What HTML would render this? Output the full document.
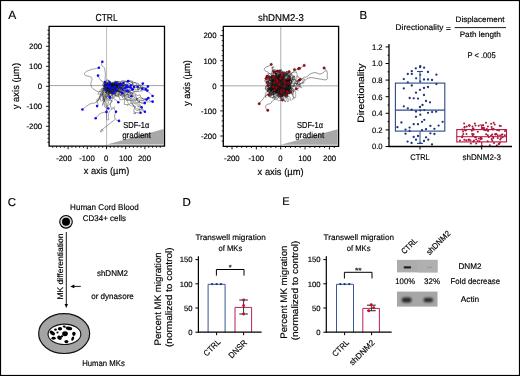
<!DOCTYPE html>
<html><head><meta charset="utf-8"><style>
html,body{margin:0;padding:0;background:#fff;}
svg{display:block;font-family:"Liberation Sans", sans-serif;will-change:transform;text-rendering:geometricPrecision;}
</style></head><body>
<svg width="520" height="376" viewBox="0 0 520 376">

<rect x="0.5" y="0.5" width="519" height="375" fill="#fff" stroke="#000" stroke-width="1.2"/>
<text x="8.3" y="18.8" font-size="12" text-anchor="start" fill="#000" stroke="#000" stroke-width="0.16" textLength="8.0" lengthAdjust="spacingAndGlyphs">A</text>
<text x="359.5" y="18.7" font-size="11.5" text-anchor="start" fill="#000" stroke="#000" stroke-width="0.16" textLength="7.67" lengthAdjust="spacingAndGlyphs">B</text>
<text x="7.8" y="205.7" font-size="11.5" text-anchor="start" fill="#000" stroke="#000" stroke-width="0.16" textLength="8.3" lengthAdjust="spacingAndGlyphs">C</text>
<text x="182.5" y="205.6" font-size="11.5" text-anchor="start" fill="#000" stroke="#000" stroke-width="0.16" textLength="8.3" lengthAdjust="spacingAndGlyphs">D</text>
<text x="282.3" y="205" font-size="11" text-anchor="start" fill="#000" stroke="#000" stroke-width="0.16" textLength="7.34" lengthAdjust="spacingAndGlyphs">E</text>
<line x1="106.60" y1="26.30" x2="106.60" y2="146.20" stroke="#b4b4b4" stroke-width="0.9"/>
<line x1="49.10" y1="85.60" x2="164.50" y2="85.60" stroke="#999" stroke-width="0.9"/>
<polygon points="106.89999999999999,144.5 163.6,144.5 163.6,129.1" fill="#a8a8a8"/>
<text x="136.3" y="127.9" font-size="8.6" text-anchor="middle" fill="#000" stroke="#000" stroke-width="0.16" textLength="26" lengthAdjust="spacingAndGlyphs">SDF-1α</text>
<text x="136.6" y="138.1" font-size="8.6" text-anchor="middle" fill="#000" stroke="#000" stroke-width="0.16" textLength="28.8" lengthAdjust="spacingAndGlyphs">gradient</text>
<path d="M106.6 85.6 L104.5 84.6 L104.3 82.8 L102.1 81.4 L101.5 81.0 L99.4 78.6 L98.9 77.7 L99.1 77.2 L98.0 75.6" fill="none" stroke="#222" stroke-width="0.42" stroke-opacity="1" stroke-linejoin="round"/>
<path d="M106.6 85.6 L108.1 85.0 L107.4 83.8 L107.2 83.4 L106.8 82.9 L106.8 82.9 L107.3 82.6 L106.0 82.6 L104.9 82.0" fill="none" stroke="#222" stroke-width="0.42" stroke-opacity="1" stroke-linejoin="round"/>
<path d="M106.6 85.6 L105.9 85.4 L105.6 85.4 L108.0 85.2 L108.8 84.1 L108.8 84.4 L109.0 84.4 L109.3 83.6 L109.9 82.9" fill="none" stroke="#222" stroke-width="0.42" stroke-opacity="1" stroke-linejoin="round"/>
<path d="M106.6 85.6 L108.3 85.0 L109.2 84.8 L110.2 84.1 L111.3 83.8 L112.6 84.1 L113.0 83.3 L113.9 83.4 L115.5 82.9" fill="none" stroke="#222" stroke-width="0.42" stroke-opacity="1" stroke-linejoin="round"/>
<path d="M106.6 85.6 L106.0 87.0 L105.0 88.1 L104.0 88.4 L101.7 88.8 L101.1 91.3 L100.9 93.3 L100.5 94.9 L99.4 96.6 L100.1 97.2 L98.1 100.1 L97.1 102.0 L96.8 101.7 L98.1 104.4 L97.1 106.1" fill="none" stroke="#222" stroke-width="0.42" stroke-opacity="1" stroke-linejoin="round"/>
<path d="M106.6 85.6 L106.4 86.1 L105.8 87.9 L106.7 90.2 L106.4 93.2 L105.2 95.5 L106.0 96.6 L103.6 97.0 L103.5 99.1 L104.9 99.4 L104.5 101.6 L103.9 100.4 L104.4 104.4 L105.2 104.8 L104.3 106.5 L106.8 108.7 L106.5 111.9" fill="none" stroke="#222" stroke-width="0.42" stroke-opacity="1" stroke-linejoin="round"/>
<path d="M106.6 85.6 L106.7 89.0 L106.2 90.0 L107.2 92.9 L108.1 94.7 L106.4 95.4 L106.0 96.2 L106.8 97.3 L107.8 98.9 L107.7 100.4 L108.4 102.8 L108.1 104.0 L106.8 107.1 L108.6 108.4 L108.3 108.5" fill="none" stroke="#222" stroke-width="0.42" stroke-opacity="1" stroke-linejoin="round"/>
<path d="M106.6 85.6 L107.1 87.2 L109.2 88.9 L108.9 88.3 L110.5 89.9 L109.5 91.5 L108.5 95.8 L109.8 97.7 L110.0 97.4" fill="none" stroke="#222" stroke-width="0.42" stroke-opacity="1" stroke-linejoin="round"/>
<path d="M106.6 85.6 L107.3 86.0 L108.7 85.8 L108.7 89.0 L111.1 89.8 L110.4 92.6 L112.1 93.6 L112.3 94.9 L111.9 96.2 L114.0 98.8 L116.9 100.7 L117.6 101.7 L118.3 102.3" fill="none" stroke="#222" stroke-width="0.42" stroke-opacity="1" stroke-linejoin="round"/>
<path d="M106.6 85.6 L105.2 87.9 L107.5 90.3 L109.8 92.0 L109.6 93.6 L109.8 93.7 L108.5 93.4 L109.2 95.1 L109.3 98.2 L110.2 100.3 L112.3 100.8 L110.7 103.1 L110.5 106.1 L111.6 108.7 L113.1 107.7 L114.6 108.4 L114.4 109.3 L116.0 111.8" fill="none" stroke="#222" stroke-width="0.42" stroke-opacity="1" stroke-linejoin="round"/>
<path d="M106.6 85.6 L109.1 84.9 L110.2 83.6 L111.7 85.0 L112.6 86.1 L114.4 88.0 L115.2 88.1 L116.1 90.6 L118.7 91.3 L120.5 92.3 L122.3 93.0" fill="none" stroke="#222" stroke-width="0.42" stroke-opacity="1" stroke-linejoin="round"/>
<path d="M106.6 85.6 L108.0 84.4 L109.0 86.1 L111.3 86.2 L112.8 86.4 L114.9 85.7 L116.8 86.1 L117.8 85.3 L118.5 84.2 L121.1 81.9 L122.6 81.3 L123.6 81.4 L126.5 81.6 L128.1 81.0" fill="none" stroke="#222" stroke-width="0.42" stroke-opacity="1" stroke-linejoin="round"/>
<path d="M106.6 85.6 L108.3 86.4 L109.8 85.3 L110.5 84.2 L111.1 85.2 L113.3 84.9 L116.5 84.3 L119.1 85.0 L119.5 83.5 L120.5 84.3 L123.6 83.1" fill="none" stroke="#222" stroke-width="0.42" stroke-opacity="1" stroke-linejoin="round"/>
<path d="M106.6 85.6 L109.4 85.3 L110.7 84.9 L112.1 83.2 L112.9 82.0 L115.1 84.2 L119.5 84.0 L119.5 83.7 L120.3 85.8 L122.6 85.2 L125.3 85.8 L125.4 85.4 L126.9 85.5" fill="none" stroke="#222" stroke-width="0.42" stroke-opacity="1" stroke-linejoin="round"/>
<path d="M106.6 85.6 L108.3 85.1 L110.0 84.4 L110.5 86.0 L112.4 86.4 L112.2 86.1 L114.6 84.6 L117.3 84.1 L119.2 83.9 L121.0 85.1 L122.1 86.7 L122.7 85.6 L125.0 84.4 L126.1 85.3 L128.9 83.2 L131.0 85.2" fill="none" stroke="#222" stroke-width="0.42" stroke-opacity="1" stroke-linejoin="round"/>
<path d="M106.6 85.6 L109.6 85.5 L110.4 85.3 L110.7 85.1 L112.1 85.1 L115.0 85.0 L114.9 86.3 L115.2 85.9 L116.7 85.7 L117.1 85.5 L121.2 85.0 L122.6 86.4 L125.0 87.4 L127.6 85.3 L128.2 85.6 L130.4 87.2 L132.5 87.1 L134.1 87.0" fill="none" stroke="#222" stroke-width="0.42" stroke-opacity="1" stroke-linejoin="round"/>
<path d="M106.6 85.6 L108.5 86.0 L109.7 84.6 L110.2 85.6 L113.4 86.4 L116.0 87.0 L117.6 87.4 L117.9 86.8 L118.6 87.3 L119.5 86.7 L121.6 88.0 L122.2 86.4 L124.8 84.7 L127.0 83.5 L128.4 81.0 L130.9 81.0 L131.4 82.0 L133.9 86.0 L136.0 85.1 L137.7 86.7" fill="none" stroke="#222" stroke-width="0.42" stroke-opacity="1" stroke-linejoin="round"/>
<path d="M106.6 85.6 L108.5 86.4 L111.1 85.3 L113.1 84.8 L113.4 86.1 L116.2 86.4 L116.9 83.9 L119.4 83.9 L119.1 84.0 L118.9 84.1 L121.0 84.7 L123.2 85.1 L123.6 84.8 L124.8 84.6 L127.1 85.6 L131.2 82.3 L133.6 82.2 L138.6 83.6 L138.3 84.4 L139.5 85.9 L140.0 85.9 L141.7 85.9 L142.8 83.6" fill="none" stroke="#222" stroke-width="0.42" stroke-opacity="1" stroke-linejoin="round"/>
<path d="M106.6 85.6 L108.9 87.7 L110.3 86.8 L112.2 88.3 L113.5 88.9 L117.2 87.9 L117.9 85.7 L118.5 85.3 L118.7 84.9 L122.9 85.2 L124.3 89.1 L125.8 87.2 L128.0 86.4 L131.9 85.2 L132.7 83.5 L134.4 82.7 L135.9 82.8 L136.6 84.8 L139.5 85.5 L139.8 84.5 L141.7 88.7 L142.7 88.1 L143.2 87.2 L143.4 87.5 L147.1 88.1 L147.9 86.4" fill="none" stroke="#222" stroke-width="0.42" stroke-opacity="1" stroke-linejoin="round"/>
<path d="M106.6 85.6 L108.5 85.5 L108.4 83.9 L109.9 85.2 L112.3 85.4 L113.5 85.7 L115.0 88.5 L115.1 87.9 L118.4 87.5 L121.8 87.3 L123.6 86.7 L123.3 85.3 L127.9 86.1 L130.3 87.3 L132.6 88.5 L133.8 88.2 L136.7 87.6 L136.5 87.2 L137.4 87.9 L138.0 86.4 L139.1 88.4 L140.6 88.5 L142.2 88.8" fill="none" stroke="#222" stroke-width="0.42" stroke-opacity="1" stroke-linejoin="round"/>
<path d="M106.6 85.6 L109.5 87.8 L108.7 89.9 L110.2 89.7 L115.1 89.7 L119.4 91.3 L119.5 92.2 L122.1 92.2 L120.3 92.0 L121.6 90.6 L125.7 90.5 L126.7 90.3 L127.2 89.4 L128.8 90.1 L129.7 90.2 L129.2 91.1 L129.7 91.6 L130.0 91.1 L131.8 89.6 L136.9 89.8 L138.3 89.0 L142.1 91.2 L144.1 89.5 L144.9 90.6 L145.7 89.1" fill="none" stroke="#222" stroke-width="0.42" stroke-opacity="1" stroke-linejoin="round"/>
<path d="M106.6 85.6 L106.6 84.9 L108.4 84.3 L110.2 88.8 L114.5 87.7 L116.7 88.2 L118.3 90.1 L119.6 90.0 L120.8 90.3 L124.4 91.8 L124.2 91.6 L124.8 93.2 L126.9 94.8 L128.5 92.5 L130.9 93.2 L133.4 91.7 L135.3 91.1 L136.0 92.0 L138.3 91.1 L137.5 87.9 L138.5 89.9 L140.1 87.1 L140.6 88.1 L144.8 90.2 L147.1 90.9 L147.3 90.6" fill="none" stroke="#222" stroke-width="0.42" stroke-opacity="1" stroke-linejoin="round"/>
<path d="M106.6 85.6 L107.6 85.0 L109.1 84.9 L110.9 86.8 L113.2 87.5 L114.3 86.1 L115.6 87.0 L115.9 88.7 L116.9 89.4 L118.0 88.3 L121.7 87.3 L124.2 86.9 L125.9 86.3 L126.9 87.6 L130.5 87.0 L131.9 88.3 L132.6 89.4" fill="none" stroke="#222" stroke-width="0.42" stroke-opacity="1" stroke-linejoin="round"/>
<path d="M106.6 85.6 L107.0 87.1 L108.8 89.2 L110.4 88.6 L112.5 88.1 L114.6 90.6 L116.6 90.8 L119.2 91.7 L119.1 92.1 L122.0 92.5 L123.4 92.9 L122.7 93.0 L124.4 94.1 L125.5 92.4 L128.2 94.0 L130.6 96.2 L131.4 96.3" fill="none" stroke="#222" stroke-width="0.42" stroke-opacity="1" stroke-linejoin="round"/>
<path d="M106.6 85.6 L108.5 88.7 L107.3 88.7 L107.6 90.0 L111.3 90.0 L110.8 90.5 L111.8 88.5 L114.6 88.1 L117.2 86.4 L120.3 84.5 L123.4 82.1 L127.1 81.9 L126.0 81.9 L128.0 81.0 L128.6 81.6 L129.8 81.0 L130.6 81.0 L132.5 81.0 L132.8 84.8 L135.5 85.7 L138.7 87.7 L140.3 87.1 L143.3 88.2 L141.8 86.9 L143.9 87.4 L145.8 88.9 L147.5 91.8 L148.0 91.6 L149.9 93.2 L152.6 96.0" fill="none" stroke="#222" stroke-width="0.42" stroke-opacity="1" stroke-linejoin="round"/>
<path d="M106.6 85.6 L107.3 87.8 L109.5 86.6 L110.8 90.1 L113.4 89.8 L111.3 89.1 L111.7 89.6 L116.6 91.1 L118.6 90.1 L118.2 90.2 L119.0 95.1 L119.8 94.6 L123.0 95.1 L122.6 97.4 L123.6 95.8 L125.6 96.9 L126.5 98.4 L129.2 97.4 L127.6 94.2 L128.8 96.5 L131.8 99.0 L136.1 99.4 L139.1 97.5 L141.6 98.4 L143.0 98.2 L142.7 98.8 L146.1 98.6 L148.4 98.0" fill="none" stroke="#222" stroke-width="0.42" stroke-opacity="1" stroke-linejoin="round"/>
<path d="M106.6 85.6 L108.6 84.6 L110.7 84.8 L112.8 84.4 L112.7 84.4 L115.8 87.2 L116.9 88.9 L119.6 90.0 L118.9 91.0 L119.1 93.2 L121.9 94.6 L119.7 96.0 L122.3 94.6 L125.4 95.2 L126.7 94.7 L126.8 94.5 L133.0 95.3 L134.9 94.9 L135.6 94.5 L135.8 96.3 L137.0 98.1 L136.9 100.0 L138.5 101.5 L139.9 100.6 L143.3 100.5 L144.7 99.7 L146.6 99.6" fill="none" stroke="#222" stroke-width="0.42" stroke-opacity="1" stroke-linejoin="round"/>
<path d="M106.6 85.6 L108.5 86.7 L108.8 84.9 L110.9 86.9 L113.4 85.5 L115.8 86.7 L117.7 87.9 L118.6 88.7 L121.5 88.4 L120.5 88.7 L122.3 86.3 L122.6 87.7 L123.8 88.4 L123.1 90.4 L127.4 90.5 L127.6 89.2 L130.5 89.8 L130.6 92.3 L133.2 93.8 L131.8 94.1 L134.2 92.7 L137.1 95.5 L140.2 94.8 L140.5 96.9 L143.5 99.4 L146.9 99.7 L147.6 97.2 L150.3 101.4 L150.9 101.1 L153.4 102.3 L152.6 101.6" fill="none" stroke="#222" stroke-width="0.42" stroke-opacity="1" stroke-linejoin="round"/>
<path d="M106.6 85.6 L106.3 88.9 L106.5 90.5 L110.7 93.7 L114.1 96.4 L113.6 96.3 L113.8 96.2 L119.0 94.0 L121.1 92.6 L124.4 94.8 L125.0 98.2 L126.4 100.5 L128.2 100.0 L128.9 100.2 L131.2 100.7 L136.0 100.8 L136.6 100.1 L136.7 98.3 L136.6 100.0 L138.0 100.1 L139.8 102.0 L142.1 103.5 L142.5 103.4 L142.7 103.7 L142.8 103.4 L143.9 103.5 L144.8 103.1" fill="none" stroke="#222" stroke-width="0.42" stroke-opacity="1" stroke-linejoin="round"/>
<path d="M106.6 85.6 L110.5 86.3 L111.0 87.9 L111.4 87.5 L113.5 86.3 L110.7 88.0 L114.2 86.8 L114.9 88.9 L114.0 88.8 L114.2 89.8 L113.3 92.3 L115.0 94.0 L116.5 92.1 L118.3 91.4 L120.3 91.4 L121.8 92.3 L124.9 94.7 L125.4 95.9 L129.5 97.8 L130.4 98.9 L131.8 101.5 L133.9 103.3 L139.1 102.5 L139.6 101.2 L139.2 103.7 L141.6 107.3" fill="none" stroke="#222" stroke-width="0.42" stroke-opacity="1" stroke-linejoin="round"/>
<path d="M106.6 85.6 L104.4 85.1 L107.5 87.6 L109.7 89.8 L110.6 90.7 L111.6 92.9 L112.2 94.3 L115.3 93.4 L115.0 95.2 L115.4 95.8 L119.6 97.3 L119.8 99.9 L124.6 99.1 L124.4 100.1 L124.3 104.4 L126.0 104.7 L127.6 104.3 L127.5 105.4 L132.1 102.7 L133.6 105.7 L135.7 109.6 L137.2 110.7 L137.9 110.2 L141.3 109.3 L142.0 109.3 L141.6 106.7 L141.9 107.8 L143.0 110.0 L143.6 109.9 L144.9 111.8" fill="none" stroke="#222" stroke-width="0.42" stroke-opacity="1" stroke-linejoin="round"/>
<path d="M106.6 85.6 L106.8 84.0 L106.9 86.3 L110.0 85.7 L111.8 87.7 L115.4 87.4 L116.6 90.2 L121.9 93.2 L121.7 94.6 L122.9 95.2 L123.5 95.2 L125.1 98.6 L127.7 100.0 L129.4 99.6 L130.6 102.1 L133.5 105.8 L135.5 106.5 L134.6 107.8 L133.6 110.8 L134.3 111.5 L133.9 111.5 L134.1 113.9 L136.0 112.8 L134.7 113.4 L135.6 112.4 L138.1 112.9 L139.9 112.7 L140.6 112.7" fill="none" stroke="#222" stroke-width="0.42" stroke-opacity="1" stroke-linejoin="round"/>
<path d="M106.6 85.6 L105.9 86.0 L106.4 85.0 L106.7 85.7 L107.0 86.4 L107.1 86.5 L106.6 86.0 L105.8 85.5 L106.2 85.8" fill="none" stroke="#222" stroke-width="0.42" stroke-opacity="1" stroke-linejoin="round"/>
<path d="M106.6 85.6 L107.6 85.6 L107.2 85.7 L107.3 86.7 L108.7 87.2 L108.3 86.8 L108.6 86.2 L109.2 86.6 L109.9 86.6" fill="none" stroke="#222" stroke-width="0.42" stroke-opacity="1" stroke-linejoin="round"/>
<path d="M106.6 85.6 L106.7 84.9 L107.3 85.7 L109.1 86.3 L110.1 86.7 L111.4 87.5 L112.7 86.3 L114.1 86.4 L114.5 86.7" fill="none" stroke="#222" stroke-width="0.42" stroke-opacity="1" stroke-linejoin="round"/>
<path d="M106.6 85.6 L108.7 85.6 L109.2 85.7 L111.5 85.7 L112.1 86.1 L114.6 86.3 L116.8 86.0 L118.1 86.5 L119.7 86.7" fill="none" stroke="#222" stroke-width="0.42" stroke-opacity="1" stroke-linejoin="round"/>
<path d="M106.6 85.6 L109.3 86.3 L109.9 85.4 L110.5 86.2 L110.5 86.3 L109.5 86.9 L109.6 87.6 L111.0 87.7 L112.2 88.1" fill="none" stroke="#222" stroke-width="0.42" stroke-opacity="1" stroke-linejoin="round"/>
<path d="M106.6 85.6 L106.5 85.6 L105.9 86.7 L106.5 86.3 L107.0 86.0 L106.1 87.0 L105.2 88.0 L105.4 88.8 L105.7 89.8" fill="none" stroke="#222" stroke-width="0.42" stroke-opacity="1" stroke-linejoin="round"/>
<path d="M106.6 85.6 L108.0 86.3 L109.2 87.5 L110.0 88.5 L112.3 88.7 L113.7 88.6 L114.5 89.1 L115.3 88.7 L116.4 89.1" fill="none" stroke="#222" stroke-width="0.42" stroke-opacity="1" stroke-linejoin="round"/>
<path d="M106.6 85.6 L108.5 86.3 L108.5 87.6 L109.9 87.0 L111.2 87.5 L113.6 87.2 L115.3 85.8 L117.1 85.8 L118.3 86.7 L121.5 87.7 L122.4 89.1" fill="none" stroke="#222" stroke-width="0.42" stroke-opacity="1" stroke-linejoin="round"/>
<path d="M106.6 85.6 L108.1 85.9 L109.4 86.7 L111.8 87.2 L113.4 87.4 L114.9 88.7 L116.2 88.9 L117.8 88.5 L119.4 87.4 L121.7 88.3 L123.2 90.2 L124.3 91.1 L126.6 90.9" fill="none" stroke="#222" stroke-width="0.42" stroke-opacity="1" stroke-linejoin="round"/>
<path d="M106.6 85.6 L108.1 86.7 L109.9 87.2 L113.2 87.6 L113.1 86.9 L115.8 86.9 L116.4 84.9 L118.5 86.7 L118.8 84.4 L121.2 84.0 L122.6 83.8 L123.3 84.4 L126.1 84.9 L127.3 86.2 L128.9 87.0 L129.6 87.9 L132.2 89.5" fill="none" stroke="#222" stroke-width="0.42" stroke-opacity="1" stroke-linejoin="round"/>
<path d="M106.6 85.6 L108.2 86.5 L109.2 87.8 L111.5 89.3 L112.7 88.7 L114.2 89.0 L115.1 90.0 L117.5 90.9 L120.1 91.7 L120.8 91.7 L122.0 92.8" fill="none" stroke="#222" stroke-width="0.42" stroke-opacity="1" stroke-linejoin="round"/>
<path d="M106.6 85.6 L108.1 86.7 L109.7 87.1 L110.4 89.2 L111.5 91.0 L110.9 90.8 L111.0 92.5 L113.1 93.1 L113.1 93.3" fill="none" stroke="#222" stroke-width="0.42" stroke-opacity="1" stroke-linejoin="round"/>
<path d="M106.6 85.6 L106.2 87.1 L106.2 89.7 L107.1 90.2 L107.6 91.1 L108.6 92.9 L108.6 94.6 L109.4 95.6 L109.9 97.2" fill="none" stroke="#222" stroke-width="0.42" stroke-opacity="1" stroke-linejoin="round"/>
<path d="M106.6 85.6 L108.6 84.9 L111.9 84.7 L113.6 84.9 L114.6 84.8 L115.7 84.2 L116.4 83.4 L119.4 83.1 L120.6 84.4" fill="none" stroke="#222" stroke-width="0.42" stroke-opacity="1" stroke-linejoin="round"/>
<path d="M106.6 85.6 L107.5 86.5 L108.6 84.4 L112.0 83.4 L114.3 84.0 L114.6 83.5 L115.5 83.5 L117.1 81.6 L118.7 81.8 L120.0 81.8 L121.0 81.1 L122.9 80.7 L125.8 81.1 L128.2 81.2" fill="none" stroke="#222" stroke-width="0.42" stroke-opacity="1" stroke-linejoin="round"/>
<path d="M106.3 88.9 L107.7 89.1 L108.8 91.2 L110.3 90.5 L111.2 90.1 L112.1 89.4 L112.1 91.9 L114.6 90.4 L114.4 90.3 L115.1 89.1 L117.4 87.6 L119.4 89.0 L120.0 88.7 L121.3 89.4 L119.7 88.4" fill="none" stroke="#111" stroke-width="0.45" stroke-opacity="1" stroke-linejoin="round"/>
<path d="M108.4 86.7 L108.4 85.8 L112.8 84.3 L115.6 84.9 L116.8 85.2 L117.2 87.4 L118.8 87.4 L119.5 87.7 L119.0 87.4 L119.1 88.2 L120.7 85.9 L121.3 87.2 L120.6 85.8 L122.8 85.7 L123.1 84.2" fill="none" stroke="#111" stroke-width="0.45" stroke-opacity="1" stroke-linejoin="round"/>
<path d="M106.3 85.1 L108.5 84.5 L109.1 84.3 L110.3 84.2 L110.9 83.7 L111.5 82.7 L113.0 83.9 L113.6 84.4 L115.4 84.3 L117.5 83.4 L119.6 83.5 L116.4 83.7 L118.5 86.0 L118.5 85.8 L120.2 84.4" fill="none" stroke="#111" stroke-width="0.45" stroke-opacity="1" stroke-linejoin="round"/>
<path d="M108.2 87.7 L107.8 90.8 L110.7 87.7 L108.6 88.7 L108.6 87.9 L109.5 88.1 L110.0 88.5 L108.8 90.3 L108.3 91.8 L109.3 91.9 L109.7 92.0 L107.5 91.6 L108.2 89.6 L106.4 91.1 L107.6 89.2" fill="none" stroke="#111" stroke-width="0.45" stroke-opacity="1" stroke-linejoin="round"/>
<path d="M109.4 86.6 L110.4 85.6 L111.9 85.4 L112.3 84.9 L112.7 85.7 L112.6 83.7 L112.7 85.0 L113.3 85.8 L115.5 85.1 L117.7 85.7 L119.0 84.8 L120.2 83.1 L121.1 82.3 L122.9 82.7 L123.4 83.8" fill="none" stroke="#111" stroke-width="0.45" stroke-opacity="1" stroke-linejoin="round"/>
<path d="M107.2 86.2 L104.4 85.1 L105.5 87.3 L104.8 89.0 L108.1 91.0 L105.4 92.1 L105.9 93.0 L106.0 91.9 L106.0 93.5 L107.4 92.8 L108.2 93.5 L109.3 93.1 L108.7 91.9 L108.5 90.8 L106.8 88.6" fill="none" stroke="#111" stroke-width="0.45" stroke-opacity="1" stroke-linejoin="round"/>
<path d="M107.6 87.4 L111.0 89.5 L111.9 88.6 L112.7 87.9 L113.5 89.0 L113.6 88.4 L114.8 88.8 L115.3 88.2 L115.3 87.7 L117.5 87.8 L115.0 89.1 L116.4 88.4 L117.6 84.9 L116.9 86.9 L121.2 90.1" fill="none" stroke="#111" stroke-width="0.45" stroke-opacity="1" stroke-linejoin="round"/>
<path d="M109.0 87.8 L111.4 86.9 L111.9 85.3 L112.6 85.2 L114.1 83.7 L114.2 86.0 L112.8 86.4 L113.5 85.7 L113.3 87.5 L114.9 88.2 L115.4 86.6 L115.7 88.9 L117.2 87.1 L114.6 86.2 L114.9 85.4" fill="none" stroke="#111" stroke-width="0.45" stroke-opacity="1" stroke-linejoin="round"/>
<path d="M105.7 86.3 L107.8 84.3 L108.9 84.6 L107.4 86.0 L105.7 83.9 L109.6 85.4 L110.6 86.9 L112.5 85.2 L113.6 86.8 L113.8 86.7 L113.6 87.4 L113.3 86.4 L112.2 85.0 L112.9 85.4 L112.8 83.8" fill="none" stroke="#111" stroke-width="0.45" stroke-opacity="1" stroke-linejoin="round"/>
<path d="M109.4 87.7 L109.2 87.3 L111.6 86.2 L111.9 84.0 L111.8 84.2 L113.3 84.7 L111.6 84.8 L110.7 84.5 L108.0 83.4 L107.3 84.1 L107.8 84.8 L107.7 86.3 L107.5 87.8 L107.2 85.5 L108.8 84.0" fill="none" stroke="#111" stroke-width="0.45" stroke-opacity="1" stroke-linejoin="round"/>
<path d="M107.4 84.9 L107.5 85.7 L105.5 87.2 L105.9 89.4 L106.5 88.9 L106.9 89.5 L108.7 89.2 L108.7 90.1 L110.8 88.1 L110.4 87.5 L113.7 89.4 L115.7 90.4 L115.3 92.2 L115.7 91.4 L119.2 89.8" fill="none" stroke="#111" stroke-width="0.45" stroke-opacity="1" stroke-linejoin="round"/>
<path d="M107.5 86.4 L106.1 87.0 L105.0 85.7 L108.2 85.4 L109.2 85.6 L109.8 84.3 L108.2 80.3 L109.2 81.2 L107.4 82.6 L107.9 86.8 L107.9 88.3 L108.5 89.7 L108.1 89.4 L108.8 91.4 L107.0 90.2" fill="none" stroke="#111" stroke-width="0.45" stroke-opacity="1" stroke-linejoin="round"/>
<path d="M108.5 88.5 L109.3 89.4 L111.6 89.6 L113.9 88.6 L114.8 88.7 L113.0 88.3 L114.4 89.7 L113.7 91.1 L114.6 92.2 L114.7 92.6 L113.3 92.4 L113.2 91.4 L112.5 91.6 L112.5 92.9 L110.9 92.3" fill="none" stroke="#111" stroke-width="0.45" stroke-opacity="1" stroke-linejoin="round"/>
<path d="M109.0 85.4 L111.0 84.6 L110.0 85.1 L112.6 82.2 L112.9 81.8 L114.7 83.3 L114.9 80.8 L116.3 81.7 L117.3 81.3 L116.7 84.1 L115.6 81.6 L117.3 81.6 L118.7 81.6 L121.3 83.0 L121.1 83.9" fill="none" stroke="#111" stroke-width="0.45" stroke-opacity="1" stroke-linejoin="round"/>
<path d="M109.4 87.4 L107.5 87.7 L107.6 88.6 L108.5 87.8 L108.5 89.1 L108.2 89.5 L107.9 90.3 L111.2 91.3 L113.6 92.1 L113.3 92.0 L114.3 92.8 L114.5 93.9 L114.5 94.2 L115.4 92.9 L117.7 93.2" fill="none" stroke="#111" stroke-width="0.45" stroke-opacity="1" stroke-linejoin="round"/>
<path d="M108.0 89.4 L108.0 89.9 L108.4 90.0 L108.3 88.1 L108.8 88.7 L107.8 87.7 L109.6 87.1 L110.7 87.3 L112.3 85.2 L114.3 83.4 L115.1 84.5 L119.5 85.7 L121.2 83.9 L121.4 85.3 L123.0 82.7" fill="none" stroke="#111" stroke-width="0.45" stroke-opacity="1" stroke-linejoin="round"/>
<path d="M105.8 87.7 L103.2 87.7 L103.3 88.4 L105.5 88.4 L105.6 89.3 L105.8 88.8 L104.4 86.4 L105.1 87.0 L105.6 86.6 L105.9 86.2 L104.8 87.6 L105.9 89.3 L106.1 89.7 L108.1 92.3 L107.6 91.8" fill="none" stroke="#111" stroke-width="0.45" stroke-opacity="1" stroke-linejoin="round"/>
<path d="M106.8 89.4 L104.7 87.5 L105.7 88.1 L103.9 86.8 L106.5 87.9 L106.8 87.2 L106.3 87.0 L105.5 83.6 L104.2 82.9 L103.1 83.6 L105.4 84.2 L107.0 84.9 L107.9 85.3 L109.2 85.6 L108.5 84.0" fill="none" stroke="#111" stroke-width="0.45" stroke-opacity="1" stroke-linejoin="round"/>
<path d="M109.0 86.4 L108.3 85.6 L110.1 85.5 L110.4 84.6 L110.8 86.7 L110.5 86.2 L113.4 87.2 L112.5 88.6 L111.5 89.3 L108.8 88.0 L110.6 87.2 L110.3 87.3 L110.9 86.7 L110.6 89.1 L113.2 89.5" fill="none" stroke="#111" stroke-width="0.45" stroke-opacity="1" stroke-linejoin="round"/>
<path d="M106.9 85.4 L109.4 85.2 L109.9 85.2 L110.5 84.9 L111.3 86.9 L111.1 87.1 L111.6 85.9 L114.4 84.7 L114.3 84.1 L116.6 84.0 L116.3 87.1 L116.5 86.6 L116.8 87.4 L116.2 87.7 L116.3 89.2" fill="none" stroke="#111" stroke-width="0.45" stroke-opacity="1" stroke-linejoin="round"/>
<path d="M106.7 86.0 L106.6 87.7 L107.3 87.2 L109.1 85.4 L108.0 84.5 L108.0 83.0 L106.6 80.6 L106.9 79.8 L109.9 80.9 L108.6 82.7 L108.9 84.3 L107.6 85.9 L109.3 85.5 L108.3 85.1 L108.8 88.4" fill="none" stroke="#111" stroke-width="0.45" stroke-opacity="1" stroke-linejoin="round"/>
<path d="M108.2 85.0 L108.6 85.6 L107.9 86.3 L108.9 87.2 L109.1 87.9 L108.8 88.4 L110.3 89.7 L112.2 90.5 L113.4 89.7 L112.8 90.6 L111.9 91.4 L110.6 92.2 L109.6 93.2 L109.1 92.9 L108.5 93.9" fill="none" stroke="#111" stroke-width="0.45" stroke-opacity="1" stroke-linejoin="round"/>
<path d="M109.5 87.4 L110.1 89.0 L108.9 91.5 L112.0 90.9 L114.7 90.7 L116.4 89.1 L117.8 90.1 L116.0 89.8 L114.4 89.3 L114.8 89.9 L111.4 90.2 L111.8 91.1 L113.9 89.5 L114.1 90.3 L114.9 89.3" fill="none" stroke="#111" stroke-width="0.45" stroke-opacity="1" stroke-linejoin="round"/>
<path d="M108.6 88.6 L109.4 88.4 L110.7 84.8 L111.6 83.4 L111.3 84.2 L113.8 84.2 L114.0 85.7 L113.2 85.3 L112.8 83.8 L113.4 86.2 L114.0 86.7 L114.3 87.9 L114.8 86.5 L115.2 88.2 L115.4 89.6" fill="none" stroke="#111" stroke-width="0.45" stroke-opacity="1" stroke-linejoin="round"/>
<path d="M106.3 85.8 L106.7 87.4 L107.1 85.9 L108.2 84.8 L110.8 86.4 L111.6 87.8 L108.9 90.3 L108.8 91.7 L112.8 90.1 L113.0 91.0 L114.3 89.3 L113.8 91.7 L113.7 93.0 L112.6 92.3 L110.9 93.1" fill="none" stroke="#111" stroke-width="0.45" stroke-opacity="1" stroke-linejoin="round"/>
<path d="M107.1 84.9 L107.1 84.1 L107.3 86.2 L109.6 85.0 L107.3 87.1 L108.0 88.3 L108.2 87.5 L108.9 88.6 L109.8 86.7 L110.6 85.8 L109.5 85.9 L108.4 88.4 L108.6 88.4 L107.7 88.3 L106.8 88.6" fill="none" stroke="#111" stroke-width="0.45" stroke-opacity="1" stroke-linejoin="round"/>
<path d="M107.8 87.4 L107.7 86.1 L108.1 86.1 L108.0 86.9 L107.0 89.1 L108.2 88.7 L108.7 89.9 L107.5 89.6 L108.3 86.5 L106.4 87.2 L107.1 86.2 L108.1 89.3 L108.2 89.5 L108.1 88.4 L108.7 88.9" fill="none" stroke="#111" stroke-width="0.45" stroke-opacity="1" stroke-linejoin="round"/>
<path d="M106.4 84.7 L107.2 87.4 L105.6 87.8 L105.1 88.3 L106.4 88.8 L107.7 89.5 L107.1 89.0 L105.6 89.7 L105.4 91.2 L106.9 90.4 L105.8 91.6 L105.0 92.3 L106.1 92.2 L108.7 91.6 L109.5 91.4" fill="none" stroke="#111" stroke-width="0.45" stroke-opacity="1" stroke-linejoin="round"/>
<path d="M106.8 85.5 L107.4 85.0 L107.6 85.1 L109.4 85.2 L111.9 86.8 L111.7 88.6 L109.6 89.1 L109.2 89.5 L111.5 90.0 L112.1 92.1 L112.0 91.5 L114.1 92.8 L113.1 93.5 L114.9 93.8 L115.3 94.4" fill="none" stroke="#111" stroke-width="0.45" stroke-opacity="1" stroke-linejoin="round"/>
<path d="M108.9 88.6 L109.9 91.2 L109.7 91.0 L107.8 89.8 L107.4 89.7 L107.9 91.9 L107.8 91.7 L109.2 92.4 L111.4 90.2 L115.4 89.6 L115.6 87.3 L116.1 84.8 L117.5 83.9 L119.0 82.7 L120.2 85.4" fill="none" stroke="#111" stroke-width="0.45" stroke-opacity="1" stroke-linejoin="round"/>
<path d="M107.0 88.6 L104.6 87.4 L106.1 87.3 L107.7 88.7 L110.3 91.7 L110.9 91.5 L111.5 94.0 L111.5 90.9 L110.8 91.1 L110.6 91.3 L111.9 90.4 L112.3 88.4 L109.3 87.8 L108.1 87.3 L107.0 88.7" fill="none" stroke="#111" stroke-width="0.45" stroke-opacity="1" stroke-linejoin="round"/>
<path d="M108.8 85.7 L107.4 84.0 L106.8 82.6 L106.2 83.7 L106.8 85.5 L105.5 82.7 L104.0 85.4 L104.8 85.0 L106.4 84.5 L108.5 84.1 L107.8 85.1 L106.3 85.0 L108.7 85.7 L107.1 85.4 L107.0 84.5" fill="none" stroke="#111" stroke-width="0.45" stroke-opacity="1" stroke-linejoin="round"/>
<path d="M106.6 86.2 L107.6 86.8 L107.3 88.3 L109.8 88.1 L109.3 89.1 L110.1 90.9 L111.5 91.1 L110.4 92.2 L111.2 90.9 L109.9 88.9 L111.4 88.6 L107.8 87.8 L107.6 88.0 L108.3 87.9 L110.0 89.6" fill="none" stroke="#111" stroke-width="0.45" stroke-opacity="1" stroke-linejoin="round"/>
<path d="M108.5 86.2 L109.2 84.9 L109.3 84.1 L109.3 85.0 L106.6 86.1 L107.4 86.4 L108.9 87.4 L108.9 86.7 L110.4 88.3 L109.0 87.9 L107.9 89.6 L107.7 88.5 L110.2 89.7 L111.0 90.6 L111.2 91.2" fill="none" stroke="#111" stroke-width="0.45" stroke-opacity="1" stroke-linejoin="round"/>
<path d="M107.5 85.1 L110.6 83.7 L109.5 83.2 L108.6 85.9 L110.1 86.0 L111.2 87.9 L110.5 87.2 L108.9 88.1 L109.5 89.7 L109.7 87.7 L109.5 88.1 L109.0 87.7 L108.7 86.1 L108.6 87.6 L107.8 87.3" fill="none" stroke="#111" stroke-width="0.45" stroke-opacity="1" stroke-linejoin="round"/>
<path d="M107.1 89.1 L111.0 88.5 L111.1 89.4 L112.7 88.0 L113.8 84.7 L114.4 82.8 L114.3 83.3 L116.3 85.3 L114.4 84.1 L114.9 85.6 L117.9 85.5 L119.7 84.2 L120.6 83.4 L119.0 85.6 L121.6 88.1" fill="none" stroke="#111" stroke-width="0.45" stroke-opacity="1" stroke-linejoin="round"/>
<path d="M108.9 88.8 L107.7 90.0 L107.3 88.0 L107.5 86.5 L107.6 88.7 L106.3 88.2 L107.1 88.3 L107.5 87.3 L107.2 84.3 L107.1 86.1 L105.8 86.0 L106.8 87.7 L108.5 86.7 L108.1 89.1 L107.6 89.6" fill="none" stroke="#111" stroke-width="0.45" stroke-opacity="1" stroke-linejoin="round"/>
<path d="M107.7 89.6 L105.6 88.1 L105.0 89.8 L106.8 90.2 L106.8 88.2 L108.2 87.0 L108.8 88.2 L109.3 88.0 L108.7 89.3 L110.1 90.1 L113.0 87.8 L113.7 88.6 L114.9 88.8 L116.3 86.7 L116.9 88.1" fill="none" stroke="#111" stroke-width="0.45" stroke-opacity="1" stroke-linejoin="round"/>
<path d="M108.9 88.9 L110.2 90.0 L110.6 88.0 L112.1 86.5 L111.8 85.8 L110.4 85.8 L109.6 84.1 L111.4 83.2 L112.5 84.1 L115.3 85.9 L115.3 86.2 L113.9 86.4 L116.5 84.5 L117.8 84.7 L118.4 82.9" fill="none" stroke="#111" stroke-width="0.45" stroke-opacity="1" stroke-linejoin="round"/>
<path d="M106.5 86.4 L107.9 88.3 L111.0 88.8 L114.5 89.6 L113.9 89.0 L115.4 89.1 L114.3 92.0 L113.4 90.4 L115.1 90.5 L118.2 90.6 L119.8 91.4 L120.0 89.5 L120.5 90.7 L121.2 92.2 L121.6 93.1" fill="none" stroke="#111" stroke-width="0.45" stroke-opacity="1" stroke-linejoin="round"/>
<path d="M106.6 84.7 L106.6 86.9 L107.1 88.1 L108.6 87.5 L108.1 88.0 L110.3 87.1 L109.6 86.4 L109.6 85.5 L109.1 86.8 L108.3 87.3 L107.3 87.6 L108.6 85.5 L109.2 86.4 L109.7 87.3 L110.8 86.1" fill="none" stroke="#111" stroke-width="0.45" stroke-opacity="1" stroke-linejoin="round"/>
<path d="M109.1 88.8 L108.2 87.3 L108.1 86.1 L106.7 87.4 L109.5 85.0 L111.6 84.0 L112.4 84.8 L113.9 84.8 L112.7 85.0 L113.6 84.1 L114.0 84.3 L114.2 84.6 L114.9 86.0 L114.4 85.8 L111.5 84.9" fill="none" stroke="#111" stroke-width="0.45" stroke-opacity="1" stroke-linejoin="round"/>
<path d="M108.0 87.5 L108.9 89.1 L110.7 88.2 L111.3 89.8 L110.4 89.7 L109.0 89.1 L110.2 89.5 L110.0 89.0 L112.2 90.2 L110.8 93.3 L110.5 93.4 L110.1 92.8 L111.2 91.2 L111.5 91.0 L114.0 91.7" fill="none" stroke="#111" stroke-width="0.45" stroke-opacity="1" stroke-linejoin="round"/>
<path d="M105.7 85.4 L103.1 86.1 L103.2 87.2 L104.2 86.7 L103.5 85.5 L104.5 85.6 L103.9 85.3 L104.9 84.6 L105.2 84.0 L102.4 84.3 L103.0 85.5 L105.3 84.7 L106.6 85.2 L107.3 86.5 L109.0 85.0" fill="none" stroke="#111" stroke-width="0.45" stroke-opacity="1" stroke-linejoin="round"/>
<path d="M108.1 86.5 L109.1 85.0 L111.7 85.6 L111.8 86.7 L113.3 86.8 L115.8 86.6 L116.7 87.3 L115.5 85.7 L117.4 87.1 L116.5 87.1 L116.8 86.8 L118.8 88.7 L122.4 89.9 L124.5 90.1 L123.3 90.6" fill="none" stroke="#111" stroke-width="0.45" stroke-opacity="1" stroke-linejoin="round"/>
<path d="M108.6 88.2 L111.1 88.9 L111.7 89.5 L112.2 89.6 L113.3 88.6 L113.8 88.8 L115.0 87.3 L115.5 87.1 L116.5 87.7 L116.9 88.3 L117.6 90.0 L118.1 90.7 L117.1 90.3 L118.3 91.7 L117.1 91.5" fill="none" stroke="#111" stroke-width="0.45" stroke-opacity="1" stroke-linejoin="round"/>
<path d="M108.1 85.6 L108.3 85.7 L110.0 84.6 L109.2 85.6 L110.2 85.3 L109.0 86.7 L108.0 88.2 L108.7 88.0 L108.9 89.0 L109.2 86.7 L108.7 83.9 L109.6 85.1 L111.3 83.3 L114.4 85.7 L114.7 83.1" fill="none" stroke="#111" stroke-width="0.45" stroke-opacity="1" stroke-linejoin="round"/>
<path d="M109.4 89.1 L107.3 88.2 L110.1 88.7 L108.6 86.3 L109.7 87.8 L109.4 88.0 L109.8 87.9 L109.4 87.6 L109.0 89.6 L109.8 91.4 L112.5 88.8 L112.7 90.5 L112.7 90.1 L113.5 89.8 L112.8 89.9" fill="none" stroke="#111" stroke-width="0.45" stroke-opacity="1" stroke-linejoin="round"/>
<path d="M105.6 86.2 L105.3 90.2 L105.3 89.7 L105.3 88.8 L103.6 89.0 L105.8 86.5 L105.1 87.0 L104.4 87.6 L104.7 86.1 L104.7 85.4 L105.7 82.0 L106.5 83.7 L106.9 84.0 L106.5 84.3 L106.6 82.6" fill="none" stroke="#111" stroke-width="0.45" stroke-opacity="1" stroke-linejoin="round"/>
<path d="M105.8 85.1 L108.6 86.8 L110.9 86.3 L109.8 86.9 L110.7 88.7 L111.9 89.8 L113.4 91.5 L115.0 93.3 L115.7 94.5 L115.1 94.3 L116.1 96.2 L116.5 95.7 L119.1 96.0 L118.2 96.0 L118.1 94.2" fill="none" stroke="#111" stroke-width="0.45" stroke-opacity="1" stroke-linejoin="round"/>
<path d="M108.1 86.9 L110.3 87.1 L110.9 89.0 L110.1 89.0 L111.4 89.3 L110.6 88.2 L113.6 88.1 L114.0 89.6 L112.3 89.6 L110.8 91.5 L110.2 91.7 L109.7 92.0 L110.8 92.1 L111.1 92.5 L111.5 91.9" fill="none" stroke="#111" stroke-width="0.45" stroke-opacity="1" stroke-linejoin="round"/>
<path d="M108.0 88.4 L106.6 88.6 L104.5 90.5 L104.1 90.5 L104.9 89.3 L105.1 89.7 L106.4 88.1 L107.8 88.7 L107.8 89.9 L107.1 89.5 L107.8 88.9 L108.9 90.5 L108.8 90.6 L107.6 89.2 L109.1 87.7" fill="none" stroke="#111" stroke-width="0.45" stroke-opacity="1" stroke-linejoin="round"/>
<path d="M108.0 87.0 L106.7 89.0 L106.7 90.1 L108.9 90.7 L110.2 89.4 L108.9 90.6 L110.3 88.6 L111.4 88.3 L112.0 88.8 L114.1 87.3 L113.6 88.3 L112.9 88.3 L112.4 85.4 L111.2 85.8 L110.1 83.1" fill="none" stroke="#111" stroke-width="0.45" stroke-opacity="1" stroke-linejoin="round"/>
<path d="M106.0 85.4 L107.3 84.4 L107.2 83.7 L107.3 84.6 L109.7 84.6 L111.7 86.4 L110.9 85.6 L111.8 84.2 L114.9 82.0 L114.0 83.4 L113.7 84.6 L113.1 86.3 L113.0 87.6 L115.0 86.0 L114.5 84.0" fill="none" stroke="#111" stroke-width="0.45" stroke-opacity="1" stroke-linejoin="round"/>
<path d="M106.6 86.2 L108.9 87.2 L110.2 86.3 L110.1 86.5 L111.7 87.6 L112.5 86.9 L112.8 88.7 L113.6 91.0 L113.1 91.9 L113.8 92.5 L113.2 92.7 L113.5 92.0 L112.4 89.9 L112.4 90.3 L113.2 90.3" fill="none" stroke="#111" stroke-width="0.45" stroke-opacity="1" stroke-linejoin="round"/>
<path d="M106.6 85.6 L106.2 86.3 L105.5 87.6 L104.6 89.0 L103.5 90.4 L102.7 91.5 L102.3 92.2 L102.2 92.8 L102.3 93.2 L102.4 94.2 L102.6 95.9 L102.8 97.5 L103.0 99.1 L103.2 100.6 L103.6 101.9 L103.4 103.4 L102.7 105.2 L102.4 105.5 L102.5 104.3 L103.0 103.0 L103.7 101.6 L104.6 99.9 L105.9 98.1 L107.2 96.7 L108.5 95.8 L110.0 95.2 L111.7 94.9 L113.0 94.4 L114.1 93.7 L115.0 92.4 L115.7 90.7 L116.2 89.1 L116.5 87.6 L116.6 86.9" fill="none" stroke="#333" stroke-width="0.42" stroke-opacity="1" stroke-linejoin="round"/>
<path d="M106.6 85.6 L106.3 85.9 L105.6 86.4 L105.1 87.3 L104.8 88.4 L104.0 89.2 L102.7 89.9 L102.7 90.6 L103.9 91.4 L104.4 92.0 L104.2 92.3 L104.1 93.3 L104.1 95.1 L104.1 96.3 L103.9 97.1 L103.6 97.3 L103.1 97.0 L103.3 96.4 L104.3 95.5 L105.2 94.8 L106.0 94.2 L106.8 94.2 L107.6 94.8 L108.5 94.4 L109.7 93.3 L110.7 92.6 L111.7 92.2 L112.5 92.1 L113.1 92.2 L113.6 91.3 L114.0 89.6 L114.2 88.4 L114.2 87.9 L114.1 87.7" fill="none" stroke="#333" stroke-width="0.42" stroke-opacity="1" stroke-linejoin="round"/>
<path d="M106.6 85.6 L106.3 85.8 L105.7 86.1 L104.9 86.7 L104.1 87.4 L103.8 88.3 L103.8 89.3 L103.6 90.3 L103.0 91.3 L102.7 92.4 L102.7 93.6 L103.0 94.4 L103.6 94.9 L103.9 95.6 L103.9 96.5 L103.5 97.6 L102.6 98.9 L102.7 99.5 L103.6 99.5 L104.5 99.0 L105.2 97.8 L105.9 97.1 L106.4 96.8 L107.5 96.3 L108.9 95.8 L109.9 95.7 L110.4 96.1 L111.0 95.8 L111.5 94.9 L112.0 94.4 L112.7 94.3 L113.2 93.5 L113.8 91.9 L114.1 91.1" fill="none" stroke="#333" stroke-width="0.42" stroke-opacity="1" stroke-linejoin="round"/>
<path d="M106.6 85.6 L106.4 86.1 L106.1 87.0 L105.9 87.5 L106.0 87.6 L105.2 87.8 L103.5 88.3 L102.6 89.1 L102.4 90.3 L102.4 91.6 L102.3 92.9 L102.1 94.1 L101.7 95.2 L101.2 96.7 L100.5 98.7 L100.2 100.0 L100.2 100.5 L100.7 100.9 L101.6 101.2 L102.6 100.5 L103.7 99.0 L104.7 97.8 L105.7 96.9 L106.4 96.3 L106.8 95.9 L107.7 95.1 L109.0 93.8 L110.0 92.5 L110.7 91.3 L111.3 90.7 L111.9 90.7 L112.4 90.3 L112.7 89.7 L112.9 89.4" fill="none" stroke="#333" stroke-width="0.42" stroke-opacity="1" stroke-linejoin="round"/>
<path d="M106.6 85.6 L106.1 86.0 L105.1 86.9 L104.4 87.7 L104.0 88.2 L103.5 88.5 L102.9 88.4 L102.1 88.6 L101.1 89.1 L100.5 89.6 L100.1 90.3 L99.6 91.1 L99.1 92.0 L98.7 92.7 L98.5 93.2 L98.1 93.7 L97.6 94.2 L98.0 94.3 L99.4 94.0 L100.2 94.1 L100.4 94.5 L101.1 94.7 L102.3 94.9 L103.5 94.7 L104.6 94.0 L105.3 93.8 L105.7 94.0 L106.3 93.7 L107.3 93.2 L108.3 92.4 L109.6 91.4 L111.0 90.7 L112.7 90.2 L113.5 90.0" fill="none" stroke="#333" stroke-width="0.42" stroke-opacity="1" stroke-linejoin="round"/>
<path d="M106.6 85.6 L106.1 85.9 L105.0 86.6 L104.6 87.3 L104.8 88.0 L104.9 88.4 L105.0 88.5 L104.5 88.5 L103.5 88.6 L103.3 89.2 L104.0 90.3 L103.9 91.8 L102.9 93.7 L102.7 95.4 L103.1 96.9 L103.7 98.5 L104.3 100.2 L104.5 100.7 L104.1 100.2 L104.0 100.2 L104.1 100.7 L104.7 100.7 L105.7 100.1 L106.5 98.9 L106.9 97.1 L107.5 95.6 L108.2 94.5 L109.2 93.9 L110.6 93.8 L111.6 93.3 L112.2 92.4 L113.1 91.6 L114.4 90.7 L115.0 90.2" fill="none" stroke="#333" stroke-width="0.42" stroke-opacity="1" stroke-linejoin="round"/>
<path d="M106.6 85.6 L106.7 85.6 L106.8 85.6 L106.6 86.3 L106.1 87.7 L105.3 89.3 L104.3 91.2 L103.5 92.7 L102.9 94.0 L101.9 95.3 L100.4 96.6 L98.8 97.9 L97.1 99.1 L96.5 100.0 L96.8 100.4 L97.0 100.8 L97.0 101.1 L97.5 100.9 L98.6 100.3 L99.2 99.5 L99.3 98.6 L99.7 97.4 L100.2 95.9 L101.2 94.6 L102.8 93.4 L104.1 92.3 L105.4 91.2 L106.6 90.6 L107.8 90.4 L109.0 89.7 L110.1 88.4 L111.1 87.4 L112.1 86.8 L112.7 86.4" fill="none" stroke="#333" stroke-width="0.42" stroke-opacity="1" stroke-linejoin="round"/>
<path d="M106.6 85.6 L107.3 86.1 L108.8 87.2 L109.3 88.0 L109.1 88.7 L108.9 89.2 L108.7 89.6 L108.3 90.4 L107.7 91.8 L106.9 93.0 L105.9 94.3 L105.2 95.9 L104.7 98.1 L104.8 100.4 L105.7 103.1 L106.1 105.3 L106.1 107.1 L106.8 107.3 L108.2 105.9 L109.5 104.5 L110.6 102.9 L111.5 101.2 L112.2 99.3 L112.4 97.8 L112.3 96.7 L112.1 95.1 L112.1 92.9 L112.1 91.3 L112.2 90.1 L112.8 89.2 L113.7 88.6 L113.6 87.8 L112.4 86.9 L111.8 86.4" fill="none" stroke="#333" stroke-width="0.42" stroke-opacity="1" stroke-linejoin="round"/>
<path d="M106.6 85.6 L106.5 85.9 L106.4 86.5 L106.4 87.3 L106.3 88.3 L106.7 89.1 L107.6 89.7 L108.2 90.2 L108.5 90.8 L108.8 91.9 L109.1 93.7 L109.1 94.8 L108.9 95.3 L108.8 96.1 L109.0 97.3 L108.9 98.6 L108.6 100.0 L108.8 100.7 L109.4 100.5 L109.6 100.4 L109.3 100.3 L109.8 99.7 L111.1 98.7 L112.6 98.0 L114.4 97.6 L115.1 96.8 L114.9 95.6 L114.8 94.5 L115.0 93.6 L115.2 93.0 L115.6 92.6 L116.1 92.0 L116.5 91.3 L116.7 90.9" fill="none" stroke="#333" stroke-width="0.42" stroke-opacity="1" stroke-linejoin="round"/>
<path d="M120.7 90.9 L120.7 91.0 L120.7 91.2 L120.6 91.4 L120.5 91.7 L120.8 92.1 L121.4 92.5 L122.3 93.0 L123.5 93.6 L124.6 94.2 L125.7 94.9 L126.7 95.6 L127.7 96.3 L128.7 97.1 L129.7 97.8 L130.7 98.6 L131.7 99.4 L132.5 100.1 L133.1 100.6 L133.3 100.9 L133.3 101.0 L133.4 101.3 L133.5 101.6 L133.6 102.0 L133.8 102.5 L134.3 103.1 L135.1 103.8 L136.1 104.5 L137.3 105.3 L138.2 105.8 L138.7 106.2 L138.7 106.3 L138.4 106.3 L138.1 106.3 L137.9 106.4 L137.7 106.7 L137.6 107.0 L137.6 107.1 L137.9 107.1 L138.4 106.8 L139.0 106.4 L139.5 106.3 L139.6 106.5 L139.6 107.1 L139.3 108.1 L139.1 109.0 L139.2 109.9 L139.5 110.7 L139.9 111.5 L140.3 112.1 L140.5 112.5 L140.6 112.7" fill="none" stroke="#444" stroke-width="0.4" stroke-opacity="1" stroke-linejoin="round"/>
<path d="M120.8 86.1 L120.8 86.2 L121.0 86.3 L121.1 86.6 L121.4 86.9 L121.9 87.4 L122.7 87.9 L123.7 88.6 L125.0 89.4 L126.0 90.1 L126.6 90.6 L126.9 90.9 L126.9 91.1 L127.0 91.3 L127.2 91.5 L127.7 91.8 L128.2 92.1 L128.7 92.4 L129.0 92.8 L129.3 93.2 L129.5 93.7 L129.9 94.2 L130.5 94.7 L131.4 95.3 L132.5 96.0 L133.4 96.4 L134.1 96.8 L134.6 96.9 L135.0 96.9 L135.3 97.1 L135.7 97.5 L136.1 98.1 L136.6 99.0 L137.0 99.7 L137.2 100.3 L137.5 100.8 L137.6 101.2 L137.8 101.6 L138.1 101.9 L138.5 102.1 L138.9 102.2 L139.4 102.3 L140.1 102.4 L140.8 102.5 L141.7 102.5 L142.5 102.6 L143.2 102.7 L143.7 102.8 L144.1 102.9 L144.5 103.0 L144.7 103.1 L144.8 103.1" fill="none" stroke="#444" stroke-width="0.4" stroke-opacity="1" stroke-linejoin="round"/>
<path d="M115.1 87.9 L115.2 87.8 L115.5 87.8 L116.0 87.7 L116.6 87.6 L117.1 87.5 L117.5 87.5 L117.8 87.4 L117.9 87.4 L118.3 87.5 L118.7 87.5 L119.4 87.5 L120.1 87.5 L120.8 87.7 L121.5 88.0 L122.1 88.4 L122.6 89.0 L123.1 89.4 L123.5 89.6 L123.9 89.5 L124.2 89.3 L124.7 89.2 L125.4 89.3 L126.2 89.6 L127.3 90.1 L128.2 90.7 L129.0 91.4 L129.7 92.2 L130.3 93.2 L130.8 93.9 L131.1 94.5 L131.2 94.8 L131.1 94.9 L131.3 95.4 L131.8 96.1 L132.6 97.1 L133.6 98.4 L134.4 99.5 L134.9 100.4 L135.2 101.1 L135.2 101.6 L135.4 102.1 L135.8 102.6 L136.3 103.0 L137.0 103.5 L137.8 104.1 L138.6 104.7 L139.4 105.4 L140.3 106.1 L140.9 106.7 L141.4 107.1 L141.6 107.3" fill="none" stroke="#444" stroke-width="0.4" stroke-opacity="1" stroke-linejoin="round"/>
<path d="M112.6 87.0 L112.7 87.2 L112.9 87.6 L113.3 88.2 L113.8 89.0 L114.5 89.5 L115.5 89.8 L116.7 89.8 L118.3 89.6 L119.5 89.6 L120.6 89.7 L121.5 90.1 L122.1 90.7 L122.8 91.1 L123.5 91.4 L124.3 91.6 L125.2 91.6 L126.2 91.8 L127.2 92.0 L128.3 92.4 L129.5 92.8 L130.5 93.2 L131.2 93.6 L131.7 93.9 L132.0 94.1 L132.3 94.5 L132.7 95.0 L133.1 95.6 L133.5 96.3 L134.0 97.0 L134.6 97.5 L135.3 98.0 L136.0 98.4 L136.8 98.8 L137.6 99.1 L138.4 99.3 L139.2 99.4 L140.0 99.7 L140.9 100.0 L141.8 100.4 L142.8 100.9 L143.9 101.3 L145.0 101.6 L146.2 101.8 L147.5 101.9 L148.6 101.9 L149.7 101.9 L150.6 101.9 L151.4 101.8 L152.0 101.7 L152.4 101.6 L152.6 101.6" fill="none" stroke="#444" stroke-width="0.4" stroke-opacity="1" stroke-linejoin="round"/>
<path d="M111.9 91.2 L112.1 91.4 L112.6 91.7 L113.3 92.1 L114.3 92.7 L115.2 93.3 L116.2 93.7 L117.2 94.0 L118.2 94.2 L119.2 94.6 L120.2 95.2 L121.2 96.0 L122.1 96.9 L123.0 97.6 L123.6 98.2 L124.1 98.5 L124.5 98.7 L124.9 98.8 L125.4 98.8 L125.9 98.9 L126.4 98.8 L126.9 99.0 L127.2 99.4 L127.4 99.9 L127.4 100.7 L127.6 101.4 L127.8 102.2 L128.2 103.0 L128.6 103.9 L129.1 104.5 L129.7 105.1 L130.4 105.5 L131.1 105.7 L131.8 106.0 L132.5 106.2 L133.1 106.3 L133.6 106.4 L134.1 106.6 L134.6 107.0 L135.1 107.4 L135.6 107.9 L136.3 108.4 L137.1 108.8 L138.0 109.2 L139.2 109.5 L140.3 109.9 L141.3 110.3 L142.4 110.7 L143.4 111.1 L144.1 111.5 L144.6 111.7 L144.9 111.8" fill="none" stroke="#444" stroke-width="0.4" stroke-opacity="1" stroke-linejoin="round"/>
<path d="M116.3 92.9 L116.5 92.7 L116.8 92.4 L117.3 92.0 L117.9 91.4 L118.3 91.1 L118.5 91.1 L118.5 91.4 L118.2 92.0 L118.2 92.5 L118.4 92.8 L118.8 92.9 L119.6 92.8 L120.5 92.7 L121.6 92.6 L122.9 92.5 L124.4 92.3 L125.8 92.2 L127.1 92.3 L128.2 92.4 L129.3 92.6 L130.1 92.8 L130.8 92.9 L131.3 92.9 L131.6 93.0 L132.1 92.9 L132.7 92.6 L133.5 92.3 L134.5 91.8 L135.5 91.5 L136.4 91.4 L137.4 91.4 L138.3 91.5 L139.0 91.6 L139.7 91.6 L140.2 91.5 L140.6 91.4 L140.9 91.1 L141.3 90.7 L141.7 90.3 L142.1 89.7 L142.6 89.3 L143.2 89.0 L143.8 88.8 L144.6 88.8 L145.2 88.9 L145.8 89.1 L146.3 89.4 L146.7 89.9 L147.0 90.3 L147.2 90.5 L147.3 90.6" fill="none" stroke="#444" stroke-width="0.4" stroke-opacity="1" stroke-linejoin="round"/>
<path d="M98.9 67.8 L98.2 68.0 L96.7 68.3 L94.8 68.8 L92.2 69.2 L89.8 70.0 L87.2 71.0 L85.6 71.9 L84.9 72.8 L84.5 73.7 L84.6 74.8 L85.2 75.5 L86.4 75.8 L87.9 76.1 L89.6 76.4 L91.0 77.0 L91.8 78.0 L92.1 79.1 L91.7 80.4 L91.2 81.8 L90.8 83.2 L90.9 85.0 L91.6 87.0 L93.0 88.8 L95.0 90.2 L97.0 91.2 L99.0 91.8 L101.0 91.5 L103.0 90.5 L104.0 90.0" fill="none" stroke="#444" stroke-width="0.5" stroke-opacity="1" stroke-linejoin="round"/>
<path d="M102.3 61.8 L102.0 62.6 L101.3 64.2 L101.8 65.5 L103.2 66.5 L104.2 67.8 L104.8 69.2 L105.1 71.2 L105.4 73.8 L105.4 76.0 L105.1 78.0 L105.2 80.2 L105.8 82.8 L106.0 84.0" fill="none" stroke="#444" stroke-width="0.5" stroke-opacity="1" stroke-linejoin="round"/>
<path d="M82.4 109.5 L83.8 108.4 L86.6 106.1 L89.0 104.5 L91.0 103.5 L92.5 103.1 L93.5 103.4 L95.0 102.9 L97.0 101.6 L98.5 100.0 L99.5 98.0 L100.2 96.0 L100.8 94.0 L101.8 92.2 L103.2 90.8 L104.0 90.0" fill="none" stroke="#444" stroke-width="0.5" stroke-opacity="1" stroke-linejoin="round"/>
<path d="M95.7 118.3 L96.2 117.7 L97.0 116.6 L98.1 115.4 L99.4 114.2 L100.8 113.3 L102.2 112.7 L103.9 112.3 L105.6 112.0 L106.5 111.9" fill="none" stroke="#444" stroke-width="0.5" stroke-opacity="1" stroke-linejoin="round"/>
<path d="M106.5 111.9 L106.5 116.0 L106.6 119.4 L107.6 119.8 L108.8 119.6" fill="none" stroke="#444" stroke-width="0.5" stroke-opacity="1" stroke-linejoin="round"/>
<path d="M108.8 119.6 L108.7 118.7 L108.4 116.9 L108.4 115.1 L108.7 113.4 L109.2 111.9 L110.1 110.6 L111.1 109.7 L112.4 109.1 L113.5 108.1 L114.5 106.7 L115.0 106.0" fill="none" stroke="#555" stroke-width="0.45" stroke-opacity="1" stroke-linejoin="round"/>
<path d="M116.0 111.8 L115.7 112.6 L114.9 114.2 L114.6 115.9 L114.8 117.7 L115.2 119.0 L116.1 119.9 L117.1 120.4 L118.4 120.8 L119.0 120.9" fill="none" stroke="#444" stroke-width="0.5" stroke-opacity="1" stroke-linejoin="round"/>
<path d="M115.0 119.6 L111.0 122.6 L107.0 125.8 L103.5 128.5 L100.8 130.8 L100.0 131.6 L101.5 132.0 L103.2 130.2 L101.8 129.4 L100.6 130.4" fill="none" stroke="#444" stroke-width="0.5" stroke-opacity="1" stroke-linejoin="round"/>
<circle cx="102.3" cy="61.8" r="1.3" fill="#0b0bf5"/>
<circle cx="98.9" cy="67.8" r="1.3" fill="#0b0bf5"/>
<circle cx="98.0" cy="75.6" r="1.3" fill="#0b0bf5"/>
<circle cx="104.9" cy="82.0" r="1.3" fill="#0b0bf5"/>
<circle cx="109.9" cy="82.9" r="1.3" fill="#0b0bf5"/>
<circle cx="115.5" cy="82.9" r="1.3" fill="#0b0bf5"/>
<circle cx="82.4" cy="109.5" r="1.3" fill="#0b0bf5"/>
<circle cx="97.1" cy="106.1" r="1.3" fill="#0b0bf5"/>
<circle cx="95.7" cy="118.3" r="1.3" fill="#0b0bf5"/>
<circle cx="106.5" cy="111.9" r="1.3" fill="#0b0bf5"/>
<circle cx="108.3" cy="108.5" r="1.3" fill="#0b0bf5"/>
<circle cx="110.0" cy="97.4" r="1.3" fill="#0b0bf5"/>
<circle cx="118.3" cy="102.3" r="1.3" fill="#0b0bf5"/>
<circle cx="116.0" cy="111.8" r="1.3" fill="#0b0bf5"/>
<circle cx="119.0" cy="120.9" r="1.3" fill="#0b0bf5"/>
<circle cx="122.3" cy="93.0" r="1.3" fill="#0b0bf5"/>
<circle cx="128.1" cy="81.0" r="1.3" fill="#0b0bf5"/>
<circle cx="123.6" cy="83.1" r="1.3" fill="#0b0bf5"/>
<circle cx="126.9" cy="85.5" r="1.3" fill="#0b0bf5"/>
<circle cx="131.0" cy="85.2" r="1.3" fill="#0b0bf5"/>
<circle cx="134.1" cy="87.0" r="1.3" fill="#0b0bf5"/>
<circle cx="137.7" cy="86.7" r="1.3" fill="#0b0bf5"/>
<circle cx="142.8" cy="83.6" r="1.3" fill="#0b0bf5"/>
<circle cx="147.9" cy="86.4" r="1.3" fill="#0b0bf5"/>
<circle cx="142.2" cy="88.8" r="1.3" fill="#0b0bf5"/>
<circle cx="145.7" cy="89.1" r="1.3" fill="#0b0bf5"/>
<circle cx="147.3" cy="90.6" r="1.3" fill="#0b0bf5"/>
<circle cx="132.6" cy="89.4" r="1.3" fill="#0b0bf5"/>
<circle cx="131.4" cy="96.3" r="1.3" fill="#0b0bf5"/>
<circle cx="152.6" cy="96.0" r="1.3" fill="#0b0bf5"/>
<circle cx="148.4" cy="98.0" r="1.3" fill="#0b0bf5"/>
<circle cx="146.6" cy="99.6" r="1.3" fill="#0b0bf5"/>
<circle cx="152.6" cy="101.6" r="1.3" fill="#0b0bf5"/>
<circle cx="144.8" cy="103.1" r="1.3" fill="#0b0bf5"/>
<circle cx="141.6" cy="107.3" r="1.3" fill="#0b0bf5"/>
<circle cx="144.9" cy="111.8" r="1.3" fill="#0b0bf5"/>
<circle cx="140.6" cy="112.7" r="1.3" fill="#0b0bf5"/>
<circle cx="106.2" cy="85.8" r="1.3" fill="#0b0bf5"/>
<circle cx="109.9" cy="86.6" r="1.3" fill="#0b0bf5"/>
<circle cx="114.5" cy="86.7" r="1.3" fill="#0b0bf5"/>
<circle cx="119.7" cy="86.7" r="1.3" fill="#0b0bf5"/>
<circle cx="112.2" cy="88.1" r="1.3" fill="#0b0bf5"/>
<circle cx="105.7" cy="89.8" r="1.3" fill="#0b0bf5"/>
<circle cx="116.4" cy="89.1" r="1.3" fill="#0b0bf5"/>
<circle cx="122.4" cy="89.1" r="1.3" fill="#0b0bf5"/>
<circle cx="126.6" cy="90.9" r="1.3" fill="#0b0bf5"/>
<circle cx="132.2" cy="89.5" r="1.3" fill="#0b0bf5"/>
<circle cx="122.0" cy="92.8" r="1.3" fill="#0b0bf5"/>
<circle cx="113.1" cy="93.3" r="1.3" fill="#0b0bf5"/>
<circle cx="109.9" cy="97.2" r="1.3" fill="#0b0bf5"/>
<circle cx="120.6" cy="84.4" r="1.3" fill="#0b0bf5"/>
<circle cx="128.2" cy="81.2" r="1.3" fill="#0b0bf5"/>
<circle cx="125.8" cy="87.6" r="1.3" fill="#0b0bf5"/>
<circle cx="107.9" cy="86.1" r="1.3" fill="#0b0bf5"/>
<circle cx="121.4" cy="84.8" r="1.3" fill="#0b0bf5"/>
<circle cx="108.4" cy="85.8" r="1.3" fill="#0b0bf5"/>
<circle cx="115.7" cy="91.3" r="1.3" fill="#0b0bf5"/>
<circle cx="115.9" cy="90.8" r="1.3" fill="#0b0bf5"/>
<circle cx="127.6" cy="87.3" r="1.3" fill="#0b0bf5"/>
<circle cx="110.5" cy="89.7" r="1.3" fill="#0b0bf5"/>
<circle cx="109.7" cy="87.2" r="1.3" fill="#0b0bf5"/>
<circle cx="109.8" cy="82.5" r="1.3" fill="#0b0bf5"/>
<circle cx="117.0" cy="83.2" r="1.3" fill="#0b0bf5"/>
<circle cx="130.4" cy="87.4" r="1.3" fill="#0b0bf5"/>
<circle cx="128.2" cy="91.2" r="1.3" fill="#0b0bf5"/>
<circle cx="125.0" cy="88.1" r="1.3" fill="#0b0bf5"/>
<path d="M49.1 26.3 H164.5 V146.2 H49.1 Z" fill="none" stroke="#000" stroke-width="1.3"/>
<line x1="47.50" y1="30.30" x2="49.10" y2="30.30" stroke="#000" stroke-width="0.9"/>
<line x1="47.50" y1="34.30" x2="49.10" y2="34.30" stroke="#000" stroke-width="0.9"/>
<line x1="47.50" y1="38.30" x2="49.10" y2="38.30" stroke="#000" stroke-width="0.9"/>
<line x1="47.50" y1="42.30" x2="49.10" y2="42.30" stroke="#000" stroke-width="0.9"/>
<line x1="46.10" y1="46.30" x2="49.10" y2="46.30" stroke="#000" stroke-width="0.9"/>
<line x1="47.50" y1="50.30" x2="49.10" y2="50.30" stroke="#000" stroke-width="0.9"/>
<line x1="47.50" y1="54.30" x2="49.10" y2="54.30" stroke="#000" stroke-width="0.9"/>
<line x1="47.50" y1="58.30" x2="49.10" y2="58.30" stroke="#000" stroke-width="0.9"/>
<line x1="47.50" y1="62.30" x2="49.10" y2="62.30" stroke="#000" stroke-width="0.9"/>
<line x1="46.10" y1="66.30" x2="49.10" y2="66.30" stroke="#000" stroke-width="0.9"/>
<line x1="47.50" y1="70.30" x2="49.10" y2="70.30" stroke="#000" stroke-width="0.9"/>
<line x1="47.50" y1="74.30" x2="49.10" y2="74.30" stroke="#000" stroke-width="0.9"/>
<line x1="47.50" y1="78.30" x2="49.10" y2="78.30" stroke="#000" stroke-width="0.9"/>
<line x1="47.50" y1="82.30" x2="49.10" y2="82.30" stroke="#000" stroke-width="0.9"/>
<line x1="46.10" y1="86.30" x2="49.10" y2="86.30" stroke="#000" stroke-width="0.9"/>
<line x1="47.50" y1="90.30" x2="49.10" y2="90.30" stroke="#000" stroke-width="0.9"/>
<line x1="47.50" y1="94.30" x2="49.10" y2="94.30" stroke="#000" stroke-width="0.9"/>
<line x1="47.50" y1="98.30" x2="49.10" y2="98.30" stroke="#000" stroke-width="0.9"/>
<line x1="47.50" y1="102.30" x2="49.10" y2="102.30" stroke="#000" stroke-width="0.9"/>
<line x1="46.10" y1="106.30" x2="49.10" y2="106.30" stroke="#000" stroke-width="0.9"/>
<line x1="47.50" y1="110.30" x2="49.10" y2="110.30" stroke="#000" stroke-width="0.9"/>
<line x1="47.50" y1="114.30" x2="49.10" y2="114.30" stroke="#000" stroke-width="0.9"/>
<line x1="47.50" y1="118.30" x2="49.10" y2="118.30" stroke="#000" stroke-width="0.9"/>
<line x1="47.50" y1="122.30" x2="49.10" y2="122.30" stroke="#000" stroke-width="0.9"/>
<line x1="46.10" y1="126.30" x2="49.10" y2="126.30" stroke="#000" stroke-width="0.9"/>
<line x1="47.50" y1="130.30" x2="49.10" y2="130.30" stroke="#000" stroke-width="0.9"/>
<line x1="47.50" y1="134.30" x2="49.10" y2="134.30" stroke="#000" stroke-width="0.9"/>
<line x1="47.50" y1="138.30" x2="49.10" y2="138.30" stroke="#000" stroke-width="0.9"/>
<line x1="47.50" y1="142.30" x2="49.10" y2="142.30" stroke="#000" stroke-width="0.9"/>
<line x1="52.74" y1="146.20" x2="52.74" y2="147.80" stroke="#000" stroke-width="0.9"/>
<line x1="56.58" y1="146.20" x2="56.58" y2="147.80" stroke="#000" stroke-width="0.9"/>
<line x1="60.42" y1="146.20" x2="60.42" y2="147.80" stroke="#000" stroke-width="0.9"/>
<line x1="64.26" y1="146.20" x2="64.26" y2="147.80" stroke="#000" stroke-width="0.9"/>
<line x1="68.10" y1="146.20" x2="68.10" y2="149.20" stroke="#000" stroke-width="0.9"/>
<line x1="71.94" y1="146.20" x2="71.94" y2="147.80" stroke="#000" stroke-width="0.9"/>
<line x1="75.78" y1="146.20" x2="75.78" y2="147.80" stroke="#000" stroke-width="0.9"/>
<line x1="79.62" y1="146.20" x2="79.62" y2="147.80" stroke="#000" stroke-width="0.9"/>
<line x1="83.46" y1="146.20" x2="83.46" y2="147.80" stroke="#000" stroke-width="0.9"/>
<line x1="87.30" y1="146.20" x2="87.30" y2="149.20" stroke="#000" stroke-width="0.9"/>
<line x1="91.14" y1="146.20" x2="91.14" y2="147.80" stroke="#000" stroke-width="0.9"/>
<line x1="94.98" y1="146.20" x2="94.98" y2="147.80" stroke="#000" stroke-width="0.9"/>
<line x1="98.82" y1="146.20" x2="98.82" y2="147.80" stroke="#000" stroke-width="0.9"/>
<line x1="102.66" y1="146.20" x2="102.66" y2="147.80" stroke="#000" stroke-width="0.9"/>
<line x1="106.50" y1="146.20" x2="106.50" y2="149.20" stroke="#000" stroke-width="0.9"/>
<line x1="110.34" y1="146.20" x2="110.34" y2="147.80" stroke="#000" stroke-width="0.9"/>
<line x1="114.18" y1="146.20" x2="114.18" y2="147.80" stroke="#000" stroke-width="0.9"/>
<line x1="118.02" y1="146.20" x2="118.02" y2="147.80" stroke="#000" stroke-width="0.9"/>
<line x1="121.86" y1="146.20" x2="121.86" y2="147.80" stroke="#000" stroke-width="0.9"/>
<line x1="125.70" y1="146.20" x2="125.70" y2="149.20" stroke="#000" stroke-width="0.9"/>
<line x1="129.54" y1="146.20" x2="129.54" y2="147.80" stroke="#000" stroke-width="0.9"/>
<line x1="133.38" y1="146.20" x2="133.38" y2="147.80" stroke="#000" stroke-width="0.9"/>
<line x1="137.22" y1="146.20" x2="137.22" y2="147.80" stroke="#000" stroke-width="0.9"/>
<line x1="141.06" y1="146.20" x2="141.06" y2="147.80" stroke="#000" stroke-width="0.9"/>
<line x1="144.90" y1="146.20" x2="144.90" y2="149.20" stroke="#000" stroke-width="0.9"/>
<line x1="148.74" y1="146.20" x2="148.74" y2="147.80" stroke="#000" stroke-width="0.9"/>
<line x1="152.58" y1="146.20" x2="152.58" y2="147.80" stroke="#000" stroke-width="0.9"/>
<line x1="156.42" y1="146.20" x2="156.42" y2="147.80" stroke="#000" stroke-width="0.9"/>
<line x1="160.26" y1="146.20" x2="160.26" y2="147.80" stroke="#000" stroke-width="0.9"/>
<text x="42.1" y="48.8" font-size="7.8" text-anchor="end" fill="#000" stroke="#000" stroke-width="0.16" textLength="13.01" lengthAdjust="spacingAndGlyphs">200</text>
<text x="42.1" y="68.8" font-size="7.8" text-anchor="end" fill="#000" stroke="#000" stroke-width="0.16" textLength="13.01" lengthAdjust="spacingAndGlyphs">100</text>
<text x="42.1" y="88.8" font-size="7.8" text-anchor="end" fill="#000" stroke="#000" stroke-width="0.16" textLength="4.34" lengthAdjust="spacingAndGlyphs">0</text>
<text x="42.1" y="108.8" font-size="7.8" text-anchor="end" fill="#000" stroke="#000" stroke-width="0.16" textLength="15.61" lengthAdjust="spacingAndGlyphs">-100</text>
<text x="42.1" y="128.8" font-size="7.8" text-anchor="end" fill="#000" stroke="#000" stroke-width="0.16" textLength="15.61" lengthAdjust="spacingAndGlyphs">-200</text>
<text x="64" y="160.7" font-size="7.8" text-anchor="middle" fill="#000" stroke="#000" stroke-width="0.16" textLength="15.61" lengthAdjust="spacingAndGlyphs">-200</text>
<text x="87" y="160.7" font-size="7.8" text-anchor="middle" fill="#000" stroke="#000" stroke-width="0.16" textLength="15.61" lengthAdjust="spacingAndGlyphs">-100</text>
<text x="106.2" y="160.7" font-size="7.8" text-anchor="middle" fill="#000" stroke="#000" stroke-width="0.16" textLength="4.34" lengthAdjust="spacingAndGlyphs">0</text>
<text x="125.5" y="160.7" font-size="7.8" text-anchor="middle" fill="#000" stroke="#000" stroke-width="0.16" textLength="13.01" lengthAdjust="spacingAndGlyphs">100</text>
<text x="144.5" y="160.7" font-size="7.8" text-anchor="middle" fill="#000" stroke="#000" stroke-width="0.16" textLength="13.01" lengthAdjust="spacingAndGlyphs">200</text>
<text x="106.5" y="174" font-size="9.6" text-anchor="middle" fill="#000" stroke="#000" stroke-width="0.16" textLength="45.5" lengthAdjust="spacingAndGlyphs">x axis (µm)</text>
<text transform="translate(18.6 86.1) rotate(-90)" font-size="9.6" text-anchor="middle" fill="#000" stroke="#000" stroke-width="0.16" textLength="46.3" lengthAdjust="spacingAndGlyphs">y axis (µm)</text>
<text x="106.6" y="20.6" font-size="10.2" text-anchor="middle" fill="#000" stroke="#000" stroke-width="0.16" textLength="22.2" lengthAdjust="spacingAndGlyphs">CTRL</text>
<line x1="280.70" y1="26.30" x2="280.70" y2="146.40" stroke="#c4c4c4" stroke-width="1.4"/>
<line x1="223.30" y1="85.80" x2="338.60" y2="85.80" stroke="#c4c4c4" stroke-width="1.4"/>
<polygon points="280.8,144.7 337.7,144.7 337.7,129.2" fill="#a8a8a8"/>
<text x="310" y="128.0" font-size="8.6" text-anchor="middle" fill="#000" stroke="#000" stroke-width="0.16" textLength="26" lengthAdjust="spacingAndGlyphs">SDF-1α</text>
<text x="309.7" y="138.3" font-size="8.6" text-anchor="middle" fill="#000" stroke="#000" stroke-width="0.16" textLength="28.8" lengthAdjust="spacingAndGlyphs">gradient</text>
<path d="M280.7 85.8 L278.4 83.5 L279.0 79.4 L278.3 75.4 L279.6 75.3 L281.3 74.0 L281.5 73.1 L279.8 72.9 L277.3 71.9 L278.0 71.6 L276.9 74.6 L276.5 73.3 L276.3 72.0 L275.2 71.0 L278.0 70.6 L277.8 71.2 L280.6 70.4 L279.1 74.0 L276.3 72.9 L276.9 76.1 L274.9 71.8 L275.5 70.6 L274.5 70.9 L274.3 70.9 L273.2 72.5 L275.1 72.1 L274.0 72.9 L274.3 70.8 L273.1 72.0 L272.4 71.0 L272.3 70.5 L271.9 67.0 L274.2 66.9 L272.3 68.0 L272.4 67.6 L273.6 70.8 L274.0 72.9 L277.0 70.8 L275.7 71.6 L272.5 70.8 L274.1 72.0" fill="none" stroke="#111" stroke-width="0.4" stroke-opacity="1" stroke-linejoin="round"/>
<path d="M280.7 85.8 L281.7 82.5 L285.5 83.1 L286.8 83.6 L284.2 81.0 L282.3 83.8 L281.0 83.1 L280.7 83.7 L281.6 83.8 L279.6 78.5 L280.0 78.7 L282.0 78.2 L281.1 78.6 L278.7 76.6 L277.2 76.8 L280.6 77.7 L282.5 77.8 L283.0 76.8 L282.6 72.6 L280.8 70.3 L282.2 71.0 L284.1 73.2 L283.7 74.6 L286.9 74.3 L288.7 73.8 L286.2 73.7 L285.0 73.6 L284.3 73.8 L281.0 76.8 L283.2 76.0 L281.8 75.7 L283.0 76.1 L283.7 72.6 L282.0 74.5 L282.4 71.8 L281.1 69.2 L279.5 70.8 L279.3 72.3 L279.6 69.6 L278.7 73.0 L277.5 71.0" fill="none" stroke="#111" stroke-width="0.4" stroke-opacity="1" stroke-linejoin="round"/>
<path d="M280.7 85.8 L283.0 85.7 L283.2 87.9 L280.6 88.3 L279.2 85.8 L278.1 87.4 L278.1 84.2 L276.6 86.4 L278.5 84.4 L282.7 83.6 L281.0 83.1 L282.8 85.5 L284.8 84.6 L284.1 82.0 L284.3 80.8 L284.9 78.4 L284.3 76.8 L282.6 74.6 L281.2 72.4 L282.4 72.3 L280.5 72.9 L281.2 75.1 L281.2 74.5 L280.3 74.5 L281.4 74.5 L281.2 75.2 L281.6 75.4 L280.4 75.5 L279.0 73.9 L279.5 77.1 L281.4 76.8 L281.4 78.2 L283.9 80.0 L283.9 80.1 L283.6 79.3 L282.4 78.7 L279.2 76.5 L280.1 74.7 L281.3 72.4 L280.9 72.8 L279.5 71.4" fill="none" stroke="#111" stroke-width="0.4" stroke-opacity="1" stroke-linejoin="round"/>
<path d="M280.7 85.8 L284.8 84.5 L283.8 83.3 L283.9 83.1 L285.6 84.2 L285.0 83.4 L282.8 80.7 L281.6 81.7 L281.9 82.8 L283.5 82.3 L287.1 81.2 L286.1 80.3 L288.1 79.9 L286.9 80.4 L288.9 80.0 L288.5 81.6 L290.2 82.9 L289.1 83.2 L289.7 80.0 L291.8 80.0 L291.3 83.4 L291.6 82.1 L291.6 82.8 L293.0 82.5 L291.7 81.1 L290.4 79.2 L290.5 78.2 L290.7 76.6 L289.3 76.1 L288.8 77.8 L287.4 77.9 L287.4 75.5 L288.7 75.6 L285.4 76.4 L287.0 74.9 L289.8 74.9 L288.0 75.6 L287.5 73.2 L284.1 73.4 L283.0 74.3 L283.7 73.2" fill="none" stroke="#111" stroke-width="0.4" stroke-opacity="1" stroke-linejoin="round"/>
<path d="M280.7 85.8 L280.0 88.1 L282.9 88.6 L282.4 86.4 L281.9 88.5 L282.8 87.4 L280.9 87.0 L279.6 86.4 L280.9 87.5 L281.3 86.3 L281.7 88.6 L282.5 85.7 L285.1 85.5 L290.9 84.1 L290.9 83.0 L291.6 81.4 L289.3 77.6 L289.3 76.2 L288.4 79.0 L289.9 80.1 L289.2 80.0 L288.9 79.0 L290.3 79.4 L290.9 79.0 L288.7 77.1 L289.4 75.9 L288.3 75.8 L286.9 74.1 L288.4 72.9 L290.9 73.1 L292.3 74.3 L288.9 73.6 L287.0 72.2 L286.9 73.5 L287.0 75.6 L286.2 74.9 L286.5 75.8 L286.5 74.1 L286.1 71.2 L288.3 71.8 L289.1 71.6" fill="none" stroke="#111" stroke-width="0.4" stroke-opacity="1" stroke-linejoin="round"/>
<path d="M280.7 85.8 L279.4 84.8 L280.3 83.2 L278.7 85.5 L280.8 85.7 L281.3 85.6 L283.3 84.6 L283.0 85.1 L285.0 84.4 L285.0 83.3 L283.6 81.9 L283.3 83.0 L281.9 81.7 L280.8 82.0 L281.6 79.7 L281.8 77.8 L282.6 75.9 L280.5 74.4 L280.0 72.5 L280.0 72.5 L279.8 72.6 L280.8 71.1 L280.4 70.7 L276.8 71.0 L275.2 69.6 L274.1 69.4 L274.2 69.9 L272.8 70.7 L273.1 69.8 L272.7 70.7 L273.0 71.6 L272.8 73.1 L276.0 73.5 L273.1 75.9 L271.8 73.4 L267.6 73.8 L269.0 75.1 L268.0 77.1 L267.5 75.8 L267.3 75.9 L267.0 76.2" fill="none" stroke="#111" stroke-width="0.4" stroke-opacity="1" stroke-linejoin="round"/>
<path d="M280.7 85.8 L276.9 88.0 L275.8 88.7 L274.2 88.6 L273.7 85.7 L274.0 86.4 L272.0 82.7 L270.7 81.0 L270.6 80.6 L273.0 81.3 L272.3 81.2 L267.4 79.4 L265.7 78.9 L265.9 78.9 L267.2 77.4 L267.4 76.9 L267.2 77.0 L266.5 77.0 L266.2 78.3 L265.7 78.4 L269.6 79.1 L270.2 80.5 L268.3 81.3 L269.2 81.6 L270.5 82.5 L272.2 81.1 L272.6 79.9 L274.3 79.8 L272.0 79.6 L270.2 80.8 L269.4 77.0 L268.5 78.3 L268.7 76.9 L269.5 77.5 L271.6 78.6 L271.9 77.0 L272.1 77.1 L271.9 77.4 L269.8 78.0 L269.5 78.2 L269.1 77.4" fill="none" stroke="#111" stroke-width="0.4" stroke-opacity="1" stroke-linejoin="round"/>
<path d="M280.7 85.8 L280.9 87.2 L280.2 87.9 L278.8 88.7 L278.6 86.8 L280.3 85.6 L280.2 83.6 L277.3 84.8 L274.8 81.7 L274.3 79.4 L273.8 82.4 L272.9 83.2 L273.6 83.7 L273.3 86.3 L272.9 87.0 L272.9 85.1 L273.2 85.3 L274.1 86.6 L276.3 83.7 L275.3 83.1 L273.7 83.9 L273.4 84.3 L270.6 83.0 L270.3 82.4 L269.1 82.4 L268.5 80.8 L270.9 79.9 L271.8 81.0 L273.1 80.3 L271.3 81.1 L271.5 77.6 L267.2 76.8 L266.4 76.6 L266.9 75.2 L270.8 76.8 L272.7 77.4 L269.2 77.9 L268.2 78.7 L267.8 80.0 L266.2 79.5 L266.0 78.5" fill="none" stroke="#111" stroke-width="0.4" stroke-opacity="1" stroke-linejoin="round"/>
<path d="M280.7 85.8 L279.8 87.2 L282.6 87.3 L283.7 85.9 L282.7 86.8 L283.4 85.7 L284.1 86.3 L286.0 88.2 L286.6 88.0 L286.8 87.1 L285.3 84.6 L283.0 83.0 L282.6 83.6 L280.3 83.8 L280.7 85.7 L280.3 86.5 L279.5 88.4 L276.8 89.2 L272.9 92.3 L274.2 89.4 L273.1 87.6 L270.1 87.3 L268.5 89.4 L267.4 88.1 L267.0 89.1 L268.1 90.3 L265.5 89.4 L265.0 88.5 L265.9 88.4 L265.6 88.2 L265.4 86.2 L268.5 85.8 L267.1 83.4 L266.7 81.6 L267.0 83.9 L267.7 83.6 L269.5 83.7 L269.1 84.2 L268.1 85.2 L266.0 82.9 L267.6 82.1" fill="none" stroke="#111" stroke-width="0.4" stroke-opacity="1" stroke-linejoin="round"/>
<path d="M280.7 85.8 L279.7 86.7 L278.5 85.2 L277.8 84.1 L278.2 83.8 L277.4 85.4 L274.5 83.4 L275.2 85.8 L274.9 85.1 L276.4 86.3 L277.6 83.8 L277.0 82.5 L274.8 83.8 L275.5 83.5 L274.7 86.0 L275.3 86.2 L275.7 86.8 L273.2 86.3 L273.3 87.7 L270.9 86.8 L269.6 84.8 L270.9 85.9 L272.5 82.8 L270.8 86.1 L268.1 83.6 L268.1 86.5 L268.6 85.3 L269.1 86.3 L269.0 87.3 L269.9 89.6 L271.6 91.6 L271.0 89.1 L271.4 87.1 L274.6 85.7 L271.2 83.1 L271.4 84.0 L272.0 84.8 L270.3 86.5 L268.8 84.5 L269.8 85.7 L267.9 85.7" fill="none" stroke="#111" stroke-width="0.4" stroke-opacity="1" stroke-linejoin="round"/>
<path d="M280.7 85.8 L282.2 86.7 L280.4 88.0 L276.3 87.6 L276.8 86.9 L276.9 83.8 L276.6 84.1 L275.0 83.7 L274.7 79.7 L273.6 80.1 L271.1 79.6 L271.5 77.0 L271.0 77.9 L272.1 75.8 L273.6 75.8 L273.7 77.7 L274.8 77.7 L276.2 78.3 L278.1 77.6 L275.2 79.5 L276.4 79.8 L276.4 79.2 L276.5 77.2 L277.6 76.8 L276.1 76.7 L275.5 76.1 L276.2 79.8 L274.5 80.0 L275.5 80.1 L277.8 78.9 L277.2 78.4 L275.0 79.6 L272.9 80.0 L274.7 78.1 L274.4 77.3 L277.0 77.2 L274.2 78.4 L275.7 74.7 L271.3 78.3 L271.4 74.5 L273.0 76.2" fill="none" stroke="#111" stroke-width="0.4" stroke-opacity="1" stroke-linejoin="round"/>
<path d="M280.7 85.8 L276.9 87.5 L278.1 87.0 L277.0 87.3 L275.7 87.2 L275.3 86.1 L276.2 87.3 L277.6 87.6 L280.3 85.3 L280.4 85.2 L282.3 81.2 L281.6 80.4 L281.9 83.6 L282.3 83.1 L283.0 84.3 L282.7 86.6 L280.8 88.2 L282.0 89.4 L284.4 88.7 L285.1 88.7 L284.1 87.1 L282.9 88.1 L279.3 85.7 L279.4 87.4 L279.3 89.1 L279.2 87.9 L276.7 87.8 L279.5 87.6 L277.9 88.1 L275.7 86.0 L277.5 86.2 L279.0 86.3 L278.8 86.2 L278.3 87.5 L276.3 84.1 L275.0 85.2 L274.1 81.2 L278.7 79.3 L278.4 79.9 L279.0 79.2 L276.5 79.7" fill="none" stroke="#111" stroke-width="0.4" stroke-opacity="1" stroke-linejoin="round"/>
<path d="M280.7 85.8 L279.0 85.4 L280.0 84.7 L277.0 83.7 L277.8 84.7 L275.5 84.7 L275.8 86.4 L276.3 86.5 L275.7 87.2 L276.7 86.9 L276.1 89.5 L275.9 88.2 L276.8 86.2 L274.9 87.5 L274.7 88.7 L275.8 87.4 L276.4 86.7 L276.6 87.0 L276.3 84.9 L276.6 84.9 L277.3 83.1 L277.4 82.7 L276.6 82.2 L276.0 80.0 L275.0 79.1 L275.5 78.8 L277.6 79.7 L277.9 79.9 L275.5 80.4 L277.3 78.7 L279.3 79.6 L279.5 78.9 L279.4 77.5 L279.2 77.6 L279.1 75.5 L280.4 74.4 L280.9 75.3 L280.4 79.1 L280.4 79.6 L279.9 80.1 L277.7 81.0" fill="none" stroke="#111" stroke-width="0.4" stroke-opacity="1" stroke-linejoin="round"/>
<path d="M280.7 85.8 L280.1 85.1 L281.2 86.6 L280.5 85.1 L277.3 83.6 L278.1 84.6 L276.1 84.8 L277.7 83.7 L276.8 82.3 L277.4 79.5 L277.1 80.3 L277.0 81.9 L277.9 81.1 L276.3 79.5 L277.1 79.4 L277.2 78.1 L279.0 79.5 L280.1 77.8 L284.1 79.2 L282.4 80.8 L282.2 79.7 L280.9 80.5 L281.4 80.9 L281.0 79.4 L281.4 79.1 L281.0 80.1 L283.6 79.2 L285.1 78.1 L286.4 79.2 L286.4 79.7 L285.1 79.2 L286.6 80.5 L290.1 79.0 L289.3 79.3 L289.4 78.5 L288.7 78.5 L290.7 78.4 L289.4 79.0 L285.3 77.7 L284.3 78.2 L280.7 78.0" fill="none" stroke="#111" stroke-width="0.4" stroke-opacity="1" stroke-linejoin="round"/>
<path d="M280.7 85.8 L279.0 87.3 L280.1 86.5 L280.8 84.7 L281.1 85.0 L282.7 84.3 L279.2 85.5 L277.5 84.6 L276.9 87.2 L276.7 88.9 L276.8 86.7 L277.4 87.5 L276.5 85.0 L280.8 88.3 L281.4 88.9 L282.8 89.8 L280.4 87.6 L281.7 89.7 L283.3 91.0 L283.2 92.4 L285.5 93.2 L287.4 95.0 L286.2 96.8 L285.0 95.4 L287.4 92.7 L287.1 94.1 L287.6 93.5 L286.1 94.2 L286.9 94.1 L285.3 91.8 L285.2 91.7 L286.4 91.1 L287.8 89.2 L285.0 90.6 L284.3 89.3 L284.0 87.3 L283.4 85.1 L283.6 84.2 L283.5 84.2 L284.1 81.5 L284.3 81.0" fill="none" stroke="#111" stroke-width="0.4" stroke-opacity="1" stroke-linejoin="round"/>
<path d="M280.7 85.8 L279.1 85.6 L280.2 86.6 L283.5 86.4 L283.9 89.6 L283.2 88.6 L282.7 87.9 L282.9 88.4 L282.0 86.8 L282.1 85.2 L281.1 86.0 L281.2 84.7 L279.2 83.4 L277.1 84.5 L278.5 85.2 L279.2 84.7 L279.7 85.0 L280.0 84.5 L278.6 85.2 L279.4 83.7 L279.3 83.9 L280.2 81.5 L278.3 79.6 L276.6 78.2 L278.2 76.7 L281.7 77.3 L283.0 77.5 L284.5 78.3 L286.0 79.5 L287.2 80.3 L289.1 80.6 L288.5 83.3 L288.0 84.2 L291.5 83.4 L291.3 82.6 L290.1 83.9 L290.0 84.3 L287.6 85.3 L286.7 82.6 L285.8 80.3 L288.5 78.0" fill="none" stroke="#111" stroke-width="0.4" stroke-opacity="1" stroke-linejoin="round"/>
<path d="M280.7 85.8 L281.0 84.3 L279.6 82.4 L281.4 80.9 L280.3 81.3 L279.6 82.5 L278.4 80.1 L278.9 82.1 L279.6 80.9 L281.3 82.2 L280.6 83.0 L280.5 83.3 L281.3 84.8 L281.4 85.0 L277.4 83.9 L278.0 82.7 L278.5 82.6 L278.5 82.8 L280.4 83.7 L280.3 82.0 L280.8 80.5 L282.6 79.5 L281.5 79.4 L279.8 80.3 L280.2 79.3 L279.3 82.3 L281.0 83.2 L281.3 85.7 L280.6 85.4 L280.3 83.9 L278.8 86.8 L278.9 85.6 L278.4 85.0 L277.6 85.0 L275.3 82.3 L274.8 82.1 L272.9 82.1 L272.0 82.5 L271.5 84.3 L273.6 85.5 L273.5 86.9" fill="none" stroke="#111" stroke-width="0.4" stroke-opacity="1" stroke-linejoin="round"/>
<path d="M280.7 85.8 L281.7 86.2 L282.8 85.4 L283.9 85.9 L284.4 85.4 L283.7 86.0 L282.8 84.1 L285.3 85.7 L284.0 87.5 L280.8 88.2 L281.7 88.3 L281.3 89.2 L282.0 87.2 L280.8 88.5 L281.9 86.5 L279.5 86.9 L278.2 85.5 L277.3 85.6 L274.1 86.5 L273.5 87.7 L271.6 86.1 L272.3 87.3 L272.1 86.6 L274.1 88.0 L274.5 87.3 L276.3 88.1 L275.7 90.1 L277.3 90.2 L277.9 91.1 L277.1 89.1 L278.9 86.3 L276.5 83.9 L277.1 85.2 L276.1 87.0 L278.5 88.8 L276.4 90.6 L279.9 88.9 L277.3 90.6 L278.0 90.3 L277.9 87.5 L276.5 87.5" fill="none" stroke="#111" stroke-width="0.4" stroke-opacity="1" stroke-linejoin="round"/>
<path d="M280.7 85.8 L280.9 87.1 L281.8 86.2 L281.2 88.3 L278.6 88.9 L276.8 89.1 L279.2 89.6 L278.0 88.4 L275.3 88.2 L271.3 87.9 L271.0 86.4 L269.3 88.1 L270.7 91.1 L271.9 91.4 L271.1 93.2 L271.7 93.3 L273.9 92.9 L273.7 94.5 L273.9 94.5 L275.0 98.6 L274.0 99.5 L274.2 99.6 L276.3 99.4 L278.4 97.7 L278.1 96.4 L278.2 97.3 L278.5 97.5 L277.6 95.5 L278.4 95.4 L279.7 92.7 L278.8 89.9 L280.0 88.6 L277.9 89.9 L277.3 90.1 L276.6 91.7 L276.5 91.9 L276.0 93.3 L277.2 92.6 L278.1 90.2 L276.3 89.2 L274.7 89.9" fill="none" stroke="#111" stroke-width="0.4" stroke-opacity="1" stroke-linejoin="round"/>
<path d="M280.7 85.8 L279.1 83.5 L279.9 82.2 L280.5 82.4 L280.0 81.8 L281.9 81.9 L282.5 83.0 L281.9 81.2 L281.9 83.8 L283.3 87.3 L285.4 88.7 L285.1 86.3 L282.4 86.6 L281.2 84.8 L282.6 85.3 L281.1 85.8 L283.7 87.3 L283.2 88.8 L280.6 88.4 L280.5 90.3 L279.1 88.9 L279.1 90.2 L277.4 90.6 L277.4 89.9 L276.0 90.6 L276.7 91.3 L277.5 91.2 L276.6 91.3 L278.3 91.5 L279.7 92.9 L280.7 92.6 L279.7 94.6 L280.0 94.4 L280.6 95.7 L282.5 94.7 L282.9 96.5 L282.5 96.6 L281.7 94.4 L280.2 94.7 L281.2 90.8 L281.3 90.5" fill="none" stroke="#111" stroke-width="0.4" stroke-opacity="1" stroke-linejoin="round"/>
<path d="M280.7 85.8 L279.0 86.1 L278.4 88.5 L277.5 90.5 L276.4 89.3 L279.2 88.5 L279.2 86.4 L280.1 89.0 L280.3 88.9 L280.9 88.1 L279.6 88.5 L279.8 86.2 L276.7 87.3 L275.4 88.4 L277.4 88.6 L277.1 85.1 L280.1 86.8 L279.6 85.5 L281.0 82.8 L282.7 84.6 L281.5 83.3 L284.9 82.9 L285.8 82.7 L283.3 84.7 L286.4 84.1 L285.7 86.8 L283.9 86.7 L282.5 84.6 L282.2 80.8 L280.9 81.2 L280.4 79.9 L284.9 81.4 L284.7 83.5 L286.3 84.1 L288.1 83.9 L287.9 87.0 L288.6 89.7 L286.1 88.6 L285.3 89.2 L285.9 91.1 L287.3 91.4" fill="none" stroke="#111" stroke-width="0.4" stroke-opacity="1" stroke-linejoin="round"/>
<path d="M280.7 85.8 L281.5 87.0 L282.0 83.3 L281.2 84.4 L280.7 86.6 L279.9 86.8 L278.6 86.7 L280.4 89.1 L281.7 90.2 L281.9 88.3 L282.9 87.4 L283.4 87.3 L284.7 86.4 L286.0 86.5 L288.5 86.4 L288.3 83.6 L289.7 83.8 L286.2 84.6 L287.0 84.2 L289.0 84.2 L288.8 84.9 L287.1 85.8 L285.8 86.3 L287.5 85.8 L286.5 88.5 L286.6 90.3 L287.6 91.1 L289.8 91.2 L287.4 90.9 L286.5 89.3 L285.9 90.1 L286.7 90.3 L286.6 90.5 L285.9 89.3 L286.0 90.8 L285.0 90.9 L286.1 89.6 L286.7 90.0 L288.3 88.7 L287.7 91.2 L290.9 92.3" fill="none" stroke="#111" stroke-width="0.4" stroke-opacity="1" stroke-linejoin="round"/>
<path d="M280.7 85.8 L282.7 85.0 L284.1 85.7 L285.0 84.0 L285.1 85.3 L286.7 86.2 L287.2 87.9 L289.7 85.9 L286.7 86.2 L289.1 89.3 L290.1 88.0 L290.9 87.3 L292.1 87.2 L294.6 86.0 L296.8 85.1 L297.7 85.8 L295.6 83.1 L295.2 82.8 L294.1 84.1 L294.5 85.3 L292.7 85.3 L292.3 87.0 L294.2 86.5 L294.0 82.9 L297.1 83.7 L297.7 84.4 L297.3 81.9 L295.8 80.8 L295.3 79.3 L295.5 80.5 L295.6 80.9 L299.1 79.9 L298.0 81.4 L297.3 84.3 L296.1 84.5 L298.6 82.2 L300.1 82.8 L300.3 85.2 L299.3 86.4 L298.4 88.6 L296.3 88.7" fill="none" stroke="#111" stroke-width="0.4" stroke-opacity="1" stroke-linejoin="round"/>
<path d="M280.7 85.8 L279.9 84.7 L281.5 84.7 L282.4 81.6 L280.8 80.7 L281.4 78.8 L282.0 80.9 L282.1 81.7 L281.5 80.9 L281.5 81.8 L283.8 82.7 L282.7 84.6 L281.1 82.0 L280.7 81.5 L281.7 81.9 L279.7 81.3 L278.9 85.1 L276.9 84.1 L278.8 86.9 L278.3 89.6 L278.1 88.8 L277.9 90.7 L280.2 90.9 L278.2 91.8 L277.4 91.3 L278.1 92.2 L276.2 91.7 L278.4 91.9 L281.2 88.7 L279.4 89.3 L277.9 90.1 L278.0 88.6 L280.8 91.9 L278.2 92.0 L276.1 91.9 L275.4 92.1 L277.1 94.5 L276.6 95.7 L277.6 93.8 L277.7 92.8 L279.5 95.3" fill="none" stroke="#111" stroke-width="0.4" stroke-opacity="1" stroke-linejoin="round"/>
<path d="M280.7 85.8 L281.5 88.4 L281.4 87.4 L283.8 87.7 L284.6 85.9 L286.0 86.0 L286.1 84.5 L285.2 84.1 L285.7 86.4 L283.3 84.4 L282.1 83.5 L281.0 81.9 L280.3 82.9 L279.9 81.7 L281.1 82.1 L279.9 84.3 L279.1 83.0 L280.0 81.9 L278.7 84.3 L278.2 83.0 L278.8 83.0 L276.0 82.6 L277.0 82.1 L278.0 80.5 L279.6 80.2 L278.7 78.4 L280.5 78.6 L280.1 79.4 L280.1 79.1 L281.0 78.6 L282.7 82.5 L280.3 82.7 L279.9 84.0 L277.1 87.6 L278.6 91.0 L280.7 89.7 L280.7 92.5 L282.7 91.5 L283.4 93.9 L285.8 93.6 L286.7 94.7" fill="none" stroke="#111" stroke-width="0.4" stroke-opacity="1" stroke-linejoin="round"/>
<path d="M280.7 85.8 L280.1 85.5 L281.3 85.6 L280.9 87.6 L282.5 88.6 L281.5 87.4 L279.5 86.5 L279.7 84.6 L278.1 83.1 L278.1 82.5 L280.3 84.7 L280.1 84.6 L281.5 83.3 L282.7 81.5 L281.9 82.1 L281.8 79.7 L280.3 80.0 L277.5 82.9 L276.1 83.2 L280.2 82.9 L280.4 84.0 L279.9 82.5 L277.2 83.0 L276.6 85.2 L276.6 86.3 L274.7 85.9 L275.1 85.5 L275.9 84.9 L275.2 85.6 L273.1 89.8 L270.8 92.2 L273.0 92.0 L273.3 93.6 L273.6 94.7 L272.9 95.6 L271.7 94.0 L271.1 95.2 L271.3 95.9 L270.4 96.3 L268.9 96.2 L268.8 95.0" fill="none" stroke="#111" stroke-width="0.4" stroke-opacity="1" stroke-linejoin="round"/>
<path d="M280.7 85.8 L283.1 83.4 L284.2 83.5 L285.9 83.4 L287.2 82.8 L286.1 83.1 L286.2 82.2 L288.1 81.2 L287.8 82.0 L287.6 84.2 L286.2 86.4 L288.0 87.1 L291.2 85.2 L290.3 83.6 L285.5 80.6 L285.9 79.5 L282.2 80.2 L280.2 80.2 L279.4 83.0 L275.6 83.9 L281.0 84.5 L281.4 85.0 L282.8 86.3 L283.8 85.1 L283.8 86.4 L283.8 87.9 L285.5 90.6 L285.9 92.1 L285.3 92.2 L286.5 90.8 L288.4 89.6 L288.3 89.0 L286.9 90.4 L284.2 93.2 L281.6 94.9 L281.2 95.1 L281.7 97.7 L282.1 97.2 L282.1 99.4 L280.5 100.5 L282.5 100.1" fill="none" stroke="#111" stroke-width="0.4" stroke-opacity="1" stroke-linejoin="round"/>
<path d="M280.7 85.8 L280.2 87.1 L279.0 86.9 L278.3 87.0 L276.2 84.2 L277.7 82.7 L275.9 83.9 L274.7 83.4 L272.6 82.8 L272.9 84.2 L273.9 82.1 L273.0 82.9 L271.4 81.3 L270.6 82.8 L268.5 83.9 L269.3 82.7 L267.1 82.0 L266.2 80.8 L266.0 84.2 L267.3 86.0 L266.9 87.6 L265.5 87.8 L267.0 91.2 L267.6 91.3 L267.3 89.6 L268.0 92.0 L268.8 91.7 L268.1 90.0 L270.0 89.8 L271.6 88.1 L272.5 89.2 L272.0 88.2 L275.9 90.6 L277.7 89.3 L279.8 90.1 L282.3 89.8 L281.7 87.9 L278.9 85.0 L278.0 84.9 L280.2 87.8 L279.0 84.0" fill="none" stroke="#111" stroke-width="0.4" stroke-opacity="1" stroke-linejoin="round"/>
<path d="M280.7 85.8 L281.7 86.7 L281.5 85.5 L281.0 86.1 L281.7 83.7 L282.0 82.3 L280.9 82.7 L280.1 83.4 L276.6 84.5 L277.4 84.0 L276.6 81.7 L275.2 84.9 L276.3 85.0 L275.8 84.2 L274.3 84.9 L276.3 83.5 L277.8 83.1 L278.8 81.9 L280.5 84.8 L280.0 84.6 L282.0 83.8 L280.4 80.0 L280.1 82.1 L279.3 82.1 L275.8 81.5 L275.9 80.6 L275.6 79.0 L274.5 81.0 L273.1 83.3 L271.3 85.6 L271.6 86.9 L271.7 87.9 L276.0 84.5 L275.5 85.4 L278.4 83.7 L279.0 85.4 L278.6 85.7 L279.6 87.6 L280.8 88.5 L280.2 88.0 L284.3 86.3" fill="none" stroke="#111" stroke-width="0.4" stroke-opacity="1" stroke-linejoin="round"/>
<path d="M280.7 85.8 L280.6 84.6 L281.4 83.7 L280.3 81.5 L279.4 79.3 L278.7 80.2 L275.9 83.2 L276.9 83.7 L276.1 85.3 L276.5 84.9 L276.5 85.2 L275.0 87.5 L272.7 88.3 L271.1 88.4 L270.5 88.8 L272.6 88.2 L273.2 89.0 L273.4 87.5 L273.1 85.1 L274.6 87.5 L274.7 88.5 L274.4 85.9 L273.7 87.5 L273.4 86.5 L268.7 88.2 L271.0 91.0 L274.6 87.9 L274.5 89.1 L273.4 89.6 L274.9 88.9 L275.6 87.7 L271.7 87.9 L272.2 88.8 L273.2 87.5 L274.0 82.9 L274.1 81.0 L273.9 79.3 L273.9 80.8 L275.3 80.2 L277.2 80.8 L279.1 80.9" fill="none" stroke="#000" stroke-width="0.42" stroke-opacity="1" stroke-linejoin="round"/>
<path d="M280.7 85.8 L278.9 84.5 L275.3 85.0 L276.9 83.5 L276.1 81.4 L276.3 83.3 L275.8 84.6 L276.4 84.5 L277.2 82.1 L276.5 82.6 L277.0 84.7 L276.3 83.6 L275.2 83.3 L273.4 81.4 L273.4 79.8 L272.9 80.0 L272.3 81.7 L272.5 82.2 L274.3 81.9 L271.8 81.2 L272.8 79.9 L271.1 80.8 L274.3 80.4 L275.6 82.9 L274.3 82.1 L273.5 81.2 L273.1 79.5 L272.2 79.5 L274.9 77.6 L274.6 76.6 L274.1 76.1 L272.4 75.9 L270.8 76.4 L271.8 77.3 L271.5 78.5 L270.7 79.4 L274.3 80.2 L276.9 81.6 L275.9 82.2 L273.9 83.2 L275.2 84.1" fill="none" stroke="#000" stroke-width="0.42" stroke-opacity="1" stroke-linejoin="round"/>
<path d="M280.7 85.8 L280.5 83.1 L281.6 84.7 L283.3 84.4 L284.6 85.3 L286.0 84.4 L284.7 81.5 L284.4 81.0 L283.6 81.3 L282.0 81.7 L284.7 81.5 L282.5 81.5 L282.0 81.6 L281.9 80.7 L282.7 82.3 L282.8 82.5 L280.8 85.6 L279.8 85.6 L278.1 86.4 L277.0 86.5 L276.4 86.1 L276.3 84.8 L276.4 83.6 L276.2 83.0 L274.9 83.3 L276.2 83.5 L274.2 84.3 L275.7 81.8 L277.5 78.2 L278.3 79.2 L280.5 81.4 L281.4 82.7 L284.0 85.4 L284.8 86.6 L283.3 85.5 L285.7 86.1 L284.3 85.9 L282.1 85.8 L283.9 83.2 L284.2 83.8 L284.3 84.0" fill="none" stroke="#000" stroke-width="0.42" stroke-opacity="1" stroke-linejoin="round"/>
<path d="M280.7 85.8 L280.8 83.0 L280.7 80.8 L279.7 83.0 L279.2 82.2 L280.5 81.0 L279.7 80.9 L280.6 79.5 L280.7 76.7 L278.8 76.5 L277.9 76.8 L279.1 73.7 L279.7 73.8 L279.2 74.0 L278.1 74.6 L278.4 77.2 L275.6 75.6 L276.3 77.1 L274.5 75.4 L273.8 75.9 L272.5 77.3 L274.8 76.9 L276.6 74.6 L275.1 75.4 L276.5 73.4 L275.9 74.0 L275.9 72.9 L275.9 74.1 L275.2 72.1 L277.3 71.4 L274.3 71.8 L275.8 73.4 L277.3 73.4 L277.9 74.0 L280.4 74.5 L278.2 76.0 L278.5 75.8 L278.3 77.0 L278.4 77.4 L278.5 78.8 L276.9 79.4" fill="none" stroke="#000" stroke-width="0.42" stroke-opacity="1" stroke-linejoin="round"/>
<path d="M280.7 85.8 L282.5 87.8 L281.7 89.1 L280.3 91.6 L281.7 90.4 L282.6 90.7 L281.7 88.4 L281.1 89.4 L282.1 89.5 L282.4 87.7 L281.2 87.4 L280.5 85.5 L278.2 86.7 L277.7 86.8 L275.8 84.4 L276.8 84.4 L277.8 82.8 L276.8 82.7 L275.9 84.2 L277.5 82.6 L278.6 81.8 L279.5 81.9 L278.9 81.9 L281.4 83.0 L281.7 82.1 L285.0 83.7 L285.3 84.3 L285.1 84.8 L286.4 84.7 L286.1 83.7 L285.0 83.2 L285.4 79.6 L286.4 77.8 L287.5 79.2 L289.5 79.8 L288.2 82.4 L287.3 84.3 L285.8 83.9 L283.9 83.5 L284.6 84.6 L282.0 83.7" fill="none" stroke="#000" stroke-width="0.42" stroke-opacity="1" stroke-linejoin="round"/>
<path d="M280.7 85.8 L281.2 87.6 L281.4 90.2 L281.8 91.4 L282.9 91.9 L281.8 91.7 L284.0 93.9 L283.6 94.9 L281.2 96.6 L281.1 93.4 L279.8 93.1 L279.2 93.1 L278.0 90.5 L280.4 89.1 L278.7 86.9 L278.1 88.8 L279.9 91.9 L279.0 91.8 L281.0 91.6 L281.6 94.5 L280.1 93.0 L281.0 92.1 L280.6 94.1 L281.2 96.3 L280.2 96.5 L280.8 97.1 L277.8 95.6 L278.6 92.9 L276.1 91.8 L275.3 93.1 L276.2 92.4 L274.8 91.1 L276.6 91.8 L277.5 88.8 L274.6 90.4 L277.8 91.2 L276.6 88.7 L274.6 89.4 L275.1 88.5 L276.0 90.8 L276.8 90.0" fill="none" stroke="#000" stroke-width="0.42" stroke-opacity="1" stroke-linejoin="round"/>
<path d="M280.7 85.8 L279.3 88.2 L278.5 90.6 L277.5 90.8 L278.0 90.4 L278.0 90.4 L277.5 90.4 L279.2 93.1 L278.9 95.3 L278.6 95.3 L279.1 95.1 L280.4 94.4 L280.1 94.6 L279.0 93.4 L279.3 94.6 L278.7 93.0 L277.5 92.5 L276.8 92.1 L279.6 90.2 L277.8 89.2 L275.5 90.5 L273.1 89.2 L271.4 89.5 L270.9 88.3 L270.0 89.0 L270.5 91.6 L269.3 93.7 L272.3 94.5 L269.5 94.7 L270.9 95.8 L271.0 94.4 L272.0 95.0 L272.0 92.2 L272.9 92.5 L273.7 91.7 L276.0 93.0 L276.4 91.3 L275.2 88.7 L275.4 87.6 L274.7 84.0 L274.9 82.0" fill="none" stroke="#000" stroke-width="0.42" stroke-opacity="1" stroke-linejoin="round"/>
<path d="M280.7 85.8 L282.9 85.8 L279.2 85.7 L280.0 84.5 L280.9 86.1 L281.2 87.2 L279.1 86.5 L276.9 84.4 L277.6 84.0 L278.4 83.7 L276.4 85.9 L277.7 85.7 L278.0 83.0 L276.6 85.0 L276.4 85.0 L278.1 87.2 L276.1 86.6 L276.0 85.1 L276.4 86.2 L276.1 84.2 L275.3 84.2 L275.4 84.3 L274.5 87.0 L276.1 86.2 L273.7 87.9 L272.3 86.3 L272.2 84.5 L270.5 84.3 L270.2 83.6 L271.4 84.9 L273.8 85.8 L273.9 87.5 L273.3 89.3 L272.0 88.7 L267.7 87.7 L267.8 88.6 L267.5 89.3 L270.8 89.7 L270.7 89.6 L271.1 88.0 L271.5 91.1" fill="none" stroke="#000" stroke-width="0.42" stroke-opacity="1" stroke-linejoin="round"/>
<path d="M280.7 85.8 L279.3 84.2 L279.0 85.6 L277.8 85.1 L275.6 84.1 L277.6 85.0 L278.8 85.3 L277.3 85.2 L277.7 84.9 L278.8 86.5 L276.7 87.6 L277.3 91.4 L275.5 91.5 L275.2 91.6 L277.4 90.7 L277.0 92.9 L279.2 94.0 L280.9 94.1 L282.2 94.4 L283.9 92.7 L285.0 92.4 L284.3 92.9 L284.6 93.2 L282.5 92.7 L282.8 94.4 L282.4 95.1 L280.9 96.4 L280.1 94.6 L282.6 94.1 L282.2 96.6 L281.0 94.6 L281.5 96.2 L280.2 95.8 L281.2 95.5 L280.7 95.4 L283.6 93.5 L284.6 93.7 L286.4 90.4 L286.6 91.3 L283.9 87.9 L286.4 88.9" fill="none" stroke="#000" stroke-width="0.42" stroke-opacity="1" stroke-linejoin="round"/>
<path d="M280.7 85.8 L281.8 87.0 L280.9 86.8 L282.9 85.2 L284.0 86.8 L281.1 84.6 L284.3 84.0 L285.8 84.4 L287.3 86.2 L289.7 87.4 L288.2 85.8 L291.0 84.6 L290.8 82.3 L289.1 81.6 L290.1 81.6 L289.6 80.0 L286.9 80.7 L285.1 82.1 L286.0 79.2 L286.3 81.1 L284.3 81.3 L285.2 81.6 L285.3 84.1 L285.6 82.4 L284.4 81.3 L283.3 80.8 L281.2 83.7 L281.8 83.0 L284.1 84.9 L282.1 85.5 L280.5 84.0 L281.2 83.4 L282.0 82.3 L283.2 82.7 L280.5 82.2 L277.1 80.1 L277.6 81.3 L275.9 80.2 L275.3 78.4 L277.5 79.7 L277.7 79.0" fill="none" stroke="#000" stroke-width="0.42" stroke-opacity="1" stroke-linejoin="round"/>
<path d="M280.7 85.8 L279.7 83.9 L279.4 84.5 L279.2 86.6 L276.3 86.1 L277.2 87.9 L276.9 88.3 L277.1 89.0 L277.2 89.4 L278.4 89.2 L278.4 87.6 L277.1 87.5 L277.9 87.2 L280.3 86.6 L280.6 86.1 L282.7 85.9 L280.8 85.0 L277.2 86.2 L280.7 85.8 L281.8 87.2 L281.3 86.3 L283.1 84.8 L283.9 85.6 L282.5 82.8 L283.6 82.8 L284.4 81.1 L283.6 82.0 L283.8 82.2 L283.0 82.6 L283.2 83.9 L283.7 84.6 L283.4 88.7 L281.5 89.7 L277.6 88.7 L279.1 85.7 L280.6 83.9 L281.5 83.0 L280.3 82.2 L281.2 81.6 L282.2 81.6 L280.7 83.7" fill="none" stroke="#000" stroke-width="0.42" stroke-opacity="1" stroke-linejoin="round"/>
<path d="M280.7 85.8 L282.8 88.1 L283.1 89.8 L284.0 88.4 L283.0 88.6 L284.8 87.9 L283.9 86.6 L283.5 85.3 L284.0 86.6 L284.2 83.7 L281.9 83.5 L283.8 82.7 L284.8 82.6 L286.5 80.9 L284.6 80.1 L284.6 80.4 L287.6 81.0 L285.9 82.3 L283.0 83.5 L282.8 82.1 L282.0 81.3 L282.7 81.1 L284.2 80.2 L286.7 83.7 L287.4 85.9 L287.2 86.7 L288.0 83.7 L289.6 82.4 L289.0 81.8 L290.2 81.8 L289.9 81.6 L289.1 83.3 L287.5 83.7 L287.2 83.9 L286.2 82.9 L287.2 83.9 L286.0 81.7 L285.2 82.2 L283.7 80.8 L279.7 81.3 L278.4 82.7" fill="none" stroke="#000" stroke-width="0.42" stroke-opacity="1" stroke-linejoin="round"/>
<path d="M280.7 85.8 L281.0 86.3 L281.4 86.6 L283.1 85.2 L281.2 85.0 L280.6 87.6 L280.4 85.6 L280.4 85.2 L282.8 85.4 L284.4 85.3 L283.0 84.8 L281.9 87.8 L284.3 86.7 L280.7 85.5 L280.4 84.1 L280.9 84.3 L282.1 84.9 L281.3 83.8 L282.5 84.1 L279.5 84.6 L281.7 82.4 L281.5 84.8 L281.1 86.4 L280.1 85.8 L278.9 85.1 L279.2 83.7 L279.4 82.4 L281.0 82.1 L282.6 80.3 L282.6 81.7 L281.5 83.2 L281.3 83.7 L281.7 83.3 L282.6 83.9 L281.6 85.2 L280.7 84.9 L281.9 82.4 L282.2 82.9 L283.6 83.7 L282.0 81.5 L282.3 84.1" fill="none" stroke="#000" stroke-width="0.42" stroke-opacity="1" stroke-linejoin="round"/>
<path d="M280.7 85.8 L281.5 86.2 L281.5 85.4 L279.9 83.4 L280.9 83.3 L281.1 84.6 L282.8 82.2 L282.7 82.1 L281.9 81.6 L281.1 84.7 L280.9 85.9 L279.4 82.6 L281.3 83.1 L281.0 82.1 L282.2 82.7 L281.1 84.4 L283.4 83.7 L278.9 85.6 L280.5 84.7 L278.8 84.8 L280.6 85.9 L280.4 84.0 L277.6 82.0 L276.1 80.2 L278.0 78.3 L274.5 79.0 L275.2 78.6 L276.2 78.3 L277.9 76.6 L278.3 75.0 L278.2 75.6 L278.8 75.9 L280.3 78.0 L277.5 77.1 L279.2 76.7 L280.8 79.3 L282.3 80.2 L282.8 79.3 L282.7 81.2 L285.2 82.7 L285.3 80.5" fill="none" stroke="#000" stroke-width="0.42" stroke-opacity="1" stroke-linejoin="round"/>
<path d="M280.7 85.8 L281.9 84.3 L280.0 86.3 L279.7 86.5 L279.8 86.1 L278.9 85.8 L277.8 86.7 L277.2 84.8 L276.7 85.7 L277.0 85.2 L275.0 84.1 L274.9 83.9 L277.0 85.1 L277.6 83.1 L280.1 82.9 L276.8 84.7 L277.1 85.5 L276.9 85.8 L275.4 85.1 L276.3 87.1 L274.2 87.6 L275.0 85.1 L274.9 84.5 L273.0 83.6 L273.7 85.0 L272.6 84.9 L273.9 85.6 L271.8 87.0 L274.8 86.9 L278.3 84.3 L276.4 84.2 L278.9 84.7 L279.8 83.6 L279.4 83.2 L281.0 82.7 L280.1 83.0 L282.8 80.4 L281.4 81.4 L281.0 83.8 L279.1 81.9 L281.0 82.2" fill="none" stroke="#000" stroke-width="0.42" stroke-opacity="1" stroke-linejoin="round"/>
<path d="M280.7 85.8 L279.2 84.6 L279.7 85.3 L280.3 84.9 L276.9 85.2 L276.7 85.3 L274.5 83.9 L276.9 84.4 L276.6 82.2 L276.3 85.4 L276.9 90.9 L273.4 89.7 L271.0 89.0 L272.0 88.2 L270.0 91.7 L270.4 91.5 L271.5 89.4 L271.4 90.3 L273.6 91.2 L275.6 92.4 L276.4 88.0 L278.0 89.6 L278.2 89.8 L278.2 89.0 L277.4 84.5 L275.4 84.5 L276.6 83.0 L278.5 82.6 L277.6 82.6 L279.1 80.9 L280.1 82.5 L279.5 84.0 L279.4 84.3 L276.6 84.6 L275.4 81.7 L277.1 80.2 L276.7 82.6 L276.1 81.7 L279.0 81.9 L280.0 84.4 L281.0 83.7" fill="none" stroke="#000" stroke-width="0.42" stroke-opacity="1" stroke-linejoin="round"/>
<path d="M280.7 85.8 L283.4 87.0 L282.8 86.0 L283.1 86.4 L283.4 85.0 L286.2 85.8 L286.0 86.4 L284.9 85.7 L283.4 85.2 L282.4 84.7 L278.8 84.5 L279.3 85.9 L277.9 86.1 L276.9 87.7 L277.8 87.1 L274.0 88.3 L276.5 88.2 L275.4 89.3 L275.4 88.0 L277.6 88.7 L279.4 88.4 L281.2 87.5 L280.4 85.3 L280.8 83.0 L280.0 80.6 L280.1 83.5 L278.9 82.2 L278.1 81.1 L278.5 84.2 L279.0 85.4 L277.7 84.3 L278.8 84.7 L279.1 83.7 L278.5 83.7 L282.4 85.4 L280.9 85.8 L281.9 86.1 L278.6 85.5 L280.2 84.8 L279.3 84.5 L279.8 83.6" fill="none" stroke="#000" stroke-width="0.42" stroke-opacity="1" stroke-linejoin="round"/>
<path d="M280.7 85.8 L280.4 83.1 L279.0 83.9 L279.5 83.8 L279.5 82.8 L280.3 82.5 L282.2 80.7 L281.7 81.9 L281.2 81.8 L279.9 81.5 L279.4 81.2 L278.9 80.4 L276.6 79.6 L277.1 81.0 L276.5 79.1 L276.7 79.1 L275.5 80.3 L276.7 79.5 L276.1 80.5 L274.7 81.3 L276.7 81.9 L277.7 81.2 L274.7 82.4 L278.2 81.7 L278.1 81.0 L277.1 82.3 L277.8 80.1 L278.0 79.7 L278.6 84.6 L277.4 86.6 L275.1 88.0 L277.7 88.4 L279.5 87.4 L278.0 89.6 L278.6 92.4 L279.0 90.8 L278.9 88.7 L279.2 85.8 L279.3 82.8 L279.0 82.5 L279.9 86.0" fill="none" stroke="#000" stroke-width="0.42" stroke-opacity="1" stroke-linejoin="round"/>
<path d="M280.7 85.8 L281.1 85.0 L283.5 83.5 L284.4 84.9 L284.1 83.0 L282.1 81.6 L281.5 84.3 L284.9 83.7 L284.5 84.1 L283.6 84.2 L283.8 83.6 L284.3 84.3 L285.8 85.2 L283.8 84.6 L282.2 86.8 L279.0 86.9 L278.9 88.1 L280.9 90.4 L278.5 88.4 L276.5 88.5 L278.9 91.5 L280.3 92.0 L281.5 92.0 L286.7 90.8 L288.7 91.4 L290.4 87.6 L287.8 86.8 L286.2 88.0 L288.8 88.9 L289.9 91.3 L290.5 91.6 L290.0 92.0 L290.4 92.0 L290.1 92.5 L289.3 94.1 L289.8 92.4 L289.3 93.0 L288.0 91.5 L288.6 92.3 L288.9 91.2 L289.5 89.3" fill="none" stroke="#000" stroke-width="0.42" stroke-opacity="1" stroke-linejoin="round"/>
<path d="M280.7 85.8 L283.3 85.2 L280.3 81.6 L282.9 82.1 L284.1 81.4 L285.0 81.2 L289.0 80.3 L290.5 77.4 L289.6 75.9 L291.4 78.0 L294.1 80.2 L295.1 77.9 L295.0 77.3 L293.6 76.8 L295.0 75.9 L292.9 77.8 L293.3 76.3 L291.7 78.4 L291.0 78.7 L290.9 80.1 L290.1 80.6 L290.3 79.2 L291.8 81.5 L291.8 81.7 L291.6 80.6 L294.2 79.1 L292.2 77.9 L293.2 80.7 L292.3 78.9 L291.3 79.8 L290.6 81.0 L289.3 79.6 L287.4 78.4 L286.9 80.9 L287.5 79.5 L288.0 81.1 L287.5 82.9 L286.8 82.1 L287.8 86.2 L284.9 85.2 L284.1 86.1" fill="none" stroke="#000" stroke-width="0.42" stroke-opacity="1" stroke-linejoin="round"/>
<path d="M280.7 85.8 L281.6 86.2 L280.7 85.6 L282.4 86.2 L281.9 86.0 L281.5 87.1 L278.7 87.2 L276.9 86.2 L277.3 86.2 L279.9 88.1 L278.7 88.5 L279.8 87.9 L277.5 88.5 L277.6 88.3 L277.8 91.5 L277.0 90.8 L278.8 90.0 L280.0 89.5 L279.2 88.8 L281.8 89.1 L280.8 89.3 L280.5 91.0 L278.2 88.3 L278.0 85.1 L278.3 85.7 L280.2 88.3 L282.6 90.1 L285.6 90.2 L284.9 90.6 L285.7 90.0 L287.8 90.4 L292.6 88.3 L292.5 88.5 L291.2 89.2 L290.7 88.2 L288.6 90.2 L289.3 89.3 L289.2 89.5 L289.3 89.8 L288.6 89.0 L290.6 88.5" fill="none" stroke="#000" stroke-width="0.42" stroke-opacity="1" stroke-linejoin="round"/>
<path d="M280.7 85.8 L279.1 87.7 L278.8 86.8 L278.3 87.4 L278.0 88.6 L276.2 89.3 L276.5 91.4 L280.0 92.2 L280.8 92.0 L283.2 92.5 L281.8 93.1 L280.9 91.0 L281.2 90.1 L281.9 90.0 L282.9 86.6 L283.7 87.5 L282.6 86.2 L282.7 87.1 L286.7 85.8 L287.1 86.1 L287.0 85.2 L286.0 86.8 L285.6 86.0 L285.7 87.0 L287.1 88.1 L286.7 86.8 L289.7 86.8 L291.1 86.3 L288.7 86.8 L288.0 86.7 L286.3 86.9 L284.5 87.6 L282.4 88.2 L282.0 89.6 L284.4 90.3 L283.8 93.7 L284.0 93.0 L283.7 94.7 L284.8 95.4 L288.1 94.0 L285.2 91.7" fill="none" stroke="#000" stroke-width="0.42" stroke-opacity="1" stroke-linejoin="round"/>
<path d="M280.7 85.8 L281.9 85.5 L285.4 85.9 L282.7 83.6 L285.2 85.0 L282.6 83.4 L282.5 83.6 L281.7 82.5 L282.2 83.2 L283.9 84.2 L284.1 83.5 L285.1 86.0 L285.2 87.9 L286.3 90.4 L285.8 90.0 L284.7 91.8 L284.8 92.6 L284.6 92.7 L285.3 92.9 L284.5 95.4 L285.7 94.4 L285.6 91.5 L286.7 91.3 L285.7 88.2 L285.8 87.6 L287.1 85.3 L286.8 85.0 L287.0 85.0 L285.1 84.3 L287.5 85.9 L286.8 86.3 L285.8 85.6 L286.1 86.5 L286.3 85.8 L286.4 86.5 L285.3 84.5 L284.6 84.8 L288.0 85.2 L287.7 84.8 L285.8 82.5 L286.9 85.9" fill="none" stroke="#000" stroke-width="0.42" stroke-opacity="1" stroke-linejoin="round"/>
<path d="M280.7 85.8 L277.1 87.4 L274.6 87.8 L274.3 86.7 L272.6 87.3 L272.0 88.3 L274.2 92.2 L275.0 92.0 L276.2 92.0 L276.3 90.5 L274.6 90.9 L276.3 91.3 L276.2 94.8 L275.3 94.1 L276.2 92.5 L274.5 90.8 L274.3 89.8 L275.9 88.1 L276.0 85.8 L276.3 90.1 L275.8 86.9 L275.4 88.3 L279.2 84.8 L278.9 84.2 L278.4 86.1 L279.6 86.3 L276.4 85.0 L275.2 82.2 L275.9 85.3 L276.1 86.5 L275.4 85.7 L277.6 86.0 L279.5 86.9 L280.9 88.1 L282.0 87.3 L282.9 90.5 L284.3 89.8 L284.1 88.8 L285.1 89.0 L282.9 87.6 L283.3 88.4" fill="none" stroke="#000" stroke-width="0.42" stroke-opacity="1" stroke-linejoin="round"/>
<path d="M280.7 85.8 L279.6 87.7 L278.4 89.4 L276.9 86.5 L273.9 84.2 L273.0 85.4 L273.7 86.2 L272.4 88.5 L274.2 87.4 L273.8 88.3 L272.7 87.5 L275.4 87.2 L274.5 88.6 L271.2 89.2 L272.7 91.6 L272.8 92.9 L274.3 93.0 L274.3 94.0 L274.2 93.2 L273.9 94.9 L272.4 94.3 L273.3 95.2 L274.3 90.5 L275.0 90.9 L279.3 87.2 L276.5 89.2 L274.2 87.3 L275.0 87.2 L276.3 85.6 L278.7 87.1 L280.1 87.0 L280.4 84.4 L278.7 84.0 L278.2 83.2 L277.3 84.8 L278.0 87.3 L280.3 86.1 L281.3 87.0 L280.3 86.0 L280.5 86.0 L279.8 86.8" fill="none" stroke="#000" stroke-width="0.42" stroke-opacity="1" stroke-linejoin="round"/>
<path d="M280.7 85.8 L281.9 82.1 L282.5 84.4 L282.9 83.5 L281.5 82.2 L280.6 81.3 L281.1 82.6 L281.0 84.3 L280.7 84.9 L285.6 86.6 L284.3 89.2 L285.6 88.8 L286.6 89.9 L288.3 90.0 L287.1 88.6 L288.6 90.3 L287.7 88.5 L287.3 86.3 L288.6 86.9 L288.9 85.4 L288.9 83.1 L289.8 80.9 L287.6 82.5 L287.3 81.1 L288.6 80.0 L288.0 81.8 L289.6 81.7 L290.0 82.5 L289.6 81.3 L288.8 81.6 L288.1 83.2 L289.7 84.7 L291.3 86.2 L290.4 86.4 L289.9 89.0 L290.7 90.9 L292.7 90.7 L291.3 91.9 L289.3 92.1 L290.7 91.5 L289.6 91.6" fill="none" stroke="#000" stroke-width="0.42" stroke-opacity="1" stroke-linejoin="round"/>
<path d="M280.7 85.8 L281.2 87.2 L281.4 89.0 L280.9 90.4 L283.0 90.0 L282.8 90.9 L281.5 89.6 L281.2 89.6 L279.2 88.2 L277.2 87.6 L276.4 89.0 L276.3 91.8 L276.4 90.2 L275.2 90.3 L275.7 90.5 L274.6 90.3 L276.0 86.8 L274.0 85.8 L275.3 90.4 L272.5 91.6 L273.9 92.0 L273.7 91.4 L275.1 91.7 L274.2 89.2 L275.1 91.3 L276.9 89.7 L275.8 88.6 L276.1 90.0 L275.0 89.8 L274.8 88.9 L274.1 88.5 L273.0 85.8 L274.3 85.1 L275.1 85.0 L274.2 86.0 L273.9 86.6 L272.7 88.4 L272.8 87.0 L274.9 86.2 L274.8 83.6 L273.3 85.8" fill="none" stroke="#000" stroke-width="0.42" stroke-opacity="1" stroke-linejoin="round"/>
<path d="M280.7 85.8 L279.4 83.9 L281.5 84.8 L281.7 84.8 L283.1 84.5 L284.3 84.0 L282.0 84.8 L281.5 86.0 L280.6 85.0 L281.7 85.4 L283.5 84.0 L284.6 85.5 L283.7 85.1 L285.3 81.7 L283.7 79.6 L282.6 80.4 L281.1 77.8 L280.9 77.1 L284.0 77.2 L283.4 76.4 L283.6 77.3 L283.9 75.6 L284.6 75.7 L283.7 76.8 L285.1 74.9 L284.7 73.3 L284.4 74.9 L286.0 76.7 L284.4 75.7 L284.8 75.3 L284.1 74.9 L283.9 77.2 L280.7 77.2 L280.8 78.7 L279.7 79.8 L279.0 78.7 L276.7 80.4 L278.5 81.6 L276.8 81.8 L275.8 82.3 L277.3 84.2" fill="none" stroke="#000" stroke-width="0.42" stroke-opacity="1" stroke-linejoin="round"/>
<path d="M280.7 85.8 L281.1 87.7 L280.3 85.6 L281.7 85.8 L280.7 86.1 L280.4 84.5 L281.2 82.9 L281.2 85.8 L282.3 86.2 L281.6 86.6 L280.6 85.6 L283.5 84.3 L284.3 84.4 L282.9 82.3 L282.9 83.5 L286.2 83.1 L284.4 84.7 L286.4 84.2 L283.1 85.8 L281.0 84.6 L281.2 84.2 L281.4 84.4 L280.5 88.2 L280.0 86.7 L278.5 85.6 L277.0 85.6 L279.0 84.4 L280.7 85.0 L281.9 84.3 L282.0 84.6 L280.4 84.1 L278.0 83.3 L276.0 84.0 L274.2 82.8 L272.9 82.6 L272.4 84.7 L272.9 84.3 L274.3 84.7 L276.9 83.5 L277.1 85.4 L279.4 86.5" fill="none" stroke="#000" stroke-width="0.42" stroke-opacity="1" stroke-linejoin="round"/>
<path d="M280.7 85.8 L279.8 86.8 L279.3 87.4 L278.5 88.2 L280.1 88.6 L281.3 86.4 L280.4 86.2 L279.2 86.5 L276.1 87.2 L276.6 88.9 L274.9 89.2 L277.9 90.6 L278.6 90.0 L279.6 88.7 L280.3 87.7 L284.3 89.3 L284.0 89.6 L284.1 90.9 L285.9 87.5 L285.7 88.3 L288.9 91.2 L288.0 91.3 L287.2 93.0 L285.8 91.7 L286.0 90.0 L287.1 88.1 L286.4 87.7 L285.8 88.8 L287.9 86.6 L287.1 84.4 L287.2 84.6 L288.5 85.4 L287.3 89.9 L288.9 91.0 L288.4 91.9 L289.4 89.4 L287.6 89.6 L289.0 90.9 L288.9 87.8 L289.9 85.3 L291.0 88.5" fill="none" stroke="#000" stroke-width="0.42" stroke-opacity="1" stroke-linejoin="round"/>
<path d="M280.7 85.8 L278.7 85.4 L277.6 84.0 L277.5 82.7 L278.9 83.3 L277.0 82.4 L275.7 83.7 L277.2 82.2 L275.9 82.7 L277.3 83.8 L279.3 83.7 L277.4 84.4 L277.9 86.3 L278.2 88.3 L275.7 88.4 L276.1 87.2 L278.2 87.3 L277.8 88.1 L279.4 88.5 L278.8 87.9 L280.2 89.4 L281.1 90.4 L279.0 90.6 L278.0 92.8 L277.9 93.8 L278.7 91.9 L277.6 90.1 L277.3 90.2 L278.6 92.0 L278.6 91.9 L278.5 88.8 L276.2 87.1 L274.0 87.5 L276.0 88.0 L276.2 85.6 L277.8 85.1 L280.4 86.1 L284.2 86.0 L284.7 86.0 L283.5 83.1 L283.1 85.3" fill="none" stroke="#000" stroke-width="0.42" stroke-opacity="1" stroke-linejoin="round"/>
<path d="M280.7 85.8 L280.9 85.5 L281.8 87.8 L281.6 86.1 L281.9 85.4 L281.6 85.9 L281.9 84.8 L280.3 83.8 L278.8 83.5 L280.4 85.4 L278.8 85.9 L278.0 85.9 L277.6 84.5 L276.7 85.6 L278.7 86.3 L277.1 84.0 L273.8 84.6 L271.9 85.7 L272.1 84.5 L270.4 84.8 L273.7 86.2 L274.8 84.1 L277.8 84.4 L279.7 86.8 L279.2 87.1 L278.9 86.8 L278.9 86.1 L278.8 85.7 L280.0 87.4 L277.9 85.9 L278.9 87.3 L280.2 85.2 L281.2 83.3 L281.6 81.7 L279.2 82.1 L279.3 81.3 L278.6 84.1 L278.3 84.9 L279.2 81.0 L279.2 81.3 L276.9 81.3" fill="none" stroke="#000" stroke-width="0.42" stroke-opacity="1" stroke-linejoin="round"/>
<path d="M280.7 85.8 L280.0 85.6 L279.0 86.6 L280.7 86.2 L279.4 84.2 L277.8 82.4 L278.6 82.8 L279.1 84.1 L278.1 86.8 L278.6 86.8 L278.6 86.0 L279.7 86.1 L278.4 86.9 L276.3 85.3 L277.3 84.5 L275.9 84.7 L276.7 86.2 L277.3 85.1 L277.7 85.3 L272.5 88.7 L272.1 87.9 L273.1 87.4 L271.2 87.8 L274.2 87.0 L272.1 89.8 L269.8 88.0 L269.1 89.7 L268.3 84.8 L269.5 82.8 L271.6 83.7 L274.1 85.9 L277.0 84.7 L278.6 85.7 L276.9 83.5 L277.4 82.6 L277.5 82.5 L279.2 82.0 L276.7 80.0 L277.3 81.0 L276.5 79.6 L276.4 77.8" fill="none" stroke="#000" stroke-width="0.42" stroke-opacity="1" stroke-linejoin="round"/>
<path d="M280.7 85.8 L278.0 88.7 L278.8 87.8 L277.2 87.2 L277.5 88.3 L276.1 89.4 L277.3 87.9 L275.9 88.0 L277.4 88.5 L278.0 86.5 L280.9 88.2 L283.3 86.3 L283.6 85.1 L283.8 86.7 L283.6 87.1 L284.7 89.4 L285.2 89.0 L286.0 90.2 L287.1 88.8 L286.8 90.9 L286.8 89.1 L284.9 87.8 L283.1 87.2 L280.7 88.8 L282.7 88.1 L280.6 86.2 L281.9 87.3 L281.1 89.1 L281.7 87.3 L279.6 86.4 L278.5 88.3 L278.9 86.7 L279.2 86.6 L277.7 85.1 L277.7 84.6 L275.8 84.5 L275.2 81.1 L276.3 81.9 L276.3 81.6 L276.1 82.0 L275.0 80.5" fill="none" stroke="#000" stroke-width="0.42" stroke-opacity="1" stroke-linejoin="round"/>
<path d="M280.7 85.8 L280.1 86.7 L278.2 86.7 L278.1 86.8 L280.9 87.7 L282.3 90.8 L281.5 91.1 L281.1 90.6 L281.2 92.5 L280.8 92.7 L280.3 91.6 L281.3 91.2 L282.0 92.1 L283.1 89.1 L283.5 87.9 L282.1 88.8 L278.7 88.0 L279.1 86.1 L282.3 89.9 L285.2 89.6 L285.3 86.9 L287.7 85.8 L286.1 84.7 L285.8 84.2 L285.4 83.6 L285.9 82.9 L285.5 85.1 L286.2 85.8 L282.7 85.8 L283.4 85.5 L284.4 85.4 L285.1 83.2 L286.1 81.5 L283.6 82.5 L281.8 84.4 L281.2 83.9 L283.0 84.0 L280.9 87.5 L282.6 87.9 L282.6 86.4 L282.1 84.9" fill="none" stroke="#000" stroke-width="0.42" stroke-opacity="1" stroke-linejoin="round"/>
<path d="M280.7 85.8 L278.9 84.8 L277.6 84.5 L278.4 85.3 L279.5 84.4 L278.8 84.0 L278.9 84.8 L280.2 84.9 L279.4 85.4 L275.7 87.1 L275.7 87.4 L274.0 88.7 L273.8 89.2 L273.2 88.0 L276.5 85.8 L274.6 84.3 L274.6 83.9 L272.6 82.6 L273.1 80.8 L273.0 78.3 L273.6 77.5 L276.7 77.4 L277.8 78.3 L279.5 79.5 L280.5 80.9 L279.4 82.7 L279.1 83.6 L282.4 83.8 L280.9 85.4 L281.5 85.8 L279.4 85.6 L280.5 85.2 L283.5 82.6 L282.2 84.2 L284.1 85.6 L285.0 83.0 L284.0 82.4 L285.0 83.8 L284.8 83.7 L283.5 86.5 L280.9 84.7" fill="none" stroke="#000" stroke-width="0.42" stroke-opacity="1" stroke-linejoin="round"/>
<path d="M280.7 85.8 L280.6 88.1 L282.4 87.8 L284.6 87.2 L285.1 90.1 L283.8 88.2 L284.3 88.0 L284.4 85.1 L286.1 85.3 L284.2 85.4 L283.7 86.1 L280.5 85.7 L280.3 85.5 L278.8 85.0 L280.7 83.4 L279.6 84.3 L280.9 84.7 L281.9 87.1 L279.9 87.1 L280.3 87.6 L280.4 88.6 L281.1 89.6 L279.2 89.3 L277.4 90.3 L278.6 90.9 L278.2 90.8 L276.2 88.1 L279.9 87.6 L279.1 88.9 L279.3 89.2 L278.2 87.9 L280.3 88.7 L281.2 87.0 L279.9 87.9 L280.7 88.4 L283.4 88.3 L284.6 91.0 L285.3 91.3 L284.4 92.1 L285.2 89.8 L285.3 87.8" fill="none" stroke="#000" stroke-width="0.42" stroke-opacity="1" stroke-linejoin="round"/>
<path d="M280.7 85.8 L281.5 83.7 L281.7 83.8 L280.0 84.5 L280.0 83.7 L278.3 84.3 L276.4 82.5 L272.6 83.3 L273.8 86.0 L271.6 84.8 L274.0 83.2 L275.0 82.1 L275.5 83.6 L273.7 83.8 L272.3 80.6 L273.1 80.8 L273.2 82.3 L273.0 82.5 L273.4 83.5 L272.2 83.1 L272.3 83.0 L272.0 81.7 L272.3 80.7 L273.2 80.3 L275.0 82.9 L274.0 80.6 L270.9 81.8 L273.2 80.3 L274.3 77.0 L276.0 79.4 L277.2 81.2 L277.0 82.8 L276.9 83.5 L273.9 83.0 L273.3 83.8 L273.7 82.7 L274.1 83.1 L273.0 79.5 L272.2 77.7 L271.6 75.3 L273.7 75.2" fill="none" stroke="#000" stroke-width="0.42" stroke-opacity="1" stroke-linejoin="round"/>
<path d="M280.7 85.8 L280.2 84.7 L282.9 83.1 L281.8 84.4 L284.0 87.8 L283.5 86.0 L284.1 88.8 L287.1 88.1 L286.6 88.6 L286.4 88.5 L285.1 89.5 L287.5 88.8 L289.0 90.4 L288.4 89.9 L288.1 89.9 L288.0 88.3 L291.0 87.0 L291.0 87.8 L289.9 86.2 L290.0 85.2 L287.8 87.0 L287.0 86.6 L288.9 88.5 L288.0 92.1 L288.9 91.1 L289.1 91.7 L286.9 91.5 L288.4 92.7 L287.3 94.2 L286.1 93.6 L285.8 92.9 L285.8 91.5 L284.1 90.8 L287.6 88.7 L290.1 89.3 L288.1 89.1 L288.4 91.1 L287.1 92.1 L288.4 91.8 L288.1 92.3 L287.6 93.6" fill="none" stroke="#000" stroke-width="0.42" stroke-opacity="1" stroke-linejoin="round"/>
<path d="M280.7 85.8 L280.4 87.3 L278.7 87.9 L277.4 86.5 L275.8 87.0 L273.7 87.0 L270.9 90.6 L272.0 88.1 L272.7 89.2 L270.4 87.3 L267.8 88.4 L267.7 88.5 L271.0 88.1 L269.0 90.2 L269.7 92.5 L268.7 91.6 L269.2 91.2 L270.1 93.1 L270.0 93.0 L269.6 92.3 L267.8 92.2 L267.7 90.9 L267.9 89.9 L269.3 89.6 L270.0 91.0 L272.1 90.4 L271.8 91.2 L270.9 89.2 L271.9 90.5 L272.7 88.8 L274.7 88.6 L275.6 90.3 L274.5 85.0 L274.2 86.0 L275.4 84.2 L276.6 85.6 L278.2 85.4 L277.5 85.4 L279.0 85.5 L277.8 85.3 L279.2 85.0" fill="none" stroke="#000" stroke-width="0.42" stroke-opacity="1" stroke-linejoin="round"/>
<path d="M280.7 85.8 L281.4 83.8 L282.5 81.5 L281.5 82.6 L279.7 81.6 L278.9 79.8 L280.3 76.8 L281.5 78.7 L282.2 79.6 L282.2 78.9 L283.2 78.4 L284.3 76.5 L280.9 75.3 L278.7 78.0 L278.6 75.9 L275.8 76.0 L276.8 76.0 L275.4 77.5 L277.3 76.2 L279.0 78.3 L281.6 77.6 L280.8 79.7 L282.2 80.7 L281.8 78.6 L280.9 79.9 L279.6 78.5 L279.3 79.1 L282.7 77.8 L283.3 78.1 L280.6 76.9 L276.8 74.3 L275.9 75.2 L277.1 77.1 L277.2 77.9 L278.0 77.1 L276.5 79.3 L276.4 80.0 L278.8 77.6 L277.4 79.0 L275.5 77.0 L275.0 75.9" fill="none" stroke="#000" stroke-width="0.42" stroke-opacity="1" stroke-linejoin="round"/>
<path d="M280.7 85.8 L280.9 85.1 L281.6 86.7 L282.2 85.3 L281.5 85.7 L281.0 84.4 L280.8 84.6 L280.8 85.4 L281.5 85.9 L282.4 84.3 L284.1 83.2 L282.1 83.2 L281.7 82.1 L281.6 84.1 L280.5 82.5 L277.9 83.6 L278.3 84.0 L276.9 81.6 L275.0 84.9 L274.7 85.9 L273.5 84.2 L274.1 84.2 L275.1 85.0 L277.6 85.2 L276.3 83.6 L276.2 84.4 L277.7 83.6 L277.2 85.1 L274.1 84.1 L272.9 83.8 L275.5 85.1 L276.3 82.8 L277.0 85.8 L274.6 85.8 L276.3 86.1 L276.9 83.3 L277.3 81.6 L277.3 84.5 L280.2 82.5 L276.9 81.9 L280.0 82.0" fill="none" stroke="#000" stroke-width="0.42" stroke-opacity="1" stroke-linejoin="round"/>
<path d="M280.7 85.8 L279.2 87.0 L279.6 88.2 L281.2 86.8 L279.3 88.0 L277.9 85.4 L277.7 86.2 L280.2 87.4 L280.4 88.0 L278.9 87.8 L280.5 87.4 L279.0 90.4 L279.1 89.8 L278.9 90.8 L278.9 88.8 L278.9 89.1 L278.3 89.3 L277.7 89.4 L281.0 91.0 L279.5 89.3 L279.7 89.3 L281.3 89.4 L283.0 89.9 L284.8 90.9 L284.6 89.5 L280.8 90.2 L277.7 91.0 L277.6 89.8 L278.7 89.2 L280.2 92.6 L279.6 94.1 L278.3 91.4 L275.2 90.4 L275.1 88.6 L274.8 88.0 L276.0 87.5 L278.6 86.5 L278.6 87.4 L279.6 85.5 L280.6 84.9 L281.6 86.0" fill="none" stroke="#000" stroke-width="0.42" stroke-opacity="1" stroke-linejoin="round"/>
<path d="M280.7 85.8 L279.7 86.7 L277.5 87.2 L278.9 83.4 L277.1 83.6 L276.6 84.1 L277.0 84.6 L276.5 86.4 L277.3 84.1 L278.0 82.7 L281.1 82.6 L280.3 84.4 L284.3 84.2 L283.1 85.5 L282.7 85.3 L283.1 85.5 L283.0 83.8 L279.5 84.8 L279.0 87.5 L278.7 90.4 L276.6 89.2 L276.5 87.9 L274.4 86.0 L275.6 85.2 L276.6 86.1 L277.9 85.0 L278.6 87.6 L278.0 87.2 L278.7 89.0 L278.1 89.7 L279.6 87.3 L280.1 87.3 L280.1 87.5 L279.7 86.5 L275.0 86.6 L274.2 85.5 L273.6 84.3 L272.5 84.6 L272.4 84.9 L273.0 85.3 L271.6 83.2" fill="none" stroke="#000" stroke-width="0.42" stroke-opacity="1" stroke-linejoin="round"/>
<path d="M280.7 85.8 L277.1 85.6 L277.0 86.5 L276.3 87.3 L279.3 86.3 L281.3 86.7 L280.6 87.3 L281.0 86.3 L281.9 86.5 L282.0 85.7 L283.8 85.7 L284.7 83.3 L284.6 81.0 L286.2 83.5 L287.2 84.2 L289.4 83.3 L288.7 87.3 L288.2 86.9 L286.7 86.5 L287.0 86.2 L285.7 86.1 L284.9 85.5 L286.0 88.0 L284.3 87.4 L284.6 87.6 L283.4 86.8 L283.9 86.1 L286.3 83.8 L287.8 84.1 L285.5 84.9 L285.7 84.8 L286.6 83.7 L284.8 85.4 L284.3 86.1 L284.5 86.3 L285.2 86.2 L284.6 84.7 L285.2 84.2 L285.6 85.1 L285.0 85.2 L283.4 86.1" fill="none" stroke="#000" stroke-width="0.42" stroke-opacity="1" stroke-linejoin="round"/>
<path d="M280.7 83.8 L280.4 83.9 L279.9 84.0 L279.8 84.2 L280.2 84.5 L279.8 84.5 L278.6 84.3 L277.3 84.1 L276.0 84.0 L275.1 84.6 L274.6 85.8 L275.2 86.3 L276.9 86.1 L277.8 85.9 L278.0 85.5 L279.0 85.3 L281.0 85.3 L282.0 85.4 L282.1 85.7 L282.1 86.8 L281.8 88.7 L281.1 89.9 L279.8 90.3 L279.1 90.9 L279.0 91.6 L278.2 91.5 L276.9 90.6 L275.8 89.6 L275.1 88.6 L275.1 88.2 L275.7 88.6 L276.8 88.7 L278.4 88.4 L278.7 88.4 L277.6 88.5 L277.1 88.4 L277.2 88.2 L277.9 88.2 L279.2 88.4 L279.5 88.3 L278.8 87.8 L277.7 87.0 L276.3 85.8 L275.0 85.4 L273.9 86.0 L272.8 87.1 L271.7 88.8 L270.7 89.9 L269.7 90.5 L269.2 91.9 L269.3 94.4 L270.0 95.6 L271.3 95.6 L271.6 95.9 L271.0 96.5 L270.8 97.0 L271.1 97.4 L270.8 97.3 L269.8 96.7 L269.4 96.4 L269.8 96.3 L270.0 96.3" fill="none" stroke="#222" stroke-width="0.38" stroke-opacity="1" stroke-linejoin="round"/>
<path d="M280.7 83.8 L280.9 83.2 L281.2 82.1 L281.3 82.1 L281.1 83.1 L281.2 83.2 L281.6 82.5 L282.1 81.4 L282.7 80.0 L283.0 79.0 L282.8 78.5 L282.6 78.2 L282.4 78.1 L282.3 78.2 L282.4 78.6 L282.6 79.2 L282.9 80.0 L283.0 80.9 L283.2 81.7 L282.9 82.2 L282.3 82.5 L282.5 83.8 L283.4 86.1 L284.3 88.3 L285.3 90.4 L285.2 91.8 L284.2 92.4 L283.8 92.6 L283.9 92.3 L284.3 91.9 L285.0 91.5 L285.7 91.5 L286.2 91.9 L286.5 91.8 L286.7 91.1 L287.3 90.1 L288.3 88.8 L289.2 87.7 L289.8 86.8 L290.1 85.7 L290.0 84.3 L290.6 82.9 L292.0 81.5 L293.8 81.1 L295.8 81.7 L297.3 82.0 L298.1 82.0 L297.9 81.4 L296.8 80.2 L296.2 79.4 L296.3 79.1 L296.5 78.7 L296.7 78.2 L296.7 77.6 L296.5 76.9 L296.6 76.3 L296.9 75.8 L297.4 75.9 L298.0 76.5 L298.2 77.0 L297.9 77.4 L297.7 77.6" fill="none" stroke="#222" stroke-width="0.38" stroke-opacity="1" stroke-linejoin="round"/>
<path d="M280.7 83.8 L280.6 83.2 L280.4 81.9 L280.3 81.0 L280.3 80.5 L280.2 80.3 L280.2 80.5 L281.3 80.8 L283.3 81.1 L284.1 81.1 L283.7 80.7 L283.0 80.8 L282.2 81.4 L282.2 81.1 L283.0 80.0 L283.8 78.7 L284.3 77.3 L285.3 75.8 L286.7 74.3 L287.4 73.6 L287.2 73.6 L287.5 73.3 L288.1 72.6 L288.8 72.4 L289.6 72.6 L290.4 72.8 L291.1 72.8 L292.2 72.6 L293.6 72.3 L294.9 72.1 L296.3 71.9 L296.7 71.9 L296.4 72.0 L296.5 72.7 L297.0 74.0 L297.3 75.1 L297.2 76.0 L298.0 76.9 L299.6 78.0 L301.4 78.7 L303.2 78.9 L304.4 79.2 L305.0 79.5 L304.6 79.8 L303.3 80.0 L302.8 80.1 L303.0 80.3 L302.9 80.9 L302.5 82.0 L302.7 82.5 L303.6 82.6 L304.1 82.7 L304.3 82.6 L303.9 83.0 L302.9 83.6 L302.2 83.6 L302.0 82.8 L301.6 82.9 L301.0 83.8 L300.6 83.9 L300.3 83.4 L300.1 83.1" fill="none" stroke="#222" stroke-width="0.38" stroke-opacity="1" stroke-linejoin="round"/>
<path d="M280.7 83.8 L280.7 84.1 L280.6 84.8 L279.9 85.7 L278.7 87.0 L278.1 87.7 L278.1 87.9 L278.9 87.6 L280.4 87.0 L281.7 86.2 L282.8 85.1 L283.6 84.5 L284.3 84.3 L284.8 84.1 L285.2 84.0 L285.8 83.8 L286.6 83.7 L287.5 84.1 L288.3 84.9 L288.4 84.7 L287.7 83.4 L286.5 82.8 L285.0 82.7 L284.3 82.8 L284.6 83.1 L284.7 83.6 L284.8 84.2 L284.1 84.1 L282.7 83.4 L282.3 82.6 L283.1 81.7 L284.1 81.5 L285.4 82.0 L285.9 81.7 L285.8 80.4 L286.1 79.9 L287.0 80.1 L287.0 80.0 L286.2 79.6 L286.8 79.1 L288.9 78.4 L290.0 77.7 L290.1 76.8 L290.3 75.9 L290.5 75.0 L291.0 75.1 L291.8 76.2 L292.1 76.6 L291.8 76.4 L292.0 76.6 L292.8 77.3 L293.0 77.1 L292.6 75.8 L292.5 75.2 L292.9 75.3 L293.5 75.7 L294.2 76.3 L294.4 76.8 L294.1 77.3 L294.2 78.2 L294.9 79.6 L295.2 80.2" fill="none" stroke="#222" stroke-width="0.38" stroke-opacity="1" stroke-linejoin="round"/>
<path d="M280.7 83.8 L280.2 83.9 L279.2 84.2 L278.2 84.7 L277.3 85.4 L276.8 85.8 L276.7 85.9 L276.7 86.0 L276.8 86.0 L277.1 85.5 L277.5 84.3 L277.5 83.5 L276.8 82.9 L276.0 82.5 L274.8 82.1 L274.2 82.1 L274.2 82.4 L274.5 82.8 L275.2 83.2 L275.3 82.9 L275.0 81.7 L275.1 81.4 L275.6 82.1 L276.3 82.6 L277.2 83.1 L278.1 83.3 L279.0 83.1 L278.9 82.7 L277.9 82.2 L277.3 82.4 L277.2 83.3 L276.8 83.8 L276.2 83.9 L275.3 84.2 L274.2 84.5 L273.2 85.2 L272.5 86.2 L272.5 86.3 L273.3 85.7 L273.9 84.3 L274.1 82.3 L274.6 80.7 L275.2 79.5 L275.9 78.8 L276.7 78.3 L277.2 78.2 L277.5 78.4 L278.0 78.4 L278.6 78.3 L278.9 78.5 L278.9 78.9 L279.0 79.2 L279.1 79.5 L278.6 79.4 L277.7 78.9 L277.3 77.7 L277.5 76.0 L277.2 75.3 L276.6 75.7 L275.9 76.2 L274.9 76.7 L274.5 77.0" fill="none" stroke="#222" stroke-width="0.38" stroke-opacity="1" stroke-linejoin="round"/>
<path d="M280.7 83.8 L280.1 83.6 L279.0 83.1 L278.6 82.5 L279.0 81.7 L278.7 81.2 L277.7 81.0 L276.7 81.2 L275.6 81.8 L275.2 81.5 L275.7 80.2 L276.0 79.5 L276.0 79.4 L275.7 79.7 L275.0 80.3 L274.4 81.4 L273.9 83.0 L273.6 83.6 L273.5 83.1 L273.4 83.0 L273.3 83.5 L273.0 83.8 L272.6 84.1 L273.1 84.5 L274.3 85.0 L274.3 85.6 L273.0 86.3 L272.9 85.9 L274.0 84.4 L274.3 83.1 L273.8 82.1 L273.1 81.5 L272.1 81.4 L270.8 82.3 L269.1 84.1 L269.1 85.3 L270.7 85.8 L271.5 86.7 L271.5 88.0 L270.5 89.3 L268.7 90.7 L267.1 91.7 L265.9 92.3 L265.3 93.0 L265.3 93.8 L265.5 94.7 L265.8 95.6 L265.6 96.0 L264.9 95.7 L265.1 96.1 L266.1 97.1 L266.2 97.4 L265.4 97.0 L265.1 96.9 L265.3 97.0 L265.5 96.9 L265.6 96.6 L265.9 95.8 L266.6 94.4 L267.2 93.9 L267.7 94.1 L268.0 94.2" fill="none" stroke="#222" stroke-width="0.38" stroke-opacity="1" stroke-linejoin="round"/>
<path d="M280.7 83.8 L281.0 83.5 L281.6 82.9 L282.1 82.7 L282.5 82.9 L282.3 83.8 L281.4 85.2 L281.1 85.6 L281.2 84.9 L281.0 85.0 L280.3 85.8 L279.6 86.5 L279.0 87.1 L278.5 87.5 L278.0 87.5 L277.7 87.4 L277.6 87.2 L278.0 87.2 L278.9 87.3 L278.9 87.4 L277.9 87.5 L277.4 87.9 L277.5 88.5 L277.8 89.0 L278.3 89.4 L278.9 90.0 L279.6 90.7 L280.0 91.0 L279.8 91.0 L279.8 90.6 L279.8 90.0 L280.2 89.7 L281.1 89.8 L281.4 90.0 L281.2 90.3 L281.2 90.2 L281.3 89.7 L281.3 89.5 L281.1 89.6 L280.9 89.5 L280.6 89.3 L280.5 89.3 L280.4 89.5 L280.1 90.3 L279.5 91.6 L279.1 92.5 L278.8 92.8 L279.3 93.0 L280.4 93.1 L281.1 92.6 L281.2 91.4 L281.6 91.8 L282.4 93.7 L283.1 94.2 L283.6 93.3 L283.4 93.1 L282.5 93.8 L282.4 94.0 L283.1 94.0 L284.0 94.0 L285.3 93.9 L285.9 93.9" fill="none" stroke="#222" stroke-width="0.38" stroke-opacity="1" stroke-linejoin="round"/>
<path d="M280.7 83.8 L280.5 83.1 L280.2 81.7 L279.7 81.1 L279.3 81.2 L278.5 81.5 L277.3 82.1 L277.2 82.1 L278.1 81.5 L278.0 80.9 L277.0 80.5 L276.6 79.9 L276.7 79.0 L277.0 78.7 L277.3 78.9 L277.3 79.7 L277.1 81.1 L276.2 81.3 L274.7 80.1 L274.3 79.5 L275.0 79.4 L275.7 78.9 L276.4 77.9 L277.1 76.9 L277.7 75.7 L277.3 75.1 L275.7 74.9 L275.0 74.7 L275.3 74.5 L276.1 74.2 L277.3 73.8 L278.0 73.7 L278.1 73.9 L277.7 74.6 L276.9 75.9 L275.6 77.4 L273.6 79.0 L273.3 80.0 L274.5 80.3 L274.5 80.5 L273.4 80.6 L272.6 80.5 L272.0 80.3 L271.7 80.5 L271.6 81.1 L271.1 81.8 L270.2 82.5 L270.5 83.5 L271.9 85.0 L272.5 85.6 L272.2 85.5 L272.1 85.7 L272.0 86.2 L271.7 86.1 L271.3 85.6 L270.7 85.5 L270.1 86.0 L270.3 87.0 L271.4 88.4 L272.1 89.3 L272.6 89.7 L272.8 90.0" fill="none" stroke="#222" stroke-width="0.38" stroke-opacity="1" stroke-linejoin="round"/>
<path d="M280.7 83.8 L281.1 84.0 L281.9 84.5 L282.0 84.1 L281.5 82.9 L281.1 81.8 L281.0 80.8 L281.4 80.1 L282.2 79.7 L282.4 80.2 L282.0 81.7 L282.0 82.8 L282.4 83.6 L282.5 84.1 L282.4 84.4 L281.7 84.0 L280.3 83.0 L279.4 82.7 L279.0 83.4 L278.4 83.2 L277.7 82.2 L276.6 81.4 L275.4 80.9 L275.1 80.8 L275.7 81.1 L276.3 81.2 L276.8 81.1 L277.2 80.9 L277.5 80.7 L277.6 80.9 L277.7 81.5 L276.8 81.9 L275.1 82.1 L274.1 81.5 L273.9 80.1 L272.9 78.8 L271.3 77.7 L270.6 76.9 L270.7 76.5 L270.8 76.4 L270.6 76.6 L270.3 77.0 L269.9 77.5 L269.2 77.8 L268.4 77.8 L267.7 77.7 L267.1 77.6 L266.8 78.0 L266.6 78.8 L266.6 78.7 L266.8 77.7 L267.4 77.0 L268.4 76.6 L269.2 76.3 L269.9 76.1 L270.2 76.3 L270.1 77.0 L270.5 77.2 L271.6 76.8 L271.3 76.5 L269.6 76.2 L268.8 76.0" fill="none" stroke="#222" stroke-width="0.38" stroke-opacity="1" stroke-linejoin="round"/>
<path d="M280.7 83.8 L280.8 83.8 L281.1 83.7 L281.1 83.7 L280.8 83.6 L280.6 83.0 L280.4 81.8 L280.4 80.5 L280.6 78.9 L280.3 78.8 L279.7 80.2 L279.3 80.7 L279.2 80.5 L279.0 80.3 L278.8 80.3 L278.6 80.8 L278.6 81.9 L279.5 82.4 L281.4 82.3 L282.7 81.8 L283.5 80.9 L283.7 79.7 L283.2 78.2 L282.7 77.3 L282.3 77.1 L282.5 76.3 L283.5 74.9 L283.4 75.2 L282.2 77.1 L281.7 77.8 L281.7 77.2 L282.2 77.5 L283.2 78.6 L283.7 78.7 L283.6 77.6 L283.7 77.4 L283.9 78.0 L283.9 78.6 L283.7 79.3 L283.7 79.7 L283.9 79.8 L284.7 79.9 L286.1 80.0 L286.6 79.9 L286.2 79.6 L285.8 79.5 L285.5 79.6 L285.0 80.1 L284.3 81.0 L283.6 81.9 L282.8 82.7 L281.8 82.9 L280.6 82.4 L280.5 81.9 L281.6 81.5 L282.5 81.1 L283.1 80.6 L283.2 79.7 L282.7 78.2 L283.2 77.4 L284.6 77.3 L285.3 77.2" fill="none" stroke="#222" stroke-width="0.38" stroke-opacity="1" stroke-linejoin="round"/>
<path d="M280.7 83.8 L280.1 83.3 L278.8 82.2 L278.5 81.9 L279.1 82.3 L279.8 82.3 L280.5 81.9 L280.4 81.9 L279.3 82.2 L278.5 82.6 L278.0 83.0 L278.9 83.9 L281.1 85.2 L282.4 86.5 L282.7 87.9 L282.8 89.2 L282.5 90.4 L282.0 91.7 L281.3 93.2 L281.6 93.9 L282.9 93.8 L283.5 93.4 L283.3 92.5 L282.6 91.7 L281.6 90.9 L280.6 91.4 L279.6 93.0 L279.1 94.3 L278.9 95.3 L279.0 96.5 L279.3 97.7 L279.9 98.7 L280.8 99.5 L280.4 100.2 L278.6 100.8 L277.4 100.2 L276.7 98.3 L276.1 97.3 L275.5 97.3 L275.0 96.9 L274.6 96.1 L274.5 95.9 L274.6 96.2 L273.9 96.8 L272.5 97.6 L272.0 97.9 L272.4 97.7 L273.2 97.5 L274.3 97.2 L274.4 97.5 L273.5 98.2 L273.1 98.6 L273.1 98.6 L273.0 98.6 L272.9 98.7 L273.0 98.4 L273.3 97.6 L273.5 96.5 L273.7 95.1 L273.0 93.9 L271.5 93.2 L270.7 92.8" fill="none" stroke="#222" stroke-width="0.38" stroke-opacity="1" stroke-linejoin="round"/>
<path d="M280.7 83.8 L280.8 83.4 L280.9 82.7 L280.6 82.6 L279.9 83.0 L278.8 83.0 L277.3 82.5 L276.5 82.2 L276.3 82.1 L276.7 82.4 L277.6 82.9 L277.9 83.1 L277.4 83.1 L277.3 83.3 L277.6 83.6 L277.6 84.1 L277.4 84.8 L277.1 84.7 L276.8 83.7 L276.8 83.5 L277.4 84.0 L277.0 84.4 L275.8 84.6 L274.8 84.9 L274.0 85.4 L273.8 85.7 L274.1 85.9 L274.1 85.3 L273.6 83.8 L273.4 82.6 L273.3 81.7 L273.2 81.1 L273.3 80.7 L273.3 80.4 L273.4 80.3 L273.0 79.9 L272.2 79.5 L271.2 79.7 L270.1 80.6 L269.6 80.5 L269.7 79.5 L269.6 79.0 L269.4 78.9 L269.3 79.0 L269.3 79.2 L269.1 79.5 L268.5 80.0 L268.3 80.6 L268.5 81.3 L268.8 81.8 L269.1 82.1 L268.3 82.3 L266.4 82.3 L265.1 81.8 L264.4 80.7 L264.5 80.3 L265.5 80.6 L266.8 80.6 L268.5 80.3 L269.6 80.3 L270.3 80.6 L270.6 80.8" fill="none" stroke="#222" stroke-width="0.38" stroke-opacity="1" stroke-linejoin="round"/>
<path d="M280.7 83.8 L280.8 84.0 L280.9 84.5 L281.1 85.0 L281.5 85.4 L282.4 85.4 L283.8 84.8 L284.6 83.7 L284.7 81.9 L284.6 81.5 L284.4 82.5 L284.1 83.3 L283.8 84.0 L284.2 84.5 L285.3 84.8 L285.5 85.1 L284.9 85.4 L284.0 85.4 L283.0 85.3 L282.7 86.3 L283.2 88.5 L283.2 89.4 L282.6 88.9 L282.7 89.3 L283.5 90.5 L284.1 91.1 L284.4 91.0 L284.0 90.8 L283.1 90.5 L282.8 90.9 L283.2 91.9 L283.1 92.9 L282.6 94.0 L281.8 94.1 L280.7 93.3 L279.9 92.9 L279.4 93.0 L279.2 93.0 L279.2 92.9 L279.4 93.1 L279.7 93.8 L280.2 93.8 L281.0 93.3 L281.1 93.1 L280.8 93.4 L280.5 94.1 L280.4 95.2 L281.3 95.6 L283.2 95.4 L285.0 94.8 L286.7 93.7 L287.4 93.2 L287.1 93.5 L286.9 93.5 L286.6 93.3 L285.5 93.1 L283.8 92.9 L282.7 93.1 L282.4 93.6 L282.3 94.4 L282.2 95.4 L282.1 95.9" fill="none" stroke="#222" stroke-width="0.38" stroke-opacity="1" stroke-linejoin="round"/>
<path d="M280.7 83.8 L280.8 83.2 L281.0 81.9 L281.0 81.1 L280.7 80.8 L280.1 80.6 L279.3 80.5 L279.2 80.9 L280.0 82.0 L280.5 82.2 L280.7 81.3 L281.0 81.4 L281.3 82.4 L280.5 82.7 L278.5 82.3 L278.0 81.7 L279.0 80.9 L279.2 80.7 L278.5 81.2 L277.5 80.9 L276.0 79.6 L275.0 79.2 L274.7 79.7 L273.9 80.4 L272.9 81.2 L272.1 81.8 L271.8 82.2 L272.4 82.4 L273.9 82.3 L275.2 83.1 L276.2 84.6 L276.7 85.2 L276.8 84.9 L276.5 84.9 L276.0 85.3 L276.5 84.7 L278.1 83.2 L279.2 82.6 L279.7 82.9 L279.8 83.5 L279.7 84.3 L279.7 84.8 L279.8 85.1 L278.9 85.2 L277.2 84.9 L276.9 84.5 L277.9 83.8 L278.3 83.0 L278.2 82.1 L277.6 81.7 L276.6 81.8 L276.0 81.9 L276.0 82.0 L276.4 82.0 L277.5 81.7 L277.5 81.2 L276.6 80.5 L275.6 79.4 L274.7 77.9 L274.2 77.5 L274.0 78.4 L273.9 78.8" fill="none" stroke="#222" stroke-width="0.38" stroke-opacity="1" stroke-linejoin="round"/>
<path d="M280.7 83.8 L280.9 83.6 L281.2 83.1 L281.4 83.2 L281.6 83.9 L281.4 84.0 L280.8 83.6 L279.8 83.6 L278.4 83.8 L278.1 84.4 L279.0 85.4 L279.7 86.0 L280.1 86.1 L280.6 85.9 L281.3 85.5 L281.8 84.2 L282.2 82.0 L281.9 80.3 L281.0 79.1 L281.3 78.3 L282.8 78.1 L283.9 77.4 L284.8 76.2 L285.5 75.3 L286.2 74.8 L286.4 73.8 L286.3 72.5 L286.4 71.7 L286.7 71.3 L286.3 71.9 L285.2 73.3 L284.8 73.3 L285.1 72.0 L284.6 71.5 L283.1 71.8 L282.2 72.2 L282.0 72.5 L282.4 73.1 L283.3 73.9 L285.0 74.4 L287.2 74.8 L288.6 75.1 L289.1 75.4 L289.4 75.5 L289.5 75.3 L289.4 74.8 L289.1 74.0 L288.5 73.0 L287.7 71.8 L286.9 71.8 L286.2 73.0 L285.0 73.5 L283.5 73.5 L283.0 73.9 L283.6 74.8 L284.5 75.1 L285.8 74.9 L286.2 74.7 L285.8 74.7 L285.5 74.9 L285.5 75.4 L285.5 75.6" fill="none" stroke="#222" stroke-width="0.38" stroke-opacity="1" stroke-linejoin="round"/>
<path d="M280.7 83.8 L280.7 83.9 L280.7 84.0 L280.2 83.7 L279.2 83.0 L278.5 82.8 L278.1 83.0 L278.2 83.3 L278.7 83.6 L279.0 83.6 L279.2 83.3 L279.3 83.2 L279.5 83.4 L280.1 83.6 L281.0 83.9 L280.7 83.9 L279.1 83.4 L278.4 82.9 L278.7 82.3 L278.0 82.2 L276.5 82.7 L275.2 83.0 L274.1 83.3 L273.6 83.5 L273.7 83.4 L273.5 83.6 L273.1 84.0 L272.6 84.3 L271.9 84.5 L271.2 84.4 L270.6 84.1 L270.7 84.7 L271.6 86.1 L272.3 86.4 L273.0 85.6 L273.0 85.6 L272.3 86.3 L272.2 86.3 L272.7 85.6 L272.4 86.5 L271.3 89.0 L270.6 90.4 L270.4 90.7 L270.8 90.8 L271.7 90.8 L272.0 90.4 L271.6 89.8 L271.7 89.4 L272.1 89.3 L273.5 89.1 L275.8 88.8 L276.5 89.7 L275.3 92.1 L275.1 93.5 L275.6 93.9 L275.2 94.2 L273.8 94.2 L273.0 94.2 L272.6 94.0 L272.1 93.7 L271.4 93.1 L271.1 92.8" fill="none" stroke="#222" stroke-width="0.38" stroke-opacity="1" stroke-linejoin="round"/>
<path d="M280.7 83.8 L281.8 83.5 L284.1 82.8 L285.0 82.1 L284.6 81.4 L284.2 81.3 L283.8 81.7 L283.9 81.3 L284.2 80.2 L284.5 79.3 L284.6 78.6 L284.1 78.3 L282.9 78.6 L282.1 78.8 L281.8 79.0 L281.2 79.1 L280.3 79.3 L279.8 79.1 L279.7 78.7 L280.1 78.8 L281.0 79.6 L281.8 79.7 L282.5 79.3 L283.2 78.8 L283.9 78.2 L284.2 77.7 L284.2 77.1 L285.5 76.8 L288.1 76.8 L289.9 76.5 L290.7 75.8 L291.4 75.4 L291.9 75.1 L291.7 74.7 L291.0 74.2 L290.8 73.9 L291.1 74.0 L290.9 74.3 L290.3 74.9 L289.6 75.4 L289.0 75.9 L289.1 76.3 L289.9 76.7 L290.1 76.5 L289.7 75.6 L289.3 75.8 L289.0 77.1 L289.0 77.7 L289.4 77.8 L289.8 77.8 L290.0 77.9 L289.2 77.5 L287.5 76.7 L286.7 76.1 L287.0 75.8 L286.5 75.5 L285.2 75.2 L284.7 74.2 L285.1 72.5 L285.6 72.3 L286.4 73.3 L286.7 73.8" fill="none" stroke="#222" stroke-width="0.38" stroke-opacity="1" stroke-linejoin="round"/>
<path d="M280.7 83.8 L280.8 83.6 L281.0 83.2 L280.7 83.1 L279.9 83.2 L279.5 83.4 L279.4 83.8 L279.2 84.0 L279.0 84.0 L279.2 84.0 L279.8 83.9 L280.4 84.3 L280.9 85.2 L280.3 85.5 L278.5 85.3 L277.8 86.1 L278.1 87.9 L278.1 88.4 L278.1 87.7 L277.7 86.4 L276.9 84.4 L277.2 83.2 L278.7 82.7 L279.4 82.5 L279.2 82.6 L279.1 82.9 L278.9 83.5 L279.1 83.5 L279.4 82.9 L279.6 82.0 L279.5 80.6 L278.9 80.2 L277.8 80.7 L277.5 80.5 L278.2 79.5 L277.7 78.9 L276.1 78.8 L275.2 78.2 L274.9 77.1 L275.3 76.0 L276.3 74.6 L276.2 74.8 L275.0 76.5 L273.8 77.6 L272.6 77.9 L270.9 78.3 L268.8 78.8 L268.5 79.3 L270.1 79.9 L271.5 81.0 L272.8 82.8 L273.5 83.6 L273.5 83.6 L273.6 83.7 L273.5 84.0 L273.2 83.6 L272.5 82.6 L272.6 82.3 L273.5 82.9 L273.7 83.3 L273.2 83.5 L273.0 83.5" fill="none" stroke="#222" stroke-width="0.38" stroke-opacity="1" stroke-linejoin="round"/>
<path d="M280.7 83.8 L280.7 84.2 L280.6 84.9 L280.3 85.1 L279.7 84.8 L279.3 84.8 L279.1 85.1 L278.7 84.7 L278.4 83.8 L277.2 83.4 L275.1 83.7 L274.8 83.5 L276.3 82.9 L277.8 82.7 L279.5 83.0 L281.0 83.6 L282.2 84.5 L283.9 84.6 L286.2 84.0 L287.2 84.8 L286.9 87.1 L287.2 88.2 L288.2 88.0 L288.3 87.9 L287.5 87.6 L286.8 87.9 L286.1 88.9 L285.9 89.0 L286.2 88.1 L285.8 88.4 L284.9 89.7 L284.3 90.3 L284.1 90.1 L284.4 90.9 L285.1 92.7 L285.5 94.0 L285.8 94.7 L285.9 95.0 L285.8 94.7 L285.4 93.9 L284.7 92.4 L283.8 91.7 L282.7 91.9 L282.3 93.1 L282.6 95.4 L282.8 96.3 L282.8 95.9 L281.9 95.6 L280.1 95.5 L278.7 95.8 L277.9 96.5 L276.6 96.9 L275.0 97.0 L274.0 97.0 L273.9 96.9 L272.9 97.1 L271.1 97.5 L269.6 97.0 L268.3 95.3 L267.5 94.2 L267.0 93.7 L266.7 93.4" fill="none" stroke="#222" stroke-width="0.38" stroke-opacity="1" stroke-linejoin="round"/>
<path d="M280.7 83.8 L280.6 83.6 L280.5 83.1 L280.4 83.0 L280.5 83.3 L280.6 83.5 L280.9 83.5 L280.7 83.6 L280.1 83.9 L279.8 84.1 L279.6 84.2 L280.0 84.7 L280.8 85.8 L281.2 86.5 L281.0 86.6 L280.5 86.2 L279.7 85.4 L279.2 84.7 L279.0 84.0 L279.4 84.1 L280.3 85.0 L280.5 85.8 L279.8 86.5 L279.6 87.1 L280.0 87.5 L279.7 87.7 L278.9 87.7 L278.2 87.8 L277.8 87.8 L277.7 88.2 L277.8 88.8 L278.0 88.9 L278.2 88.5 L278.4 89.3 L278.6 91.2 L279.1 92.6 L279.8 93.5 L280.9 93.7 L282.4 92.9 L283.5 92.8 L284.3 93.4 L284.7 94.5 L284.6 96.0 L285.0 96.5 L285.8 96.0 L286.3 95.7 L286.5 95.5 L286.9 96.0 L287.5 97.3 L287.4 97.7 L286.7 97.3 L286.6 98.5 L287.2 101.1 L287.8 102.1 L288.3 101.3 L288.7 100.4 L289.0 99.4 L288.9 98.9 L288.3 98.8 L287.7 98.5 L287.0 97.7 L286.7 97.3" fill="none" stroke="#222" stroke-width="0.38" stroke-opacity="1" stroke-linejoin="round"/>
<path d="M280.7 83.8 L280.4 83.8 L279.7 83.7 L279.9 83.0 L281.0 81.6 L282.6 81.2 L284.6 81.8 L285.0 82.8 L283.5 84.1 L283.3 85.1 L284.4 85.7 L285.1 86.0 L285.3 86.0 L286.5 86.4 L288.6 87.3 L289.3 88.3 L288.6 89.3 L288.1 89.6 L287.8 89.2 L288.0 89.1 L288.7 89.4 L289.3 89.4 L289.8 89.2 L290.2 90.1 L290.4 92.1 L289.9 93.1 L288.8 93.1 L288.2 93.4 L288.2 94.0 L287.4 94.1 L286.0 93.7 L285.5 94.0 L286.0 95.2 L285.6 95.7 L284.5 95.6 L283.8 96.3 L283.4 97.7 L283.6 99.2 L284.3 100.8 L284.9 101.3 L285.4 100.7 L285.6 100.9 L285.6 102.0 L285.3 102.0 L284.8 101.0 L284.1 100.0 L283.2 99.1 L282.3 98.6 L281.4 98.6 L281.3 98.7 L281.9 98.8 L281.5 98.7 L280.1 98.4 L279.9 98.0 L280.9 97.6 L281.0 97.2 L280.4 97.1 L280.3 96.7 L280.6 96.1 L280.7 95.5 L280.6 94.8 L280.5 94.4" fill="none" stroke="#222" stroke-width="0.38" stroke-opacity="1" stroke-linejoin="round"/>
<path d="M280.7 83.8 L280.9 83.8 L281.3 83.9 L281.2 83.6 L280.6 83.0 L280.0 83.5 L279.3 85.2 L279.7 85.2 L281.2 83.5 L281.8 83.5 L281.6 85.1 L281.4 86.2 L281.2 86.7 L281.2 87.7 L281.5 89.4 L281.9 90.7 L282.3 91.5 L282.7 91.8 L283.1 91.5 L284.0 91.1 L285.4 90.4 L285.9 90.0 L285.4 89.7 L285.6 90.6 L286.6 92.6 L287.3 94.1 L287.8 95.1 L288.1 95.9 L288.3 96.4 L288.0 96.5 L287.0 96.4 L286.9 96.4 L287.6 96.7 L287.9 96.8 L287.7 96.6 L287.5 96.3 L287.2 95.8 L287.9 96.0 L289.5 96.8 L290.4 98.2 L290.5 100.1 L291.1 100.5 L292.0 99.5 L292.9 98.9 L294.0 98.6 L294.6 98.0 L294.8 97.2 L294.9 97.0 L294.7 97.7 L294.9 97.8 L295.6 97.3 L295.8 96.2 L295.7 94.5 L295.5 92.8 L295.3 91.2 L294.7 89.9 L293.9 89.2 L293.6 89.6 L293.6 91.2 L293.3 92.7 L292.9 94.0 L292.7 94.7" fill="none" stroke="#222" stroke-width="0.38" stroke-opacity="1" stroke-linejoin="round"/>
<path d="M280.7 83.8 L281.0 83.5 L281.6 83.0 L281.7 83.0 L281.3 83.5 L280.4 83.0 L279.0 81.7 L278.2 81.3 L277.9 81.9 L277.4 81.7 L276.7 80.6 L276.7 80.2 L277.5 80.5 L278.3 81.0 L279.1 81.4 L279.8 81.7 L280.4 81.7 L280.2 81.5 L279.3 81.2 L278.5 81.2 L277.8 81.4 L278.2 80.6 L279.8 78.8 L281.1 77.6 L282.4 77.0 L282.1 76.1 L280.4 74.9 L279.7 74.2 L280.0 74.0 L280.5 74.1 L281.4 74.4 L281.1 74.9 L279.8 75.4 L278.8 76.0 L277.9 76.7 L277.2 77.0 L276.7 76.9 L276.4 76.6 L276.3 76.1 L276.3 76.5 L276.4 77.8 L276.6 78.8 L276.9 79.4 L277.4 79.6 L278.2 79.3 L278.2 79.2 L277.4 79.2 L276.9 78.2 L276.4 76.3 L275.9 74.9 L275.5 74.1 L274.4 73.0 L272.7 71.5 L271.7 71.5 L271.5 73.0 L271.9 73.5 L273.1 73.2 L273.6 73.6 L273.5 74.7 L273.5 74.8 L273.5 73.6 L273.6 73.1" fill="none" stroke="#222" stroke-width="0.38" stroke-opacity="1" stroke-linejoin="round"/>
<path d="M280.7 83.8 L281.0 83.6 L281.5 83.3 L281.9 83.8 L282.0 85.3 L283.0 85.7 L284.7 85.0 L286.4 84.7 L288.0 85.0 L288.7 85.2 L288.5 85.5 L288.2 86.1 L288.0 86.8 L287.2 86.8 L285.9 86.0 L285.9 84.9 L287.2 83.3 L288.2 82.8 L288.8 83.4 L289.2 83.6 L289.2 83.4 L289.6 83.6 L290.3 84.4 L290.3 85.2 L289.8 86.2 L290.0 86.4 L291.1 85.9 L292.1 85.7 L293.1 85.9 L294.1 85.3 L295.0 83.8 L296.1 83.1 L297.4 83.1 L298.7 83.7 L300.1 84.8 L300.2 85.2 L299.2 85.0 L299.0 84.7 L299.8 84.3 L299.8 84.1 L298.9 84.2 L298.2 84.5 L297.8 85.1 L298.6 85.8 L300.5 86.5 L301.6 87.1 L302.0 87.5 L301.7 87.7 L300.8 87.6 L300.0 87.1 L299.6 86.2 L299.1 86.0 L298.6 86.5 L297.4 86.7 L295.7 86.5 L295.0 87.0 L295.5 88.1 L296.2 89.0 L297.1 89.8 L297.8 90.3 L298.3 90.6 L298.6 90.7" fill="none" stroke="#222" stroke-width="0.38" stroke-opacity="1" stroke-linejoin="round"/>
<path d="M280.7 83.8 L280.6 83.5 L280.5 83.0 L280.4 82.4 L280.3 81.9 L280.5 82.4 L281.0 83.9 L282.2 83.9 L284.0 82.5 L285.3 82.1 L286.0 82.6 L286.6 83.1 L287.1 83.6 L287.7 83.4 L288.2 82.5 L288.3 82.9 L287.9 84.4 L286.9 85.6 L285.3 86.6 L284.6 87.4 L284.8 88.2 L284.3 88.4 L283.3 87.9 L283.4 87.1 L284.5 86.0 L285.4 85.7 L286.1 86.3 L286.5 85.6 L286.7 83.4 L286.5 82.8 L285.8 83.8 L285.6 85.3 L286.1 87.3 L285.8 89.0 L284.6 90.4 L283.3 90.9 L281.8 90.5 L281.6 91.6 L282.9 94.1 L283.5 95.4 L283.3 95.4 L283.0 95.7 L282.5 96.2 L282.9 95.9 L284.1 94.6 L284.6 94.5 L284.4 95.6 L284.7 96.2 L285.6 96.4 L286.1 96.1 L286.3 95.3 L286.4 94.9 L286.5 94.9 L286.4 95.6 L286.0 96.9 L285.7 97.5 L285.5 97.1 L285.2 97.0 L284.8 97.1 L284.8 97.0 L285.2 96.8 L285.4 96.8" fill="none" stroke="#222" stroke-width="0.38" stroke-opacity="1" stroke-linejoin="round"/>
<path d="M280.7 83.8 L281.4 83.6 L282.7 83.3 L283.8 82.5 L284.6 81.0 L285.5 80.8 L286.3 81.6 L287.3 82.6 L288.5 83.8 L288.4 84.8 L286.9 85.4 L285.7 84.9 L284.7 83.5 L284.3 82.6 L284.3 82.4 L284.5 82.7 L284.8 83.5 L285.0 84.6 L285.2 86.0 L284.8 86.4 L284.0 86.0 L283.7 86.5 L283.8 88.1 L284.3 88.4 L285.1 87.4 L286.0 87.0 L287.2 87.1 L288.5 87.7 L290.0 88.7 L291.5 89.5 L293.0 90.1 L293.6 89.9 L293.2 88.8 L292.7 88.2 L292.1 88.2 L291.4 88.3 L290.5 88.5 L289.8 89.3 L289.4 90.8 L289.3 91.6 L289.6 91.9 L289.7 91.6 L289.9 90.6 L289.7 90.6 L289.2 91.5 L288.9 92.4 L288.6 93.2 L288.1 94.3 L287.2 95.8 L285.9 96.2 L284.2 95.7 L283.4 95.2 L283.4 94.7 L282.8 94.2 L281.7 93.9 L281.6 94.2 L282.5 95.2 L283.2 95.7 L283.6 95.7 L283.1 95.9 L281.7 96.2 L281.1 96.4" fill="none" stroke="#222" stroke-width="0.38" stroke-opacity="1" stroke-linejoin="round"/>
<path d="M280.7 83.8 L280.4 83.8 L279.8 83.7 L280.2 83.6 L281.6 83.2 L282.8 82.2 L283.7 80.4 L283.4 79.2 L281.9 78.4 L281.4 78.1 L282.0 78.2 L281.7 77.4 L280.3 75.5 L279.6 74.3 L279.6 73.9 L279.3 73.9 L278.7 74.3 L278.1 75.0 L277.6 76.2 L276.6 77.1 L275.2 77.8 L273.8 77.7 L272.6 76.8 L271.7 76.4 L271.1 76.4 L270.8 76.7 L270.9 77.2 L271.2 77.7 L271.9 78.3 L272.6 79.2 L273.4 80.4 L274.0 80.7 L274.4 80.2 L274.4 79.0 L274.0 77.1 L274.3 76.0 L275.4 75.6 L275.8 76.4 L275.6 78.4 L275.3 78.7 L274.8 77.5 L274.5 77.2 L274.4 77.9 L274.2 78.6 L273.9 79.2 L274.0 79.5 L274.4 79.4 L273.8 79.4 L272.3 79.5 L271.3 79.6 L270.9 79.7 L270.6 79.9 L270.4 80.0 L270.1 79.7 L269.9 79.0 L269.5 77.8 L268.9 76.1 L268.1 75.3 L267.3 75.6 L267.0 76.6 L267.3 78.3 L267.4 79.2" fill="none" stroke="#222" stroke-width="0.38" stroke-opacity="1" stroke-linejoin="round"/>
<path d="M280.7 83.8 L281.0 83.8 L281.7 83.9 L281.9 83.8 L281.7 83.7 L281.4 83.5 L281.1 83.4 L281.2 83.3 L281.6 83.3 L281.6 83.2 L281.2 82.9 L281.1 82.8 L281.3 83.0 L281.8 82.6 L282.5 81.4 L283.3 81.1 L284.2 81.7 L284.9 82.3 L285.4 82.7 L286.8 82.8 L289.0 82.7 L289.8 82.7 L289.3 83.1 L289.1 84.1 L289.4 85.7 L289.3 86.6 L288.8 86.7 L288.1 86.8 L287.2 86.9 L286.9 86.3 L287.1 85.0 L287.8 84.3 L289.0 84.0 L289.9 83.9 L290.6 84.0 L291.1 84.5 L291.6 85.2 L291.3 85.7 L290.2 85.7 L289.4 86.1 L288.8 86.7 L288.8 86.5 L289.4 85.5 L289.7 85.1 L289.7 85.4 L290.1 86.1 L290.7 87.2 L291.2 87.8 L291.6 87.9 L291.8 88.6 L291.6 90.1 L291.9 91.8 L292.4 93.7 L292.8 94.4 L292.9 93.8 L293.0 93.7 L292.9 94.0 L293.1 94.9 L293.4 96.3 L293.5 97.5 L293.2 98.3 L293.1 98.7" fill="none" stroke="#222" stroke-width="0.38" stroke-opacity="1" stroke-linejoin="round"/>
<path d="M280.7 83.8 L280.9 83.8 L281.4 83.8 L281.3 83.6 L280.8 83.1 L280.8 83.3 L281.5 84.1 L281.7 85.1 L281.4 86.1 L281.6 86.7 L282.1 86.9 L282.2 87.6 L281.8 88.9 L281.8 89.6 L282.1 89.9 L282.3 89.5 L282.4 88.5 L282.0 88.1 L281.2 88.4 L280.4 88.5 L279.6 88.3 L279.1 88.3 L278.7 88.3 L278.4 87.7 L278.3 86.4 L278.3 85.7 L278.6 85.6 L278.5 85.2 L278.1 84.4 L277.3 84.5 L276.1 85.6 L275.7 86.7 L275.9 87.6 L276.0 88.0 L276.1 88.0 L276.1 89.0 L276.1 91.1 L276.5 91.9 L277.4 91.5 L278.2 91.1 L279.0 90.7 L279.4 90.5 L279.4 90.5 L279.3 90.9 L279.1 91.6 L278.7 92.1 L278.2 92.3 L277.5 91.5 L276.8 89.9 L275.6 89.1 L274.1 89.2 L273.6 89.4 L274.1 89.8 L274.3 89.5 L274.2 88.7 L273.8 88.8 L273.3 90.0 L273.0 90.1 L272.9 89.2 L272.6 88.7 L271.8 88.7 L271.4 88.6" fill="none" stroke="#222" stroke-width="0.38" stroke-opacity="1" stroke-linejoin="round"/>
<path d="M280.7 83.8 L280.8 83.9 L281.0 84.1 L280.4 84.4 L279.1 84.8 L278.2 85.0 L277.8 85.0 L277.4 84.9 L276.8 84.7 L275.5 84.0 L273.5 82.9 L272.6 83.2 L273.0 84.8 L273.2 85.3 L273.2 84.8 L273.7 84.7 L274.6 85.0 L274.7 85.0 L274.0 84.6 L274.0 84.6 L274.8 85.0 L275.7 84.8 L276.7 84.0 L277.0 83.8 L276.5 84.1 L276.4 84.3 L276.7 84.3 L276.1 84.3 L274.7 84.3 L274.9 84.1 L276.6 83.9 L277.5 83.9 L277.6 84.3 L277.9 84.0 L278.4 83.1 L278.5 82.5 L278.3 82.3 L278.0 82.3 L277.8 82.8 L278.3 83.7 L279.6 85.0 L280.4 85.2 L280.7 84.2 L280.8 83.6 L280.9 83.2 L281.2 82.7 L281.7 82.0 L282.4 81.7 L283.3 81.7 L283.7 81.5 L283.4 81.1 L283.2 80.5 L282.9 79.8 L283.1 78.5 L283.7 76.8 L283.9 75.4 L283.6 74.4 L283.8 73.6 L284.4 73.2 L284.9 73.6 L285.3 74.7 L285.5 75.2" fill="none" stroke="#222" stroke-width="0.38" stroke-opacity="1" stroke-linejoin="round"/>
<path d="M280.7 83.8 L280.4 83.7 L279.7 83.5 L279.0 83.5 L278.2 83.6 L277.7 83.9 L277.6 84.3 L278.4 84.0 L280.2 83.1 L280.9 82.4 L280.4 82.0 L280.6 82.2 L281.5 82.9 L282.5 83.3 L283.6 83.5 L285.1 84.1 L287.1 85.3 L287.3 85.7 L285.8 85.2 L284.9 85.9 L284.5 87.7 L284.3 89.3 L284.3 90.7 L284.1 91.1 L283.7 90.5 L282.9 89.9 L281.8 89.3 L281.7 88.9 L282.4 88.7 L282.6 88.5 L282.4 88.4 L282.5 88.4 L282.7 88.7 L283.5 88.3 L284.9 87.1 L286.0 86.8 L286.9 87.2 L287.2 88.0 L287.0 89.3 L287.3 90.0 L288.1 89.9 L288.8 90.1 L289.4 90.6 L289.7 90.9 L289.7 91.1 L289.2 90.7 L288.1 89.7 L288.5 89.6 L290.4 90.4 L291.9 90.5 L292.9 89.9 L293.3 89.9 L293.3 90.7 L293.3 91.5 L293.4 92.4 L293.6 92.4 L293.8 91.5 L293.8 91.3 L293.6 91.8 L293.9 91.4 L294.6 90.1 L295.0 89.4" fill="none" stroke="#222" stroke-width="0.38" stroke-opacity="1" stroke-linejoin="round"/>
<path d="M280.7 83.8 L280.3 83.9 L279.5 84.0 L279.0 84.4 L278.7 85.2 L277.8 85.5 L276.4 85.5 L275.5 86.1 L275.2 87.5 L275.6 87.3 L276.6 85.4 L277.0 84.5 L276.8 84.6 L275.8 84.5 L274.1 84.2 L273.9 84.5 L275.2 85.4 L274.6 85.5 L272.1 85.0 L271.0 84.0 L271.3 82.5 L270.9 81.2 L270.0 80.0 L269.9 80.1 L270.6 81.5 L271.2 82.0 L271.8 81.6 L272.4 82.1 L273.0 83.5 L272.8 84.2 L271.7 84.3 L271.0 84.4 L270.7 84.4 L270.0 84.0 L269.1 83.1 L268.8 82.9 L269.1 83.3 L269.8 83.4 L270.7 83.0 L271.5 82.8 L272.1 82.6 L272.1 82.9 L271.4 83.6 L271.7 83.9 L273.0 83.9 L273.8 84.3 L274.2 85.0 L274.0 85.7 L273.3 86.4 L273.2 86.5 L273.9 86.0 L273.2 85.9 L271.2 86.4 L270.6 85.9 L271.5 84.5 L271.8 84.7 L271.5 86.4 L270.6 87.9 L268.9 89.4 L267.6 90.4 L266.8 90.8 L266.4 91.0" fill="none" stroke="#222" stroke-width="0.38" stroke-opacity="1" stroke-linejoin="round"/>
<path d="M280.7 83.8 L280.5 83.6 L280.2 83.3 L280.1 82.9 L280.3 82.4 L279.7 81.8 L278.4 80.9 L277.6 80.9 L277.6 81.9 L277.2 81.8 L276.6 80.8 L276.3 80.4 L276.3 80.7 L277.1 80.7 L278.5 80.4 L279.5 79.9 L279.8 79.2 L279.9 78.9 L279.7 79.1 L279.1 78.6 L278.0 77.4 L278.2 76.9 L279.5 76.9 L279.7 76.9 L278.8 76.9 L277.8 77.2 L276.9 77.8 L276.7 78.8 L277.2 80.1 L277.3 80.7 L276.9 80.5 L276.7 80.4 L276.5 80.4 L276.5 80.6 L276.8 80.9 L276.4 81.2 L275.4 81.4 L275.3 81.7 L276.0 82.1 L275.8 82.3 L274.6 82.2 L274.7 82.4 L276.3 82.8 L277.1 82.9 L277.0 82.6 L276.9 82.9 L276.6 83.7 L276.4 83.8 L276.3 83.1 L275.7 82.6 L274.8 82.1 L274.6 81.3 L275.1 80.4 L275.1 80.9 L274.8 82.9 L274.8 83.6 L275.3 83.1 L274.8 82.6 L273.4 82.1 L272.4 82.3 L271.5 83.1 L271.1 83.6" fill="none" stroke="#222" stroke-width="0.38" stroke-opacity="1" stroke-linejoin="round"/>
<path d="M280.7 83.8 L280.0 84.3 L278.7 85.3 L278.1 86.1 L278.2 86.5 L278.2 87.1 L278.0 87.7 L277.7 88.4 L277.3 89.4 L277.4 89.2 L277.9 87.8 L278.5 86.8 L279.2 86.3 L279.0 86.8 L277.8 88.5 L278.1 88.8 L279.7 87.9 L280.6 87.6 L280.7 87.7 L280.7 87.0 L280.5 85.6 L281.3 85.0 L283.0 85.1 L283.9 85.6 L284.0 86.3 L284.3 86.7 L284.9 86.6 L285.8 86.5 L287.2 86.4 L287.6 86.6 L287.3 86.9 L286.4 86.7 L285.0 85.8 L284.6 85.7 L285.1 86.4 L285.6 87.3 L286.1 88.3 L286.6 89.1 L287.1 89.6 L287.3 90.1 L287.2 90.3 L287.1 91.0 L287.0 92.2 L287.5 93.1 L288.7 93.6 L289.5 94.0 L289.8 94.0 L289.5 93.7 L288.6 93.2 L288.0 93.1 L287.8 93.3 L288.6 93.5 L290.4 93.5 L291.6 93.6 L292.2 93.8 L292.3 94.1 L292.0 94.5 L292.3 95.3 L293.0 96.6 L293.4 97.3 L293.6 97.4 L293.6 97.5" fill="none" stroke="#222" stroke-width="0.38" stroke-opacity="1" stroke-linejoin="round"/>
<path d="M280.7 83.8 L281.1 84.2 L281.9 85.0 L282.5 86.9 L282.8 89.8 L282.6 91.2 L282.0 91.0 L281.3 91.4 L280.5 92.4 L280.2 93.2 L280.2 93.9 L280.2 93.1 L280.0 90.8 L279.8 89.4 L279.4 88.9 L279.2 88.9 L279.2 89.4 L279.8 90.0 L281.0 90.7 L282.0 90.7 L282.7 89.7 L282.8 89.9 L282.1 91.3 L281.0 91.8 L279.7 91.4 L278.6 91.6 L277.6 92.3 L277.7 93.0 L278.8 93.9 L279.7 94.3 L280.5 94.4 L281.1 94.9 L281.3 95.8 L281.5 95.3 L281.6 93.3 L281.9 91.6 L282.4 90.3 L282.9 88.8 L283.4 87.3 L283.8 86.9 L284.0 87.6 L283.2 88.1 L281.3 88.2 L281.0 87.1 L282.3 84.9 L281.5 83.6 L278.6 83.1 L276.8 82.8 L276.3 82.7 L275.2 83.2 L273.6 84.4 L272.5 85.2 L271.7 85.7 L271.4 86.2 L271.6 86.8 L271.7 86.2 L271.8 84.4 L272.0 83.5 L272.2 83.7 L272.2 83.8 L272.0 83.8 L271.9 83.8" fill="none" stroke="#222" stroke-width="0.38" stroke-opacity="1" stroke-linejoin="round"/>
<path d="M280.7 83.8 L280.7 83.4 L280.7 82.5 L281.1 82.2 L282.0 82.5 L282.5 82.5 L282.5 82.4 L283.1 82.7 L284.3 83.3 L285.2 84.0 L285.8 84.8 L286.2 85.0 L286.2 84.6 L285.6 83.5 L284.4 81.7 L283.7 80.7 L283.6 80.4 L283.7 80.6 L284.1 81.3 L283.9 81.7 L283.3 81.8 L283.4 81.6 L284.4 81.1 L284.4 81.4 L283.4 82.4 L283.4 82.9 L284.3 82.9 L284.0 82.6 L282.5 82.2 L282.1 81.8 L282.7 81.4 L283.6 82.5 L284.7 84.9 L284.4 86.5 L282.6 87.2 L283.2 86.9 L286.4 85.4 L287.4 84.9 L286.3 85.2 L285.6 86.0 L285.5 87.4 L286.0 87.9 L287.2 87.7 L288.1 87.8 L288.7 88.4 L289.3 88.7 L290.0 88.8 L290.1 88.8 L289.6 88.8 L290.0 88.4 L291.3 87.8 L291.7 88.2 L291.2 89.8 L290.9 90.6 L290.7 90.6 L290.5 91.4 L290.3 92.9 L290.2 93.3 L290.1 92.6 L289.8 92.2 L289.3 92.1 L289.0 92.0" fill="none" stroke="#222" stroke-width="0.38" stroke-opacity="1" stroke-linejoin="round"/>
<path d="M280.7 83.8 L280.7 84.0 L280.6 84.3 L280.6 83.5 L280.9 81.7 L281.7 80.8 L282.9 80.7 L283.2 81.2 L282.4 82.1 L281.4 82.8 L280.2 83.3 L279.5 83.7 L279.2 84.0 L279.3 84.0 L279.9 83.6 L280.1 83.2 L279.8 82.8 L279.8 82.8 L280.1 83.3 L280.3 83.3 L280.6 82.8 L280.5 82.8 L280.1 83.3 L279.6 83.5 L279.0 83.4 L279.1 84.0 L280.1 85.2 L280.3 86.5 L279.7 87.8 L279.1 88.7 L278.3 89.3 L278.5 90.5 L279.6 92.5 L280.1 93.9 L279.9 94.8 L280.1 94.9 L280.6 94.2 L280.9 94.3 L281.2 95.3 L281.2 96.4 L280.9 97.7 L281.3 98.2 L282.4 97.9 L283.2 97.7 L283.8 97.7 L284.2 97.1 L284.6 96.1 L284.8 95.7 L284.8 95.9 L285.0 96.0 L285.3 96.0 L285.5 96.1 L285.5 96.0 L285.7 96.1 L286.3 96.3 L286.4 96.7 L286.2 97.3 L285.8 97.8 L285.2 98.2 L284.7 98.6 L284.4 99.2 L284.3 99.5" fill="none" stroke="#222" stroke-width="0.38" stroke-opacity="1" stroke-linejoin="round"/>
<path d="M280.7 83.8 L280.0 83.5 L278.5 82.9 L277.8 82.9 L278.0 83.6 L278.4 83.6 L279.0 82.9 L279.1 82.3 L278.8 81.8 L278.9 82.4 L279.5 84.0 L279.9 84.2 L280.1 82.9 L280.7 83.0 L281.8 84.4 L281.8 85.7 L280.7 86.9 L279.8 86.9 L279.2 85.9 L278.5 85.4 L277.7 85.6 L277.3 85.7 L277.2 85.6 L277.1 85.3 L277.1 84.8 L276.5 84.7 L275.5 85.0 L275.0 84.6 L275.0 83.5 L275.3 84.0 L275.9 86.0 L276.1 86.8 L276.0 86.3 L276.1 86.1 L276.4 86.2 L275.5 86.3 L273.6 86.4 L272.8 87.4 L273.1 89.2 L273.7 90.0 L274.6 89.8 L275.1 89.3 L275.4 88.4 L275.7 87.5 L275.9 86.5 L275.6 87.0 L274.6 88.9 L274.9 90.4 L276.5 91.6 L277.6 92.1 L278.1 91.8 L278.2 92.2 L277.9 93.2 L277.7 94.1 L277.6 95.0 L277.0 95.5 L275.7 95.6 L275.0 95.2 L275.0 94.3 L274.3 93.9 L273.0 93.8 L272.3 93.8" fill="none" stroke="#222" stroke-width="0.38" stroke-opacity="1" stroke-linejoin="round"/>
<path d="M280.7 83.8 L281.2 83.8 L282.3 83.9 L282.9 84.5 L283.1 85.5 L282.2 86.7 L280.4 88.1 L279.2 89.3 L278.6 90.1 L278.4 91.2 L278.6 92.4 L279.1 92.7 L279.9 92.1 L280.5 92.5 L280.9 93.9 L282.1 94.5 L284.0 94.4 L284.5 94.2 L283.8 93.9 L283.5 94.4 L283.6 95.7 L282.9 96.4 L281.6 96.4 L280.8 96.3 L280.7 96.0 L280.0 96.1 L278.8 96.9 L279.2 97.2 L281.1 97.1 L281.7 96.8 L280.8 96.2 L279.7 95.5 L278.3 94.8 L277.1 93.9 L276.0 92.8 L274.9 92.6 L273.7 93.1 L272.6 93.0 L271.7 92.3 L270.8 92.5 L270.0 93.6 L270.2 94.0 L271.6 93.7 L272.1 93.9 L271.8 94.6 L271.4 94.7 L270.9 94.2 L270.6 94.0 L270.6 94.1 L270.7 94.1 L270.9 93.8 L270.9 93.1 L270.6 91.9 L270.5 91.9 L270.4 93.0 L270.6 93.6 L270.9 93.7 L270.6 93.7 L269.7 93.6 L269.0 93.6 L268.6 93.6 L268.3 93.6" fill="none" stroke="#222" stroke-width="0.38" stroke-opacity="1" stroke-linejoin="round"/>
<path d="M280.7 83.8 L280.7 83.4 L280.6 82.7 L279.9 82.4 L278.5 82.4 L277.3 83.1 L276.3 84.4 L275.7 84.6 L275.5 83.8 L275.5 83.6 L275.8 84.3 L276.0 84.2 L276.2 83.5 L276.1 82.7 L275.7 81.8 L274.9 81.8 L273.7 82.6 L273.0 82.7 L272.8 82.1 L273.3 81.4 L274.5 80.7 L274.5 80.4 L273.4 80.4 L273.0 79.4 L273.3 77.3 L273.4 76.3 L273.3 76.4 L273.7 76.8 L274.4 77.5 L274.7 78.0 L274.6 78.3 L274.7 79.1 L274.9 80.3 L275.1 80.5 L275.2 79.9 L274.8 79.6 L273.9 79.5 L273.5 80.0 L273.8 81.1 L274.1 80.8 L274.4 79.1 L274.3 77.8 L273.9 76.9 L273.3 77.2 L272.6 78.8 L271.5 79.0 L269.9 78.1 L269.5 77.2 L270.5 76.3 L271.2 75.9 L271.8 75.8 L272.3 76.2 L272.6 77.0 L272.6 77.3 L272.5 77.0 L272.7 76.8 L273.2 76.8 L274.9 76.6 L277.6 76.3 L279.6 75.9 L280.7 75.6 L281.2 75.5" fill="none" stroke="#222" stroke-width="0.38" stroke-opacity="1" stroke-linejoin="round"/>
<path d="M292.0 84.0 L293.0 83.5 L295.0 82.5 L297.2 81.5 L299.8 80.5 L301.8 79.2 L303.2 77.8 L304.5 77.1 L305.5 77.4 L306.5 77.0 L307.5 76.0 L309.0 74.9 L311.0 73.6 L313.0 72.9 L315.0 72.6 L317.0 73.0 L319.0 74.0 L321.0 73.9 L323.0 72.6 L324.6 71.5 L325.9 70.5 L326.8 70.8 L327.2 72.2 L327.4 73.9 L327.1 75.6 L327.2 77.1 L327.8 78.4 L327.2 79.2 L325.8 79.8 L323.8 79.8 L321.2 79.2 L319.0 78.9 L317.0 78.6 L315.0 78.2 L313.0 77.8 L311.0 77.6 L309.0 77.9 L307.2 78.6 L305.8 79.9 L304.2 81.1 L302.8 82.4 L301.0 83.5 L299.0 84.5 L298.0 85.0" fill="none" stroke="#333" stroke-width="0.5" stroke-opacity="1" stroke-linejoin="round"/>
<path d="M324.1 68.0 L326.5 70.0" fill="none" stroke="#333" stroke-width="0.5" stroke-opacity="1" stroke-linejoin="round"/>
<path d="M259.2 103.7 L259.6 103.0 L260.6 101.7 L261.5 100.6 L262.5 99.9 L263.2 98.9 L263.8 97.6 L264.5 96.8 L265.5 96.2 L266.5 95.5 L267.5 94.5 L268.5 93.9 L269.5 93.6 L270.5 92.9 L271.5 91.6 L273.0 90.2 L275.0 88.8 L276.0 88.0" fill="none" stroke="#333" stroke-width="0.5" stroke-opacity="1" stroke-linejoin="round"/>
<path d="M267.8 110.3 L267.2 109.7 L266.1 108.6 L265.6 107.2 L265.9 105.8 L266.6 104.8 L267.9 104.2 L269.1 103.9 L270.4 103.6 L271.2 102.9 L271.8 101.6 L272.5 100.8 L273.5 100.2 L274.5 99.2 L275.5 97.8 L276.5 96.2 L277.5 94.8 L278.2 93.0 L278.8 91.0 L279.0 90.0" fill="none" stroke="#333" stroke-width="0.5" stroke-opacity="1" stroke-linejoin="round"/>
<path d="M271.2 64.4 L270.6 64.8 L269.6 65.6 L268.2 66.2 L266.8 66.8 L265.5 67.5 L264.5 68.5 L264.2 69.5 L264.8 70.5 L265.8 71.2 L267.2 71.8 L268.5 72.5 L269.5 73.5 L270.8 74.5 L272.2 75.5 L273.8 77.0 L275.2 79.0 L276.0 80.0" fill="none" stroke="#333" stroke-width="0.5" stroke-opacity="1" stroke-linejoin="round"/>
<path d="M304.2 65.4 L303.6 65.8 L302.6 66.6 L301.4 67.3 L300.0 68.1 L298.5 68.8 L296.9 69.6 L295.2 70.5 L293.8 71.5 L292.2 72.8 L290.8 74.2 L289.2 75.8 L287.8 77.2 L286.2 78.8 L284.8 80.2 L284.0 81.0" fill="none" stroke="#333" stroke-width="0.5" stroke-opacity="1" stroke-linejoin="round"/>
<circle cx="271.2" cy="64.4" r="1.2" fill="#a00a14" stroke="#5a0008" stroke-width="0.4"/>
<circle cx="274.1" cy="72.0" r="1.2" fill="#a00a14" stroke="#5a0008" stroke-width="0.4"/>
<circle cx="277.5" cy="71.0" r="1.2" fill="#a00a14" stroke="#5a0008" stroke-width="0.4"/>
<circle cx="279.5" cy="71.4" r="1.2" fill="#a00a14" stroke="#5a0008" stroke-width="0.4"/>
<circle cx="283.7" cy="73.2" r="1.2" fill="#a00a14" stroke="#5a0008" stroke-width="0.4"/>
<circle cx="289.1" cy="71.6" r="1.2" fill="#a00a14" stroke="#5a0008" stroke-width="0.4"/>
<circle cx="294.5" cy="69.6" r="1.2" fill="#a00a14" stroke="#5a0008" stroke-width="0.4"/>
<circle cx="298.7" cy="68.6" r="1.2" fill="#a00a14" stroke="#5a0008" stroke-width="0.4"/>
<circle cx="304.2" cy="65.4" r="1.2" fill="#a00a14" stroke="#5a0008" stroke-width="0.4"/>
<circle cx="299.4" cy="68.4" r="1.2" fill="#a00a14" stroke="#5a0008" stroke-width="0.4"/>
<circle cx="324.1" cy="68.0" r="1.2" fill="#a00a14" stroke="#5a0008" stroke-width="0.4"/>
<circle cx="267.0" cy="76.2" r="1.2" fill="#a00a14" stroke="#5a0008" stroke-width="0.4"/>
<circle cx="269.1" cy="77.4" r="1.2" fill="#a00a14" stroke="#5a0008" stroke-width="0.4"/>
<circle cx="266.0" cy="78.5" r="1.2" fill="#a00a14" stroke="#5a0008" stroke-width="0.4"/>
<circle cx="267.6" cy="82.1" r="1.2" fill="#a00a14" stroke="#5a0008" stroke-width="0.4"/>
<circle cx="267.9" cy="85.7" r="1.2" fill="#a00a14" stroke="#5a0008" stroke-width="0.4"/>
<circle cx="273.0" cy="76.2" r="1.2" fill="#a00a14" stroke="#5a0008" stroke-width="0.4"/>
<circle cx="276.5" cy="79.7" r="1.2" fill="#a00a14" stroke="#5a0008" stroke-width="0.4"/>
<circle cx="277.7" cy="81.0" r="1.2" fill="#a00a14" stroke="#5a0008" stroke-width="0.4"/>
<circle cx="280.7" cy="78.0" r="1.2" fill="#a00a14" stroke="#5a0008" stroke-width="0.4"/>
<circle cx="284.3" cy="81.0" r="1.2" fill="#a00a14" stroke="#5a0008" stroke-width="0.4"/>
<circle cx="288.5" cy="78.0" r="1.2" fill="#a00a14" stroke="#5a0008" stroke-width="0.4"/>
<circle cx="273.5" cy="86.9" r="1.2" fill="#a00a14" stroke="#5a0008" stroke-width="0.4"/>
<circle cx="276.5" cy="87.5" r="1.2" fill="#a00a14" stroke="#5a0008" stroke-width="0.4"/>
<circle cx="274.7" cy="89.9" r="1.2" fill="#a00a14" stroke="#5a0008" stroke-width="0.4"/>
<circle cx="281.3" cy="90.5" r="1.2" fill="#a00a14" stroke="#5a0008" stroke-width="0.4"/>
<circle cx="287.3" cy="91.4" r="1.2" fill="#a00a14" stroke="#5a0008" stroke-width="0.4"/>
<circle cx="290.9" cy="92.3" r="1.2" fill="#a00a14" stroke="#5a0008" stroke-width="0.4"/>
<circle cx="296.3" cy="88.7" r="1.2" fill="#a00a14" stroke="#5a0008" stroke-width="0.4"/>
<circle cx="279.5" cy="95.3" r="1.2" fill="#a00a14" stroke="#5a0008" stroke-width="0.4"/>
<circle cx="286.7" cy="94.7" r="1.2" fill="#a00a14" stroke="#5a0008" stroke-width="0.4"/>
<circle cx="268.8" cy="95.0" r="1.2" fill="#a00a14" stroke="#5a0008" stroke-width="0.4"/>
<circle cx="259.2" cy="103.7" r="1.2" fill="#a00a14" stroke="#5a0008" stroke-width="0.4"/>
<circle cx="267.8" cy="110.3" r="1.2" fill="#a00a14" stroke="#5a0008" stroke-width="0.4"/>
<circle cx="282.5" cy="100.1" r="1.2" fill="#a00a14" stroke="#5a0008" stroke-width="0.4"/>
<circle cx="299.0" cy="80.3" r="1.2" fill="#a00a14" stroke="#5a0008" stroke-width="0.4"/>
<circle cx="300.2" cy="79.5" r="1.2" fill="#a00a14" stroke="#5a0008" stroke-width="0.4"/>
<circle cx="279.0" cy="84.0" r="1.2" fill="#a00a14" stroke="#5a0008" stroke-width="0.4"/>
<circle cx="284.3" cy="86.3" r="1.2" fill="#a00a14" stroke="#5a0008" stroke-width="0.4"/>
<circle cx="283.7" cy="90.4" r="1.2" fill="#a00a14" stroke="#5a0008" stroke-width="0.4"/>
<circle cx="274.5" cy="77.5" r="1.2" fill="#a00a14" stroke="#5a0008" stroke-width="0.4"/>
<circle cx="281.2" cy="92.2" r="1.2" fill="#a00a14" stroke="#5a0008" stroke-width="0.4"/>
<circle cx="281.8" cy="75.9" r="1.2" fill="#a00a14" stroke="#5a0008" stroke-width="0.4"/>
<circle cx="274.6" cy="82.7" r="1.2" fill="#a00a14" stroke="#5a0008" stroke-width="0.4"/>
<circle cx="285.3" cy="82.9" r="1.2" fill="#a00a14" stroke="#5a0008" stroke-width="0.4"/>
<circle cx="277.3" cy="81.7" r="1.2" fill="#a00a14" stroke="#5a0008" stroke-width="0.4"/>
<circle cx="280.4" cy="78.4" r="1.2" fill="#a00a14" stroke="#5a0008" stroke-width="0.4"/>
<circle cx="279.4" cy="84.4" r="1.2" fill="#a00a14" stroke="#5a0008" stroke-width="0.4"/>
<circle cx="288.4" cy="82.7" r="1.2" fill="#a00a14" stroke="#5a0008" stroke-width="0.4"/>
<path d="M223.3 26.3 H338.6 V146.4 H223.3 Z" fill="none" stroke="#000" stroke-width="1.3"/>
<line x1="221.70" y1="30.58" x2="223.30" y2="30.58" stroke="#000" stroke-width="0.9"/>
<line x1="220.30" y1="35.60" x2="223.30" y2="35.60" stroke="#000" stroke-width="0.9"/>
<line x1="221.70" y1="40.62" x2="223.30" y2="40.62" stroke="#000" stroke-width="0.9"/>
<line x1="221.70" y1="45.64" x2="223.30" y2="45.64" stroke="#000" stroke-width="0.9"/>
<line x1="221.70" y1="50.66" x2="223.30" y2="50.66" stroke="#000" stroke-width="0.9"/>
<line x1="221.70" y1="55.68" x2="223.30" y2="55.68" stroke="#000" stroke-width="0.9"/>
<line x1="220.30" y1="60.70" x2="223.30" y2="60.70" stroke="#000" stroke-width="0.9"/>
<line x1="221.70" y1="65.72" x2="223.30" y2="65.72" stroke="#000" stroke-width="0.9"/>
<line x1="221.70" y1="70.74" x2="223.30" y2="70.74" stroke="#000" stroke-width="0.9"/>
<line x1="221.70" y1="75.76" x2="223.30" y2="75.76" stroke="#000" stroke-width="0.9"/>
<line x1="221.70" y1="80.78" x2="223.30" y2="80.78" stroke="#000" stroke-width="0.9"/>
<line x1="220.30" y1="85.80" x2="223.30" y2="85.80" stroke="#000" stroke-width="0.9"/>
<line x1="221.70" y1="90.82" x2="223.30" y2="90.82" stroke="#000" stroke-width="0.9"/>
<line x1="221.70" y1="95.84" x2="223.30" y2="95.84" stroke="#000" stroke-width="0.9"/>
<line x1="221.70" y1="100.86" x2="223.30" y2="100.86" stroke="#000" stroke-width="0.9"/>
<line x1="221.70" y1="105.88" x2="223.30" y2="105.88" stroke="#000" stroke-width="0.9"/>
<line x1="220.30" y1="110.90" x2="223.30" y2="110.90" stroke="#000" stroke-width="0.9"/>
<line x1="221.70" y1="115.92" x2="223.30" y2="115.92" stroke="#000" stroke-width="0.9"/>
<line x1="221.70" y1="120.94" x2="223.30" y2="120.94" stroke="#000" stroke-width="0.9"/>
<line x1="221.70" y1="125.96" x2="223.30" y2="125.96" stroke="#000" stroke-width="0.9"/>
<line x1="221.70" y1="130.98" x2="223.30" y2="130.98" stroke="#000" stroke-width="0.9"/>
<line x1="220.30" y1="136.00" x2="223.30" y2="136.00" stroke="#000" stroke-width="0.9"/>
<line x1="221.70" y1="141.02" x2="223.30" y2="141.02" stroke="#000" stroke-width="0.9"/>
<line x1="227.13" y1="146.40" x2="227.13" y2="148.00" stroke="#000" stroke-width="0.9"/>
<line x1="232.00" y1="146.40" x2="232.00" y2="149.40" stroke="#000" stroke-width="0.9"/>
<line x1="236.87" y1="146.40" x2="236.87" y2="148.00" stroke="#000" stroke-width="0.9"/>
<line x1="241.74" y1="146.40" x2="241.74" y2="148.00" stroke="#000" stroke-width="0.9"/>
<line x1="246.61" y1="146.40" x2="246.61" y2="148.00" stroke="#000" stroke-width="0.9"/>
<line x1="251.48" y1="146.40" x2="251.48" y2="148.00" stroke="#000" stroke-width="0.9"/>
<line x1="256.35" y1="146.40" x2="256.35" y2="149.40" stroke="#000" stroke-width="0.9"/>
<line x1="261.22" y1="146.40" x2="261.22" y2="148.00" stroke="#000" stroke-width="0.9"/>
<line x1="266.09" y1="146.40" x2="266.09" y2="148.00" stroke="#000" stroke-width="0.9"/>
<line x1="270.96" y1="146.40" x2="270.96" y2="148.00" stroke="#000" stroke-width="0.9"/>
<line x1="275.83" y1="146.40" x2="275.83" y2="148.00" stroke="#000" stroke-width="0.9"/>
<line x1="280.70" y1="146.40" x2="280.70" y2="149.40" stroke="#000" stroke-width="0.9"/>
<line x1="285.57" y1="146.40" x2="285.57" y2="148.00" stroke="#000" stroke-width="0.9"/>
<line x1="290.44" y1="146.40" x2="290.44" y2="148.00" stroke="#000" stroke-width="0.9"/>
<line x1="295.31" y1="146.40" x2="295.31" y2="148.00" stroke="#000" stroke-width="0.9"/>
<line x1="300.18" y1="146.40" x2="300.18" y2="148.00" stroke="#000" stroke-width="0.9"/>
<line x1="305.05" y1="146.40" x2="305.05" y2="149.40" stroke="#000" stroke-width="0.9"/>
<line x1="309.92" y1="146.40" x2="309.92" y2="148.00" stroke="#000" stroke-width="0.9"/>
<line x1="314.79" y1="146.40" x2="314.79" y2="148.00" stroke="#000" stroke-width="0.9"/>
<line x1="319.66" y1="146.40" x2="319.66" y2="148.00" stroke="#000" stroke-width="0.9"/>
<line x1="324.53" y1="146.40" x2="324.53" y2="148.00" stroke="#000" stroke-width="0.9"/>
<line x1="329.40" y1="146.40" x2="329.40" y2="149.40" stroke="#000" stroke-width="0.9"/>
<line x1="334.27" y1="146.40" x2="334.27" y2="148.00" stroke="#000" stroke-width="0.9"/>
<text x="216.5" y="38.3" font-size="7.8" text-anchor="end" fill="#000" stroke="#000" stroke-width="0.16" textLength="13.01" lengthAdjust="spacingAndGlyphs">200</text>
<text x="216.5" y="63.8" font-size="7.8" text-anchor="end" fill="#000" stroke="#000" stroke-width="0.16" textLength="13.01" lengthAdjust="spacingAndGlyphs">100</text>
<text x="216.5" y="88.8" font-size="7.8" text-anchor="end" fill="#000" stroke="#000" stroke-width="0.16" textLength="4.34" lengthAdjust="spacingAndGlyphs">0</text>
<text x="216.5" y="114.0" font-size="7.8" text-anchor="end" fill="#000" stroke="#000" stroke-width="0.16" textLength="15.61" lengthAdjust="spacingAndGlyphs">-100</text>
<text x="216.5" y="139.4" font-size="7.8" text-anchor="end" fill="#000" stroke="#000" stroke-width="0.16" textLength="15.61" lengthAdjust="spacingAndGlyphs">-200</text>
<text x="231.9" y="160.7" font-size="7.8" text-anchor="middle" fill="#000" stroke="#000" stroke-width="0.16" textLength="15.61" lengthAdjust="spacingAndGlyphs">-200</text>
<text x="256.3" y="160.7" font-size="7.8" text-anchor="middle" fill="#000" stroke="#000" stroke-width="0.16" textLength="15.61" lengthAdjust="spacingAndGlyphs">-100</text>
<text x="280.5" y="160.7" font-size="7.8" text-anchor="middle" fill="#000" stroke="#000" stroke-width="0.16" textLength="4.34" lengthAdjust="spacingAndGlyphs">0</text>
<text x="304.8" y="160.7" font-size="7.8" text-anchor="middle" fill="#000" stroke="#000" stroke-width="0.16" textLength="13.01" lengthAdjust="spacingAndGlyphs">100</text>
<text x="329.6" y="160.7" font-size="7.8" text-anchor="middle" fill="#000" stroke="#000" stroke-width="0.16" textLength="13.01" lengthAdjust="spacingAndGlyphs">200</text>
<text x="280.6" y="174.6" font-size="9.6" text-anchor="middle" fill="#000" stroke="#000" stroke-width="0.16" textLength="46" lengthAdjust="spacingAndGlyphs">x axis (µm)</text>
<text transform="translate(189.8 83.1) rotate(-90)" font-size="9.6" text-anchor="middle" fill="#000" stroke="#000" stroke-width="0.16" textLength="45.8" lengthAdjust="spacingAndGlyphs">y axis (µm)</text>
<text x="280.9" y="20.9" font-size="9.9" text-anchor="middle" fill="#000" stroke="#000" stroke-width="0.16" textLength="45.8" lengthAdjust="spacingAndGlyphs">shDNM2-3</text>
<text x="395.6" y="30.0" font-size="8.1" text-anchor="start" fill="#000" stroke="#000" stroke-width="0.16" textLength="47.8" lengthAdjust="spacingAndGlyphs">Directionality</text>
<text x="446.0" y="30.6" font-size="8.1" text-anchor="start" fill="#000" stroke="#000" stroke-width="0.16" textLength="4.8" lengthAdjust="spacingAndGlyphs">=</text>
<text x="455.6" y="21.6" font-size="7.8" text-anchor="start" fill="#000" stroke="#000" stroke-width="0.16" textLength="49.0" lengthAdjust="spacingAndGlyphs">Displacement</text>
<line x1="454.60" y1="27.60" x2="506.00" y2="27.60" stroke="#000" stroke-width="0.9"/>
<text x="459.7" y="37.1" font-size="7.8" text-anchor="start" fill="#000" stroke="#000" stroke-width="0.16" textLength="41.2" lengthAdjust="spacingAndGlyphs">Path length</text>
<text x="467.5" y="58.1" font-size="8.2" text-anchor="start" fill="#000" stroke="#000" stroke-width="0.16" textLength="28.2" lengthAdjust="spacingAndGlyphs">P &lt; .005</text>
<text transform="translate(364.4 93.2) rotate(-90)" font-size="9.3" text-anchor="middle" fill="#000" stroke="#000" stroke-width="0.16" textLength="59.0" lengthAdjust="spacingAndGlyphs">Directionality</text>
<line x1="385.60" y1="146.50" x2="389.00" y2="146.50" stroke="#000" stroke-width="1.0"/>
<line x1="387.60" y1="138.20" x2="389.00" y2="138.20" stroke="#000" stroke-width="1.0"/>
<line x1="385.60" y1="129.90" x2="389.00" y2="129.90" stroke="#000" stroke-width="1.0"/>
<line x1="387.60" y1="121.60" x2="389.00" y2="121.60" stroke="#000" stroke-width="1.0"/>
<line x1="385.60" y1="113.30" x2="389.00" y2="113.30" stroke="#000" stroke-width="1.0"/>
<line x1="387.60" y1="105.00" x2="389.00" y2="105.00" stroke="#000" stroke-width="1.0"/>
<line x1="385.60" y1="96.70" x2="389.00" y2="96.70" stroke="#000" stroke-width="1.0"/>
<line x1="387.60" y1="88.40" x2="389.00" y2="88.40" stroke="#000" stroke-width="1.0"/>
<line x1="385.60" y1="80.10" x2="389.00" y2="80.10" stroke="#000" stroke-width="1.0"/>
<line x1="387.60" y1="71.80" x2="389.00" y2="71.80" stroke="#000" stroke-width="1.0"/>
<line x1="385.60" y1="63.50" x2="389.00" y2="63.50" stroke="#000" stroke-width="1.0"/>
<line x1="387.60" y1="55.20" x2="389.00" y2="55.20" stroke="#000" stroke-width="1.0"/>
<line x1="385.60" y1="46.90" x2="389.00" y2="46.90" stroke="#000" stroke-width="1.0"/>
<text x="382.5" y="149.3" font-size="7.9" text-anchor="end" fill="#000" stroke="#000" stroke-width="0.16" textLength="10.6" lengthAdjust="spacingAndGlyphs">0.0</text>
<text x="382.5" y="132.70000000000002" font-size="7.9" text-anchor="end" fill="#000" stroke="#000" stroke-width="0.16" textLength="10.6" lengthAdjust="spacingAndGlyphs">0.2</text>
<text x="382.5" y="116.1" font-size="7.9" text-anchor="end" fill="#000" stroke="#000" stroke-width="0.16" textLength="10.6" lengthAdjust="spacingAndGlyphs">0.4</text>
<text x="382.5" y="99.49999999999999" font-size="7.9" text-anchor="end" fill="#000" stroke="#000" stroke-width="0.16" textLength="10.6" lengthAdjust="spacingAndGlyphs">0.6</text>
<text x="382.5" y="82.89999999999999" font-size="7.9" text-anchor="end" fill="#000" stroke="#000" stroke-width="0.16" textLength="10.6" lengthAdjust="spacingAndGlyphs">0.8</text>
<text x="382.5" y="66.3" font-size="7.9" text-anchor="end" fill="#000" stroke="#000" stroke-width="0.16" textLength="10.6" lengthAdjust="spacingAndGlyphs">1.0</text>
<text x="382.5" y="49.69999999999999" font-size="7.9" text-anchor="end" fill="#000" stroke="#000" stroke-width="0.16" textLength="10.6" lengthAdjust="spacingAndGlyphs">1.2</text>
<circle cx="415.8" cy="68.3" r="1.15" fill="#1d3578"/>
<circle cx="420.1" cy="67.2" r="1.15" fill="#1d3578"/>
<circle cx="424.1" cy="67.7" r="1.15" fill="#1d3578"/>
<circle cx="411.8" cy="71.2" r="1.15" fill="#1d3578"/>
<circle cx="407.8" cy="74.0" r="1.15" fill="#1d3578"/>
<circle cx="411.8" cy="74.0" r="1.15" fill="#1d3578"/>
<circle cx="428.0" cy="72.0" r="1.15" fill="#1d3578"/>
<circle cx="436.4" cy="74.7" r="1.15" fill="#1d3578"/>
<circle cx="403.8" cy="79.1" r="1.15" fill="#1d3578"/>
<circle cx="416.1" cy="78.3" r="1.15" fill="#1d3578"/>
<circle cx="424.0" cy="79.5" r="1.15" fill="#1d3578"/>
<circle cx="428.0" cy="79.5" r="1.15" fill="#1d3578"/>
<circle cx="432.0" cy="80.0" r="1.15" fill="#1d3578"/>
<circle cx="407.8" cy="82.3" r="1.15" fill="#1d3578"/>
<circle cx="436.4" cy="84.0" r="1.15" fill="#1d3578"/>
<circle cx="411.8" cy="85.5" r="1.15" fill="#1d3578"/>
<circle cx="403.8" cy="88.4" r="1.15" fill="#1d3578"/>
<circle cx="424.0" cy="88.0" r="1.15" fill="#1d3578"/>
<circle cx="428.0" cy="87.0" r="1.15" fill="#1d3578"/>
<circle cx="420.0" cy="89.8" r="1.15" fill="#1d3578"/>
<circle cx="416.0" cy="92.7" r="1.15" fill="#1d3578"/>
<circle cx="424.0" cy="95.0" r="1.15" fill="#1d3578"/>
<circle cx="409.7" cy="98.0" r="1.15" fill="#1d3578"/>
<circle cx="413.7" cy="98.3" r="1.15" fill="#1d3578"/>
<circle cx="418.0" cy="98.6" r="1.15" fill="#1d3578"/>
<circle cx="426.0" cy="101.0" r="1.15" fill="#1d3578"/>
<circle cx="430.0" cy="102.3" r="1.15" fill="#1d3578"/>
<circle cx="422.5" cy="105.0" r="1.15" fill="#1d3578"/>
<circle cx="420.0" cy="107.0" r="1.15" fill="#1d3578"/>
<circle cx="403.8" cy="106.3" r="1.15" fill="#1d3578"/>
<circle cx="407.8" cy="108.3" r="1.15" fill="#1d3578"/>
<circle cx="411.6" cy="109.7" r="1.15" fill="#1d3578"/>
<circle cx="416.0" cy="111.5" r="1.15" fill="#1d3578"/>
<circle cx="420.3" cy="110.4" r="1.15" fill="#1d3578"/>
<circle cx="424.3" cy="110.1" r="1.15" fill="#1d3578"/>
<circle cx="428.0" cy="112.8" r="1.15" fill="#1d3578"/>
<circle cx="432.1" cy="112.1" r="1.15" fill="#1d3578"/>
<circle cx="436.1" cy="111.7" r="1.15" fill="#1d3578"/>
<circle cx="420.3" cy="114.7" r="1.15" fill="#1d3578"/>
<circle cx="416.0" cy="116.8" r="1.15" fill="#1d3578"/>
<circle cx="424.3" cy="119.8" r="1.15" fill="#1d3578"/>
<circle cx="422.0" cy="121.8" r="1.15" fill="#1d3578"/>
<circle cx="401.4" cy="122.5" r="1.15" fill="#1d3578"/>
<circle cx="442.6" cy="121.8" r="1.15" fill="#1d3578"/>
<circle cx="397.4" cy="127.2" r="1.15" fill="#1d3578"/>
<circle cx="409.6" cy="127.6" r="1.15" fill="#1d3578"/>
<circle cx="413.7" cy="124.2" r="1.15" fill="#1d3578"/>
<circle cx="418.0" cy="124.2" r="1.15" fill="#1d3578"/>
<circle cx="430.4" cy="125.9" r="1.15" fill="#1d3578"/>
<circle cx="438.6" cy="125.6" r="1.15" fill="#1d3578"/>
<circle cx="434.4" cy="128.8" r="1.15" fill="#1d3578"/>
<circle cx="405.5" cy="129.6" r="1.15" fill="#1d3578"/>
<circle cx="409.6" cy="131.0" r="1.15" fill="#1d3578"/>
<circle cx="422.0" cy="130.2" r="1.15" fill="#1d3578"/>
<circle cx="426.0" cy="129.2" r="1.15" fill="#1d3578"/>
<circle cx="405.5" cy="133.7" r="1.15" fill="#1d3578"/>
<circle cx="430.4" cy="133.3" r="1.15" fill="#1d3578"/>
<circle cx="434.4" cy="134.0" r="1.15" fill="#1d3578"/>
<circle cx="413.7" cy="137.0" r="1.15" fill="#1d3578"/>
<circle cx="418.0" cy="136.0" r="1.15" fill="#1d3578"/>
<circle cx="426.0" cy="137.3" r="1.15" fill="#1d3578"/>
<circle cx="416.0" cy="139.7" r="1.15" fill="#1d3578"/>
<circle cx="428.3" cy="139.7" r="1.15" fill="#1d3578"/>
<circle cx="424.0" cy="141.0" r="1.15" fill="#1d3578"/>
<circle cx="407.6" cy="141.6" r="1.15" fill="#1d3578"/>
<circle cx="411.6" cy="143.0" r="1.15" fill="#1d3578"/>
<circle cx="420.3" cy="143.1" r="1.15" fill="#1d3578"/>
<circle cx="432.0" cy="144.4" r="1.15" fill="#1d3578"/>
<circle cx="420.2" cy="74.8" r="1.15" fill="#1d3578"/>
<circle cx="420.2" cy="81.5" r="1.15" fill="#1d3578"/>
<circle cx="420.3" cy="66.2" r="1.15" fill="#1d3578"/>
<rect x="395.4" y="83.1" width="49.4" height="48.0" fill="none" stroke="#2a4889" stroke-width="1.1"/>
<line x1="395.40" y1="110.10" x2="444.80" y2="110.10" stroke="#2a4889" stroke-width="1.1"/>
<line x1="420.00" y1="71.50" x2="420.00" y2="83.10" stroke="#5a72ab" stroke-width="1.3"/>
<line x1="417.00" y1="71.50" x2="423.00" y2="71.50" stroke="#2a4889" stroke-width="1.1"/>
<line x1="420.00" y1="131.10" x2="420.00" y2="143.40" stroke="#5a72ab" stroke-width="1.3"/>
<line x1="417.00" y1="143.40" x2="423.00" y2="143.40" stroke="#2a4889" stroke-width="1.1"/>
<circle cx="483.2" cy="125.3" r="1.0" fill="#a8183c"/>
<circle cx="487.9" cy="130.8" r="1.0" fill="#a8183c"/>
<circle cx="494.7" cy="124.4" r="1.0" fill="#a8183c"/>
<circle cx="500.8" cy="126.0" r="1.0" fill="#a8183c"/>
<circle cx="480.9" cy="137.7" r="1.0" fill="#a8183c"/>
<circle cx="486.8" cy="129.0" r="1.0" fill="#a8183c"/>
<circle cx="493.3" cy="138.1" r="1.0" fill="#a8183c"/>
<circle cx="491.6" cy="126.9" r="1.0" fill="#a8183c"/>
<circle cx="460.0" cy="140.4" r="1.0" fill="#a8183c"/>
<circle cx="492.3" cy="140.5" r="1.0" fill="#a8183c"/>
<circle cx="501.8" cy="134.7" r="1.0" fill="#a8183c"/>
<circle cx="479.4" cy="141.2" r="1.0" fill="#a8183c"/>
<circle cx="463.1" cy="131.6" r="1.0" fill="#a8183c"/>
<circle cx="499.7" cy="125.8" r="1.0" fill="#a8183c"/>
<circle cx="472.6" cy="136.1" r="1.0" fill="#a8183c"/>
<circle cx="475.0" cy="137.0" r="1.0" fill="#a8183c"/>
<circle cx="501.0" cy="138.2" r="1.0" fill="#a8183c"/>
<circle cx="496.8" cy="145.5" r="1.0" fill="#a8183c"/>
<circle cx="466.2" cy="140.3" r="1.0" fill="#a8183c"/>
<circle cx="498.9" cy="144.0" r="1.0" fill="#a8183c"/>
<circle cx="468.4" cy="140.0" r="1.0" fill="#a8183c"/>
<circle cx="471.9" cy="130.8" r="1.0" fill="#a8183c"/>
<circle cx="505.0" cy="131.1" r="1.0" fill="#a8183c"/>
<circle cx="477.8" cy="131.8" r="1.0" fill="#a8183c"/>
<circle cx="492.0" cy="129.0" r="1.0" fill="#a8183c"/>
<circle cx="486.0" cy="122.8" r="1.0" fill="#a8183c"/>
<circle cx="474.1" cy="140.6" r="1.0" fill="#a8183c"/>
<circle cx="481.7" cy="145.5" r="1.0" fill="#a8183c"/>
<circle cx="462.1" cy="137.2" r="1.0" fill="#a8183c"/>
<circle cx="469.7" cy="125.6" r="1.0" fill="#a8183c"/>
<circle cx="465.8" cy="130.5" r="1.0" fill="#a8183c"/>
<circle cx="473.3" cy="141.5" r="1.0" fill="#a8183c"/>
<circle cx="476.2" cy="143.6" r="1.0" fill="#a8183c"/>
<circle cx="488.8" cy="137.1" r="1.0" fill="#a8183c"/>
<circle cx="487.6" cy="141.3" r="1.0" fill="#a8183c"/>
<circle cx="478.8" cy="138.6" r="1.0" fill="#a8183c"/>
<circle cx="473.7" cy="129.8" r="1.0" fill="#a8183c"/>
<circle cx="484.3" cy="130.1" r="1.0" fill="#a8183c"/>
<circle cx="485.8" cy="130.2" r="1.0" fill="#a8183c"/>
<circle cx="488.2" cy="130.7" r="1.0" fill="#a8183c"/>
<circle cx="480.4" cy="138.2" r="1.0" fill="#a8183c"/>
<circle cx="491.7" cy="138.9" r="1.0" fill="#a8183c"/>
<circle cx="464.4" cy="127.6" r="1.0" fill="#a8183c"/>
<circle cx="470.8" cy="143.6" r="1.0" fill="#a8183c"/>
<circle cx="473.5" cy="134.4" r="1.0" fill="#a8183c"/>
<circle cx="475.9" cy="137.1" r="1.0" fill="#a8183c"/>
<circle cx="476.2" cy="139.3" r="1.0" fill="#a8183c"/>
<circle cx="484.2" cy="128.0" r="1.0" fill="#a8183c"/>
<circle cx="469.0" cy="139.6" r="1.0" fill="#a8183c"/>
<circle cx="469.3" cy="125.8" r="1.0" fill="#a8183c"/>
<circle cx="463.3" cy="133.9" r="1.0" fill="#a8183c"/>
<circle cx="497.7" cy="135.3" r="1.0" fill="#a8183c"/>
<circle cx="466.5" cy="134.0" r="1.0" fill="#a8183c"/>
<circle cx="500.1" cy="135.4" r="1.0" fill="#a8183c"/>
<circle cx="466.7" cy="126.5" r="1.0" fill="#a8183c"/>
<circle cx="493.5" cy="128.8" r="1.0" fill="#a8183c"/>
<circle cx="472.9" cy="128.6" r="1.0" fill="#a8183c"/>
<circle cx="496.4" cy="134.1" r="1.0" fill="#a8183c"/>
<circle cx="473.4" cy="128.5" r="1.0" fill="#a8183c"/>
<circle cx="475.5" cy="125.6" r="1.0" fill="#a8183c"/>
<circle cx="477.7" cy="141.0" r="1.0" fill="#a8183c"/>
<circle cx="462.2" cy="129.6" r="1.0" fill="#a8183c"/>
<circle cx="504.9" cy="135.2" r="1.0" fill="#a8183c"/>
<circle cx="499.9" cy="142.8" r="1.0" fill="#a8183c"/>
<circle cx="497.8" cy="138.0" r="1.0" fill="#a8183c"/>
<circle cx="472.1" cy="134.1" r="1.0" fill="#a8183c"/>
<circle cx="464.7" cy="126.9" r="1.0" fill="#a8183c"/>
<circle cx="493.6" cy="122.8" r="1.0" fill="#a8183c"/>
<circle cx="489.8" cy="145.2" r="1.0" fill="#a8183c"/>
<circle cx="498.7" cy="144.0" r="1.0" fill="#a8183c"/>
<circle cx="491.1" cy="123.8" r="1.0" fill="#a8183c"/>
<circle cx="487.9" cy="126.4" r="1.0" fill="#a8183c"/>
<circle cx="502.6" cy="137.3" r="1.0" fill="#a8183c"/>
<circle cx="470.4" cy="140.3" r="1.0" fill="#a8183c"/>
<circle cx="495.3" cy="134.2" r="1.0" fill="#a8183c"/>
<circle cx="482.9" cy="128.6" r="1.0" fill="#a8183c"/>
<circle cx="492.9" cy="129.4" r="1.0" fill="#a8183c"/>
<circle cx="497.2" cy="130.1" r="1.0" fill="#a8183c"/>
<circle cx="499.0" cy="130.6" r="1.0" fill="#a8183c"/>
<circle cx="472.5" cy="126.5" r="1.0" fill="#a8183c"/>
<circle cx="480.7" cy="139.3" r="1.0" fill="#a8183c"/>
<circle cx="464.1" cy="123.5" r="1.0" fill="#a8183c"/>
<circle cx="464.7" cy="129.8" r="1.0" fill="#a8183c"/>
<circle cx="462.5" cy="136.0" r="1.0" fill="#a8183c"/>
<circle cx="473.3" cy="134.2" r="1.0" fill="#a8183c"/>
<circle cx="486.1" cy="134.3" r="1.0" fill="#a8183c"/>
<circle cx="474.8" cy="123.4" r="1.0" fill="#a8183c"/>
<circle cx="492.2" cy="134.6" r="1.0" fill="#a8183c"/>
<circle cx="469.0" cy="125.3" r="1.0" fill="#a8183c"/>
<circle cx="495.3" cy="134.6" r="1.0" fill="#a8183c"/>
<circle cx="487.8" cy="135.2" r="1.0" fill="#a8183c"/>
<circle cx="481.8" cy="138.4" r="1.0" fill="#a8183c"/>
<circle cx="491.1" cy="135.5" r="1.0" fill="#a8183c"/>
<circle cx="482.9" cy="127.7" r="1.0" fill="#a8183c"/>
<circle cx="478.6" cy="125.7" r="1.0" fill="#a8183c"/>
<circle cx="502.5" cy="134.5" r="1.0" fill="#a8183c"/>
<circle cx="494.0" cy="142.9" r="1.0" fill="#a8183c"/>
<circle cx="464.3" cy="139.8" r="1.0" fill="#a8183c"/>
<circle cx="500.2" cy="139.5" r="1.0" fill="#a8183c"/>
<circle cx="493.0" cy="136.8" r="1.0" fill="#a8183c"/>
<rect x="456.8" y="129.6" width="49.7" height="12.3" fill="none" stroke="#b3173d" stroke-width="1.1"/>
<line x1="456.80" y1="136.70" x2="506.50" y2="136.70" stroke="#b3173d" stroke-width="1.0"/>
<line x1="481.70" y1="125.00" x2="481.70" y2="129.60" stroke="#b3173d" stroke-width="1.2"/>
<line x1="479.50" y1="125.00" x2="484.00" y2="125.00" stroke="#b3173d" stroke-width="1.0"/>
<line x1="481.70" y1="141.90" x2="481.70" y2="144.50" stroke="#b3173d" stroke-width="1.2"/>
<line x1="389.00" y1="44.00" x2="389.00" y2="147.10" stroke="#000" stroke-width="1.3"/>
<line x1="388.40" y1="146.50" x2="512.00" y2="146.50" stroke="#000" stroke-width="1.3"/>
<line x1="420.00" y1="146.50" x2="420.00" y2="149.50" stroke="#000" stroke-width="1.0"/>
<line x1="481.70" y1="146.50" x2="481.70" y2="149.50" stroke="#000" stroke-width="1.0"/>
<text x="420.0" y="160.3" font-size="8.2" text-anchor="middle" fill="#000" stroke="#000" stroke-width="0.16" textLength="19.5" lengthAdjust="spacingAndGlyphs">CTRL</text>
<text x="481.8" y="160.3" font-size="8.2" text-anchor="middle" fill="#000" stroke="#000" stroke-width="0.16" textLength="38.5" lengthAdjust="spacingAndGlyphs">shDNM2-3</text>
<circle cx="66" cy="221.8" r="6.3" fill="#d6d6d6" stroke="#000" stroke-width="1.1"/>
<circle cx="66" cy="221.8" r="4.0" fill="#000"/>
<text x="104.4" y="210.1" font-size="8.4" text-anchor="middle" fill="#000" stroke="#000" stroke-width="0.16" textLength="68.6" lengthAdjust="spacingAndGlyphs">Human Cord Blood</text>
<text x="104.4" y="220.8" font-size="8.4" text-anchor="middle" fill="#000" stroke="#000" stroke-width="0.16" textLength="43.1" lengthAdjust="spacingAndGlyphs">CD34+ cells</text>
<line x1="66.30" y1="232.00" x2="66.30" y2="305.00" stroke="#000" stroke-width="0.9"/>
<path d="M64.6 303.9 L66.3 308.1 L68.0 303.9 Z" fill="#000"/>
<text transform="translate(62.6 266.6) rotate(-90)" font-size="8.2" text-anchor="middle" fill="#000" stroke="#000" stroke-width="0.16" textLength="66.0" lengthAdjust="spacingAndGlyphs">MK differentiation</text>
<line x1="72.50" y1="286.40" x2="80.80" y2="286.40" stroke="#000" stroke-width="0.9"/>
<path d="M70.3 286.4 L74.3 284.5 L74.3 288.3 Z" fill="#000"/>
<text x="112.5" y="275.6" font-size="8.2" text-anchor="middle" fill="#000" stroke="#000" stroke-width="0.16" textLength="31.2" lengthAdjust="spacingAndGlyphs">shDNM2</text>
<text x="112.5" y="298.7" font-size="8.2" text-anchor="middle" fill="#000" stroke="#000" stroke-width="0.16" textLength="42.7" lengthAdjust="spacingAndGlyphs">or dynasore</text>
<ellipse cx="64.15" cy="333.6" rx="25.5" ry="19.9" fill="#a4a4a4" stroke="#111" stroke-width="1.2"/>
<ellipse cx="64.45" cy="334.3" rx="16.4" ry="10.2" fill="#fff" stroke="#111" stroke-width="1.1"/>
<ellipse cx="52.3" cy="333" rx="3.10" ry="1.76" transform="rotate(35 52.3 333)" fill="#000"/>
<ellipse cx="55.5" cy="329.6" rx="1.35" ry="1.22" transform="rotate(0 55.5 329.6)" fill="#000"/>
<ellipse cx="60" cy="328.7" rx="2.16" ry="1.76" transform="rotate(0 60 328.7)" fill="#000"/>
<ellipse cx="64.3" cy="326.6" rx="1.62" ry="1.08" transform="rotate(20 64.3 326.6)" fill="#000"/>
<ellipse cx="69" cy="328.4" rx="3.24" ry="1.76" transform="rotate(10 69 328.4)" fill="#000"/>
<ellipse cx="65" cy="333.8" rx="2.84" ry="2.43" transform="rotate(0 65 333.8)" fill="#000"/>
<ellipse cx="73.9" cy="333.8" rx="1.76" ry="2.16" transform="rotate(0 73.9 333.8)" fill="#000"/>
<ellipse cx="53.6" cy="338.3" rx="2.16" ry="1.49" transform="rotate(0 53.6 338.3)" fill="#000"/>
<ellipse cx="59.5" cy="337.8" rx="2.43" ry="2.03" transform="rotate(30 59.5 337.8)" fill="#000"/>
<ellipse cx="66.4" cy="341.6" rx="2.03" ry="1.62" transform="rotate(0 66.4 341.6)" fill="#000"/>
<ellipse cx="72.7" cy="338.6" rx="1.35" ry="2.16" transform="rotate(20 72.7 338.6)" fill="#000"/>
<ellipse cx="62" cy="336.2" rx="1.22" ry="0.94" transform="rotate(0 62 336.2)" fill="#000"/>
<ellipse cx="57.5" cy="332.5" rx="1.08" ry="0.94" transform="rotate(0 57.5 332.5)" fill="#000"/>
<text x="103.5" y="365.8" font-size="8.2" text-anchor="middle" fill="#000" stroke="#000" stroke-width="0.16" textLength="42.6" lengthAdjust="spacingAndGlyphs">Human MKs</text>
<text x="230.6" y="240.3" font-size="8.1" text-anchor="middle" fill="#000" stroke="#000" stroke-width="0.16" textLength="70.4" lengthAdjust="spacingAndGlyphs">Transwell migration</text>
<text x="230.4" y="250.8" font-size="8.1" text-anchor="middle" fill="#000" stroke="#000" stroke-width="0.16" textLength="23.8" lengthAdjust="spacingAndGlyphs">of MKs</text>
<line x1="198.40" y1="256.20" x2="198.40" y2="332.80" stroke="#000" stroke-width="1.2"/>
<line x1="195.40" y1="332.20" x2="198.40" y2="332.20" stroke="#000" stroke-width="1.0"/>
<text x="192.6" y="335.0" font-size="7.7" text-anchor="end" fill="#000" stroke="#000" stroke-width="0.16" textLength="4.28" lengthAdjust="spacingAndGlyphs">0</text>
<line x1="195.40" y1="308.00" x2="198.40" y2="308.00" stroke="#000" stroke-width="1.0"/>
<text x="192.6" y="310.8" font-size="7.7" text-anchor="end" fill="#000" stroke="#000" stroke-width="0.16" textLength="8.56" lengthAdjust="spacingAndGlyphs">50</text>
<line x1="195.40" y1="283.80" x2="198.40" y2="283.80" stroke="#000" stroke-width="1.0"/>
<text x="192.6" y="286.6" font-size="7.7" text-anchor="end" fill="#000" stroke="#000" stroke-width="0.16" textLength="12.85" lengthAdjust="spacingAndGlyphs">100</text>
<line x1="195.40" y1="259.60" x2="198.40" y2="259.60" stroke="#000" stroke-width="1.0"/>
<text x="192.6" y="262.40000000000003" font-size="7.7" text-anchor="end" fill="#000" stroke="#000" stroke-width="0.16" textLength="12.85" lengthAdjust="spacingAndGlyphs">150</text>
<text transform="translate(161.4 298.9) rotate(-90)" font-size="9.5" text-anchor="middle" fill="#000" stroke="#000" stroke-width="0.16" textLength="93.3" lengthAdjust="spacingAndGlyphs">Percent MK migration</text>
<text transform="translate(171.5 297.2) rotate(-90)" font-size="9.3" text-anchor="middle" fill="#000" stroke="#000" stroke-width="0.16" textLength="99.6" lengthAdjust="spacingAndGlyphs">(normalized to control)</text>
<path d="M208.1 332.2 V284.3 H225.1 V332.2" fill="#fff" stroke="#3a5695" stroke-width="1"/>
<path d="M235.0 332.2 V307.4 H251.6 V332.2" fill="#fff" stroke="#be1f4a" stroke-width="1"/>
<circle cx="212.1" cy="284.1" r="1.15" fill="#1d3578"/>
<circle cx="216.6" cy="284.1" r="1.15" fill="#1d3578"/>
<circle cx="220.9" cy="284.1" r="1.15" fill="#1d3578"/>
<line x1="243.60" y1="300.00" x2="243.60" y2="314.00" stroke="#333" stroke-width="1.0"/>
<line x1="239.30" y1="300.00" x2="247.90" y2="300.00" stroke="#333" stroke-width="1.1"/>
<line x1="239.30" y1="314.00" x2="247.90" y2="314.00" stroke="#333" stroke-width="1.1"/>
<circle cx="243.6" cy="300.0" r="1.45" fill="#c40f2c"/>
<circle cx="243.6" cy="305.6" r="1.45" fill="#c40f2c"/>
<circle cx="243.6" cy="314.0" r="1.45" fill="#c40f2c"/>
<line x1="197.90" y1="332.20" x2="261.60" y2="332.20" stroke="#000" stroke-width="1.2"/>
<line x1="216.60" y1="332.20" x2="216.60" y2="335.20" stroke="#000" stroke-width="1.0"/>
<line x1="243.60" y1="332.20" x2="243.60" y2="335.20" stroke="#000" stroke-width="1.0"/>
<path d="M216.4 275.6 V269.5 H244 V275.6" fill="none" stroke="#000" stroke-width="1"/>
<text x="230.2" y="270.3" font-size="7.4" text-anchor="middle" fill="#000" stroke="#000" stroke-width="0.16" textLength="2.88" lengthAdjust="spacingAndGlyphs">*</text>
<text transform="translate(221.0 342.6) rotate(-45)" font-size="8.2" text-anchor="end" fill="#000" stroke="#000" stroke-width="0.16" textLength="20.0" lengthAdjust="spacingAndGlyphs">CTRL</text>
<text transform="translate(247.4 343.2) rotate(-45)" font-size="8.2" text-anchor="end" fill="#000" stroke="#000" stroke-width="0.16" textLength="22.0" lengthAdjust="spacingAndGlyphs">DNSR</text>
<text x="358.79999999999995" y="240.3" font-size="8.1" text-anchor="middle" fill="#000" stroke="#000" stroke-width="0.16" textLength="70.4" lengthAdjust="spacingAndGlyphs">Transwell migration</text>
<text x="358.6" y="250.8" font-size="8.1" text-anchor="middle" fill="#000" stroke="#000" stroke-width="0.16" textLength="23.8" lengthAdjust="spacingAndGlyphs">of MKs</text>
<line x1="326.30" y1="256.20" x2="326.30" y2="332.80" stroke="#000" stroke-width="1.2"/>
<line x1="323.30" y1="332.20" x2="326.30" y2="332.20" stroke="#000" stroke-width="1.0"/>
<text x="320.5" y="335.0" font-size="7.7" text-anchor="end" fill="#000" stroke="#000" stroke-width="0.16" textLength="4.28" lengthAdjust="spacingAndGlyphs">0</text>
<line x1="323.30" y1="308.00" x2="326.30" y2="308.00" stroke="#000" stroke-width="1.0"/>
<text x="320.5" y="310.8" font-size="7.7" text-anchor="end" fill="#000" stroke="#000" stroke-width="0.16" textLength="8.56" lengthAdjust="spacingAndGlyphs">50</text>
<line x1="323.30" y1="283.80" x2="326.30" y2="283.80" stroke="#000" stroke-width="1.0"/>
<text x="320.5" y="286.6" font-size="7.7" text-anchor="end" fill="#000" stroke="#000" stroke-width="0.16" textLength="12.85" lengthAdjust="spacingAndGlyphs">100</text>
<line x1="323.30" y1="259.60" x2="326.30" y2="259.60" stroke="#000" stroke-width="1.0"/>
<text x="320.5" y="262.40000000000003" font-size="7.7" text-anchor="end" fill="#000" stroke="#000" stroke-width="0.16" textLength="12.85" lengthAdjust="spacingAndGlyphs">150</text>
<text transform="translate(287.4 292.2) rotate(-90)" font-size="9.5" text-anchor="middle" fill="#000" stroke="#000" stroke-width="0.16" textLength="93.3" lengthAdjust="spacingAndGlyphs">Percent MK migration</text>
<text transform="translate(297.5 290.5) rotate(-90)" font-size="9.3" text-anchor="middle" fill="#000" stroke="#000" stroke-width="0.16" textLength="99.6" lengthAdjust="spacingAndGlyphs">(normalized to control)</text>
<path d="M336.5 332.2 V284.3 H353.5 V332.2" fill="#fff" stroke="#3a5695" stroke-width="1"/>
<path d="M362.8 332.2 V308.4 H379.4 V332.2" fill="#fff" stroke="#be1f4a" stroke-width="1"/>
<circle cx="340.3" cy="284.1" r="1.15" fill="#1d3578"/>
<circle cx="344.6" cy="284.1" r="1.15" fill="#1d3578"/>
<circle cx="349.3" cy="284.1" r="1.15" fill="#1d3578"/>
<line x1="371.40" y1="305.20" x2="371.40" y2="310.70" stroke="#333" stroke-width="1.0"/>
<line x1="367.00" y1="305.20" x2="375.70" y2="305.20" stroke="#333" stroke-width="1.1"/>
<line x1="367.00" y1="310.70" x2="375.70" y2="310.70" stroke="#333" stroke-width="1.1"/>
<circle cx="371.2" cy="304.8" r="1.45" fill="#c40f2c"/>
<circle cx="373.7" cy="307.7" r="1.45" fill="#c40f2c"/>
<circle cx="368.8" cy="310.8" r="1.45" fill="#c40f2c"/>
<line x1="325.80" y1="332.20" x2="391.70" y2="332.20" stroke="#000" stroke-width="1.2"/>
<line x1="344.60" y1="332.20" x2="344.60" y2="335.20" stroke="#000" stroke-width="1.0"/>
<line x1="371.60" y1="332.20" x2="371.60" y2="335.20" stroke="#000" stroke-width="1.0"/>
<path d="M344.4 278.5 V272.3 H372 V278.5" fill="none" stroke="#000" stroke-width="1"/>
<text x="358.2" y="273.2" font-size="7.4" text-anchor="middle" fill="#000" stroke="#000" stroke-width="0.16" textLength="6.6" lengthAdjust="spacingAndGlyphs">**</text>
<text transform="translate(349.6 343.0) rotate(-45)" font-size="8.2" text-anchor="end" fill="#000" stroke="#000" stroke-width="0.16" textLength="20.0" lengthAdjust="spacingAndGlyphs">CTRL</text>
<text transform="translate(375.2 343.2) rotate(-45)" font-size="8.2" text-anchor="end" fill="#000" stroke="#000" stroke-width="0.16" textLength="32.0" lengthAdjust="spacingAndGlyphs">shDNM2</text>
<defs><filter id="bl" x="-50%" y="-80%" width="200%" height="260%"><feGaussianBlur stdDeviation="0.8"/></filter><filter id="bl2" x="-50%" y="-80%" width="200%" height="260%"><feGaussianBlur stdDeviation="0.6"/></filter></defs>
<rect x="397.0" y="259.9" width="40.5" height="12.5" fill="#acacac"/>
<rect x="417.2" y="259.9" width="20.3" height="12.5" fill="#b0b0b0"/>
<g filter="url(#bl2)"><rect x="403.6" y="266.3" width="7.6" height="2.1" rx="1.0" fill="#242424"/><rect x="426.6" y="266.7" width="5.4" height="1.2" rx="0.6" fill="#9a9a9a"/></g>
<rect x="397.0" y="291.6" width="40.5" height="15.0" fill="#a6a6a6"/>
<g filter="url(#bl)"><rect x="401.9" y="297.6" width="9.6" height="4.8" rx="2.2" fill="#262626"/><rect x="423.6" y="297.8" width="9.4" height="4.5" rx="2.1" fill="#2c2c2c"/></g>
<text transform="translate(404.6 254.6) rotate(-45)" font-size="8.2" text-anchor="start" fill="#000" stroke="#000" stroke-width="0.16" textLength="18.8" lengthAdjust="spacingAndGlyphs">CTRL</text>
<text transform="translate(429.4 255.6) rotate(-45)" font-size="8.2" text-anchor="start" fill="#000" stroke="#000" stroke-width="0.16" textLength="30.5" lengthAdjust="spacingAndGlyphs">shDNM2</text>
<text x="405.2" y="283.5" font-size="8.2" text-anchor="middle" fill="#000" stroke="#000" stroke-width="0.16" textLength="19.8" lengthAdjust="spacingAndGlyphs">100%</text>
<text x="432.0" y="283.5" font-size="8.2" text-anchor="middle" fill="#000" stroke="#000" stroke-width="0.16" textLength="16.0" lengthAdjust="spacingAndGlyphs">32%</text>
<text x="470.0" y="268.8" font-size="8.2" text-anchor="middle" fill="#000" stroke="#000" stroke-width="0.16" textLength="23.0" lengthAdjust="spacingAndGlyphs">DNM2</text>
<text x="475.3" y="283.5" font-size="8.2" text-anchor="middle" fill="#000" stroke="#000" stroke-width="0.16" textLength="49.5" lengthAdjust="spacingAndGlyphs">Fold decrease</text>
<text x="470.0" y="302.2" font-size="8.2" text-anchor="middle" fill="#000" stroke="#000" stroke-width="0.16" textLength="18.5" lengthAdjust="spacingAndGlyphs">Actin</text>
</svg>
</body></html>
